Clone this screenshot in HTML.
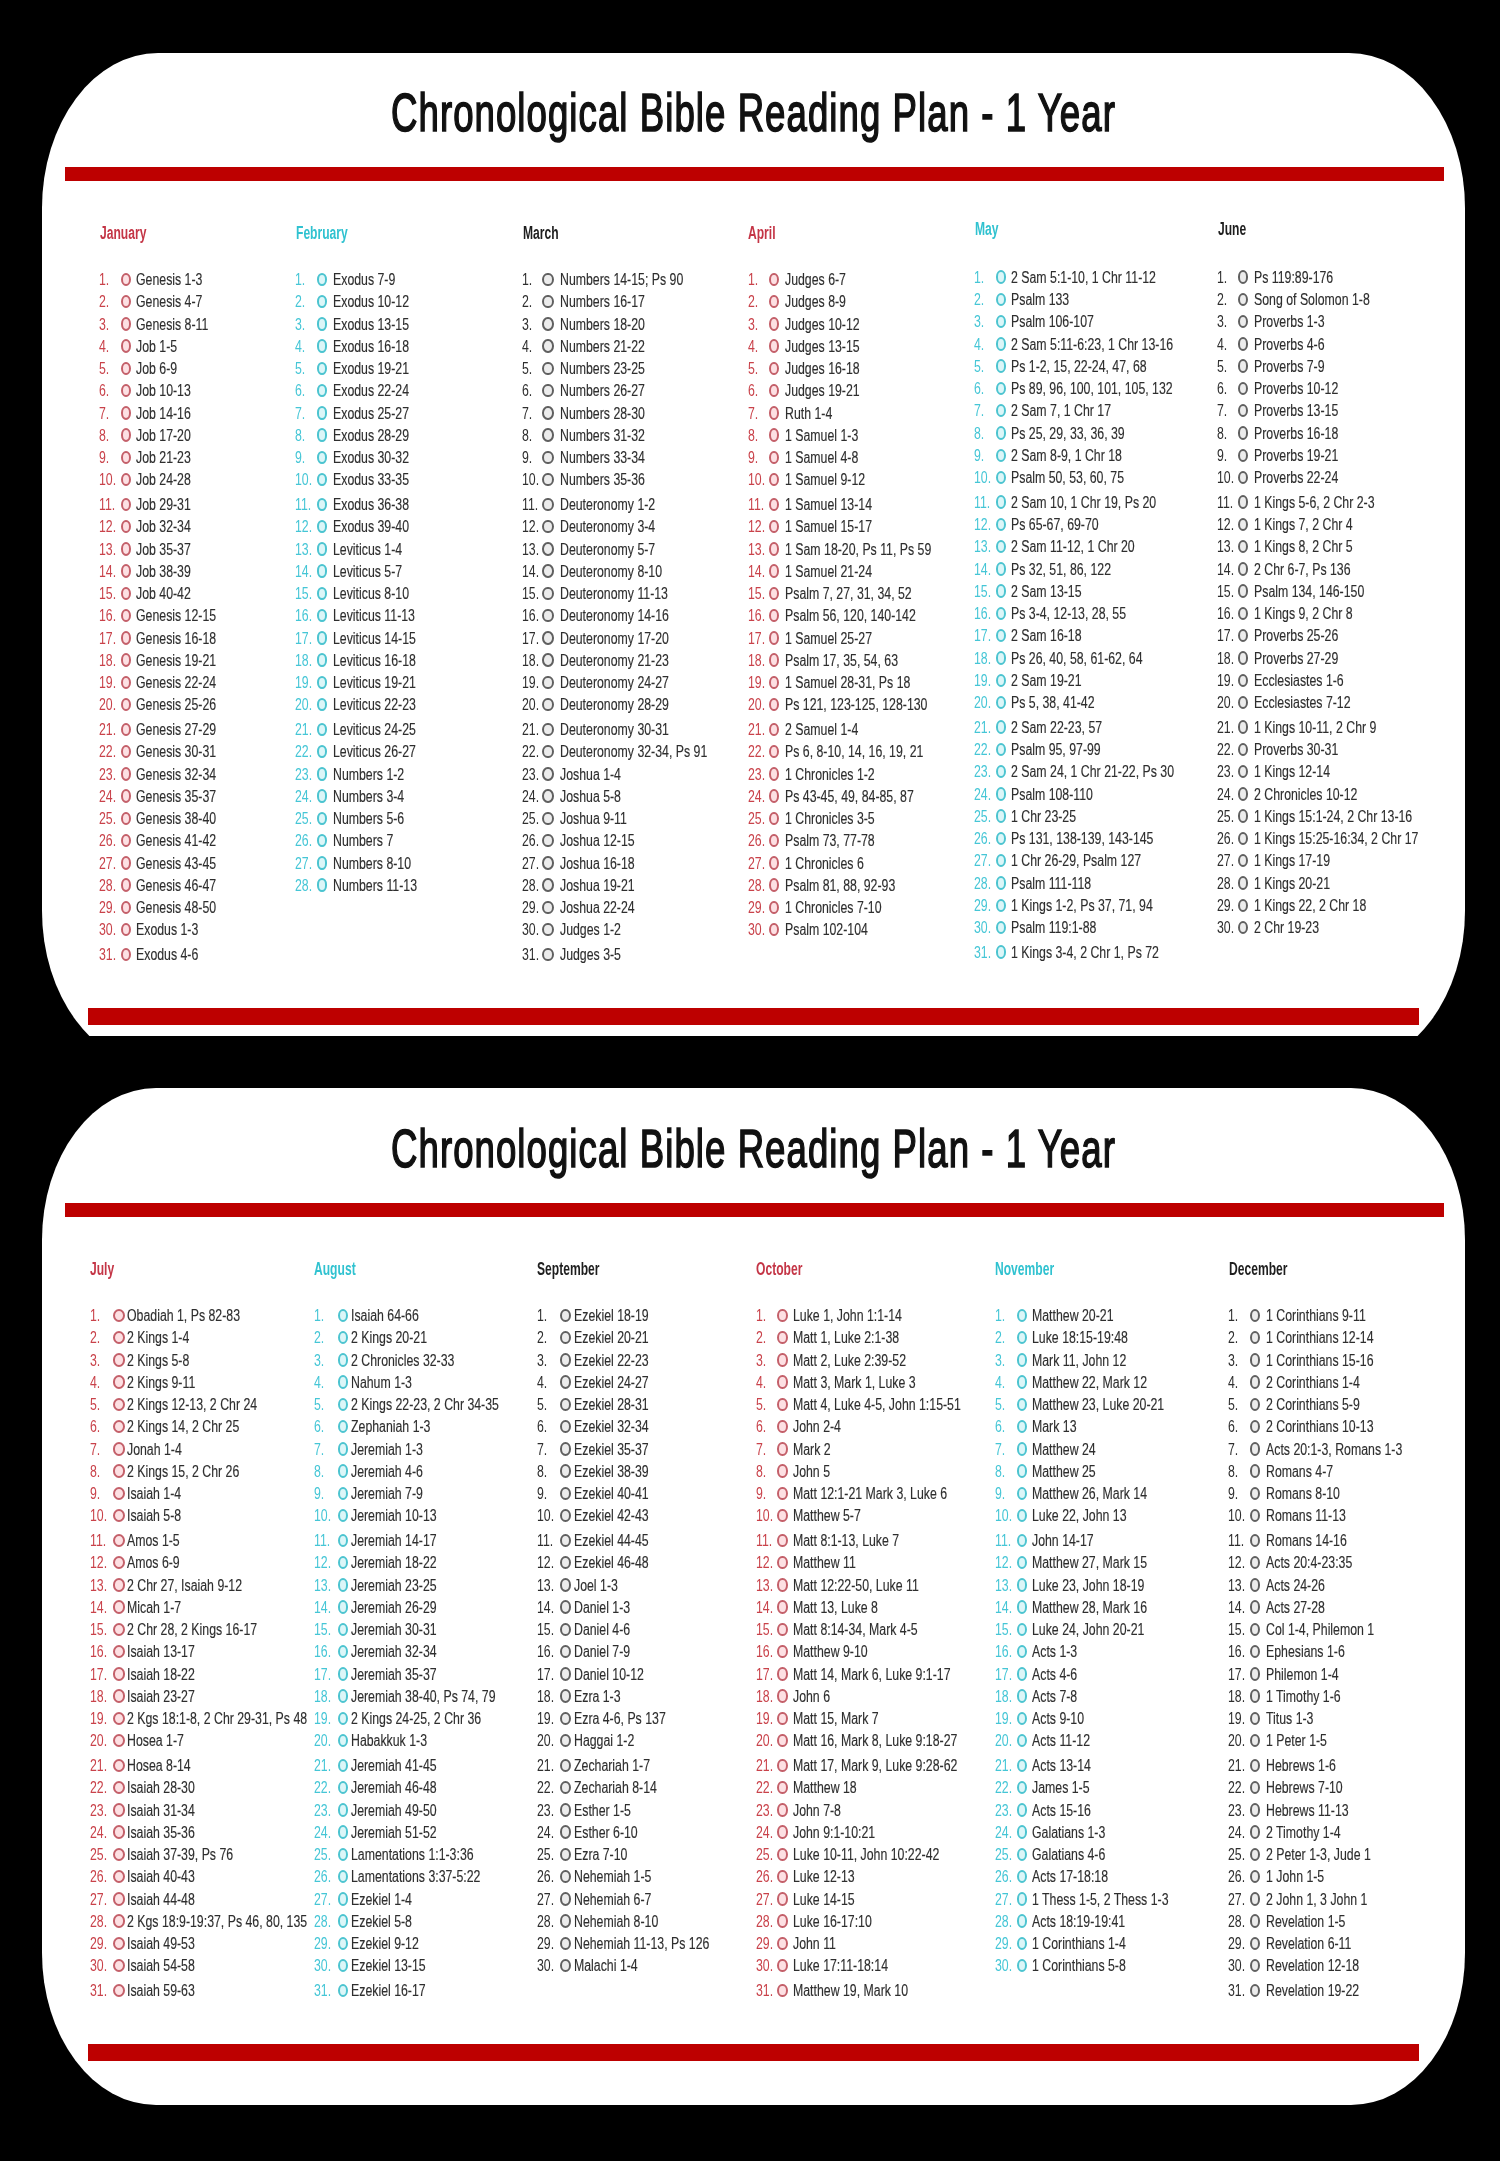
<!DOCTYPE html>
<html><head><meta charset="utf-8"><title>Chronological Bible Reading Plan</title>
<style>
html,body{margin:0;padding:0;background:#000;}
body{width:1500px;height:2161px;position:relative;overflow:hidden;font-family:"Liberation Sans",sans-serif;}
#w{position:absolute;left:0;top:0;width:1500px;height:2161px;filter:blur(0.5px);}
.t{position:absolute;line-height:1;white-space:nowrap;transform-origin:0 0;}
.card{position:absolute;background:#fff;}
.clip{position:absolute;overflow:hidden;}
.bar{position:absolute;background:#bd0000;}
.c{position:absolute;box-sizing:border-box;border-radius:50%;}
</style></head><body><div id="w">

<div class="clip" style="left:0;top:53px;width:1500px;height:983px;"><div class="card" style="left:42px;top:0;width:1423px;height:1013px;border-radius:116px/155px;"></div></div>
<div class="card" style="left:42px;top:1088px;width:1423px;height:1017px;border-radius:114px/152px;"></div>
<div class="bar" style="left:64.5px;top:167px;width:1379px;height:14px;"></div>
<div class="bar" style="left:87.5px;top:1008px;width:1331px;height:17px;"></div>
<div class="bar" style="left:64.5px;top:1203px;width:1379px;height:13.5px;"></div>
<div class="bar" style="left:88px;top:2044px;width:1331px;height:16.5px;"></div>
<div class="t" style="left:391.4px;top:85.9px;font-size:53.0px;transform:scaleX(0.69);color:#111;font-weight:normal;-webkit-text-stroke:1.6px #111;letter-spacing:1.55px;">Chronological Bible Reading Plan - 1 Year</div>
<div class="t" style="left:391.4px;top:1121.6px;font-size:53.0px;transform:scaleX(0.69);color:#111;font-weight:normal;-webkit-text-stroke:1.6px #111;letter-spacing:1.55px;">Chronological Bible Reading Plan - 1 Year</div>
<div class="t" style="left:99.8px;top:223.8px;font-size:18.0px;transform:scaleX(0.672);color:#c43546;font-weight:bold;">January</div>
<div class="t" style="left:99.0px;top:272.0px;font-size:16.0px;transform:scaleX(0.77);color:#c9424a;font-weight:normal;">1.</div>
<div class="c" style="left:121.0px;top:272.5px;width:10.2px;height:13.5px;border:2.4px solid #c4606a;background:#fde0e3;"></div>
<div class="t" style="left:135.6px;top:272.0px;font-size:16.0px;transform:scaleX(0.77);color:#2e2e2e;font-weight:normal;-webkit-text-stroke:0.15px #2e2e2e;">Genesis 1-3</div>
<div class="t" style="left:99.0px;top:294.2px;font-size:16.0px;transform:scaleX(0.77);color:#c9424a;font-weight:normal;">2.</div>
<div class="c" style="left:121.0px;top:294.8px;width:10.2px;height:13.5px;border:2.4px solid #c4606a;background:#fde0e3;"></div>
<div class="t" style="left:135.6px;top:294.2px;font-size:16.0px;transform:scaleX(0.77);color:#2e2e2e;font-weight:normal;-webkit-text-stroke:0.15px #2e2e2e;">Genesis 4-7</div>
<div class="t" style="left:99.0px;top:316.5px;font-size:16.0px;transform:scaleX(0.77);color:#c9424a;font-weight:normal;">3.</div>
<div class="c" style="left:121.0px;top:317.0px;width:10.2px;height:13.5px;border:2.4px solid #c4606a;background:#fde0e3;"></div>
<div class="t" style="left:135.6px;top:316.5px;font-size:16.0px;transform:scaleX(0.77);color:#2e2e2e;font-weight:normal;-webkit-text-stroke:0.15px #2e2e2e;">Genesis 8-11</div>
<div class="t" style="left:99.0px;top:338.8px;font-size:16.0px;transform:scaleX(0.77);color:#c9424a;font-weight:normal;">4.</div>
<div class="c" style="left:121.0px;top:339.3px;width:10.2px;height:13.5px;border:2.4px solid #c4606a;background:#fde0e3;"></div>
<div class="t" style="left:135.6px;top:338.8px;font-size:16.0px;transform:scaleX(0.77);color:#2e2e2e;font-weight:normal;-webkit-text-stroke:0.15px #2e2e2e;">Job 1-5</div>
<div class="t" style="left:99.0px;top:361.0px;font-size:16.0px;transform:scaleX(0.77);color:#c9424a;font-weight:normal;">5.</div>
<div class="c" style="left:121.0px;top:361.6px;width:10.2px;height:13.5px;border:2.4px solid #c4606a;background:#fde0e3;"></div>
<div class="t" style="left:135.6px;top:361.0px;font-size:16.0px;transform:scaleX(0.77);color:#2e2e2e;font-weight:normal;-webkit-text-stroke:0.15px #2e2e2e;">Job 6-9</div>
<div class="t" style="left:99.0px;top:383.3px;font-size:16.0px;transform:scaleX(0.77);color:#c9424a;font-weight:normal;">6.</div>
<div class="c" style="left:121.0px;top:383.9px;width:10.2px;height:13.5px;border:2.4px solid #c4606a;background:#fde0e3;"></div>
<div class="t" style="left:135.6px;top:383.3px;font-size:16.0px;transform:scaleX(0.77);color:#2e2e2e;font-weight:normal;-webkit-text-stroke:0.15px #2e2e2e;">Job 10-13</div>
<div class="t" style="left:99.0px;top:405.6px;font-size:16.0px;transform:scaleX(0.77);color:#c9424a;font-weight:normal;">7.</div>
<div class="c" style="left:121.0px;top:406.1px;width:10.2px;height:13.5px;border:2.4px solid #c4606a;background:#fde0e3;"></div>
<div class="t" style="left:135.6px;top:405.6px;font-size:16.0px;transform:scaleX(0.77);color:#2e2e2e;font-weight:normal;-webkit-text-stroke:0.15px #2e2e2e;">Job 14-16</div>
<div class="t" style="left:99.0px;top:427.8px;font-size:16.0px;transform:scaleX(0.77);color:#c9424a;font-weight:normal;">8.</div>
<div class="c" style="left:121.0px;top:428.4px;width:10.2px;height:13.5px;border:2.4px solid #c4606a;background:#fde0e3;"></div>
<div class="t" style="left:135.6px;top:427.8px;font-size:16.0px;transform:scaleX(0.77);color:#2e2e2e;font-weight:normal;-webkit-text-stroke:0.15px #2e2e2e;">Job 17-20</div>
<div class="t" style="left:99.0px;top:450.1px;font-size:16.0px;transform:scaleX(0.77);color:#c9424a;font-weight:normal;">9.</div>
<div class="c" style="left:121.0px;top:450.7px;width:10.2px;height:13.5px;border:2.4px solid #c4606a;background:#fde0e3;"></div>
<div class="t" style="left:135.6px;top:450.1px;font-size:16.0px;transform:scaleX(0.77);color:#2e2e2e;font-weight:normal;-webkit-text-stroke:0.15px #2e2e2e;">Job 21-23</div>
<div class="t" style="left:99.0px;top:472.4px;font-size:16.0px;transform:scaleX(0.77);color:#c9424a;font-weight:normal;">10.</div>
<div class="c" style="left:121.0px;top:472.9px;width:10.2px;height:13.5px;border:2.4px solid #c4606a;background:#fde0e3;"></div>
<div class="t" style="left:135.6px;top:472.4px;font-size:16.0px;transform:scaleX(0.77);color:#2e2e2e;font-weight:normal;-webkit-text-stroke:0.15px #2e2e2e;">Job 24-28</div>
<div class="t" style="left:99.0px;top:497.0px;font-size:16.0px;transform:scaleX(0.77);color:#c9424a;font-weight:normal;">11.</div>
<div class="c" style="left:121.0px;top:497.5px;width:10.2px;height:13.5px;border:2.4px solid #c4606a;background:#fde0e3;"></div>
<div class="t" style="left:135.6px;top:497.0px;font-size:16.0px;transform:scaleX(0.77);color:#2e2e2e;font-weight:normal;-webkit-text-stroke:0.15px #2e2e2e;">Job 29-31</div>
<div class="t" style="left:99.0px;top:519.2px;font-size:16.0px;transform:scaleX(0.77);color:#c9424a;font-weight:normal;">12.</div>
<div class="c" style="left:121.0px;top:519.8px;width:10.2px;height:13.5px;border:2.4px solid #c4606a;background:#fde0e3;"></div>
<div class="t" style="left:135.6px;top:519.2px;font-size:16.0px;transform:scaleX(0.77);color:#2e2e2e;font-weight:normal;-webkit-text-stroke:0.15px #2e2e2e;">Job 32-34</div>
<div class="t" style="left:99.0px;top:541.5px;font-size:16.0px;transform:scaleX(0.77);color:#c9424a;font-weight:normal;">13.</div>
<div class="c" style="left:121.0px;top:542.0px;width:10.2px;height:13.5px;border:2.4px solid #c4606a;background:#fde0e3;"></div>
<div class="t" style="left:135.6px;top:541.5px;font-size:16.0px;transform:scaleX(0.77);color:#2e2e2e;font-weight:normal;-webkit-text-stroke:0.15px #2e2e2e;">Job 35-37</div>
<div class="t" style="left:99.0px;top:563.8px;font-size:16.0px;transform:scaleX(0.77);color:#c9424a;font-weight:normal;">14.</div>
<div class="c" style="left:121.0px;top:564.3px;width:10.2px;height:13.5px;border:2.4px solid #c4606a;background:#fde0e3;"></div>
<div class="t" style="left:135.6px;top:563.8px;font-size:16.0px;transform:scaleX(0.77);color:#2e2e2e;font-weight:normal;-webkit-text-stroke:0.15px #2e2e2e;">Job 38-39</div>
<div class="t" style="left:99.0px;top:586.0px;font-size:16.0px;transform:scaleX(0.77);color:#c9424a;font-weight:normal;">15.</div>
<div class="c" style="left:121.0px;top:586.6px;width:10.2px;height:13.5px;border:2.4px solid #c4606a;background:#fde0e3;"></div>
<div class="t" style="left:135.6px;top:586.0px;font-size:16.0px;transform:scaleX(0.77);color:#2e2e2e;font-weight:normal;-webkit-text-stroke:0.15px #2e2e2e;">Job 40-42</div>
<div class="t" style="left:99.0px;top:608.3px;font-size:16.0px;transform:scaleX(0.77);color:#c9424a;font-weight:normal;">16.</div>
<div class="c" style="left:121.0px;top:608.8px;width:10.2px;height:13.5px;border:2.4px solid #c4606a;background:#fde0e3;"></div>
<div class="t" style="left:135.6px;top:608.3px;font-size:16.0px;transform:scaleX(0.77);color:#2e2e2e;font-weight:normal;-webkit-text-stroke:0.15px #2e2e2e;">Genesis 12-15</div>
<div class="t" style="left:99.0px;top:630.6px;font-size:16.0px;transform:scaleX(0.77);color:#c9424a;font-weight:normal;">17.</div>
<div class="c" style="left:121.0px;top:631.1px;width:10.2px;height:13.5px;border:2.4px solid #c4606a;background:#fde0e3;"></div>
<div class="t" style="left:135.6px;top:630.6px;font-size:16.0px;transform:scaleX(0.77);color:#2e2e2e;font-weight:normal;-webkit-text-stroke:0.15px #2e2e2e;">Genesis 16-18</div>
<div class="t" style="left:99.0px;top:652.8px;font-size:16.0px;transform:scaleX(0.77);color:#c9424a;font-weight:normal;">18.</div>
<div class="c" style="left:121.0px;top:653.4px;width:10.2px;height:13.5px;border:2.4px solid #c4606a;background:#fde0e3;"></div>
<div class="t" style="left:135.6px;top:652.8px;font-size:16.0px;transform:scaleX(0.77);color:#2e2e2e;font-weight:normal;-webkit-text-stroke:0.15px #2e2e2e;">Genesis 19-21</div>
<div class="t" style="left:99.0px;top:675.1px;font-size:16.0px;transform:scaleX(0.77);color:#c9424a;font-weight:normal;">19.</div>
<div class="c" style="left:121.0px;top:675.7px;width:10.2px;height:13.5px;border:2.4px solid #c4606a;background:#fde0e3;"></div>
<div class="t" style="left:135.6px;top:675.1px;font-size:16.0px;transform:scaleX(0.77);color:#2e2e2e;font-weight:normal;-webkit-text-stroke:0.15px #2e2e2e;">Genesis 22-24</div>
<div class="t" style="left:99.0px;top:697.4px;font-size:16.0px;transform:scaleX(0.77);color:#c9424a;font-weight:normal;">20.</div>
<div class="c" style="left:121.0px;top:697.9px;width:10.2px;height:13.5px;border:2.4px solid #c4606a;background:#fde0e3;"></div>
<div class="t" style="left:135.6px;top:697.4px;font-size:16.0px;transform:scaleX(0.77);color:#2e2e2e;font-weight:normal;-webkit-text-stroke:0.15px #2e2e2e;">Genesis 25-26</div>
<div class="t" style="left:99.0px;top:722.0px;font-size:16.0px;transform:scaleX(0.77);color:#c9424a;font-weight:normal;">21.</div>
<div class="c" style="left:121.0px;top:722.5px;width:10.2px;height:13.5px;border:2.4px solid #c4606a;background:#fde0e3;"></div>
<div class="t" style="left:135.6px;top:722.0px;font-size:16.0px;transform:scaleX(0.77);color:#2e2e2e;font-weight:normal;-webkit-text-stroke:0.15px #2e2e2e;">Genesis 27-29</div>
<div class="t" style="left:99.0px;top:744.2px;font-size:16.0px;transform:scaleX(0.77);color:#c9424a;font-weight:normal;">22.</div>
<div class="c" style="left:121.0px;top:744.8px;width:10.2px;height:13.5px;border:2.4px solid #c4606a;background:#fde0e3;"></div>
<div class="t" style="left:135.6px;top:744.2px;font-size:16.0px;transform:scaleX(0.77);color:#2e2e2e;font-weight:normal;-webkit-text-stroke:0.15px #2e2e2e;">Genesis 30-31</div>
<div class="t" style="left:99.0px;top:766.5px;font-size:16.0px;transform:scaleX(0.77);color:#c9424a;font-weight:normal;">23.</div>
<div class="c" style="left:121.0px;top:767.0px;width:10.2px;height:13.5px;border:2.4px solid #c4606a;background:#fde0e3;"></div>
<div class="t" style="left:135.6px;top:766.5px;font-size:16.0px;transform:scaleX(0.77);color:#2e2e2e;font-weight:normal;-webkit-text-stroke:0.15px #2e2e2e;">Genesis 32-34</div>
<div class="t" style="left:99.0px;top:788.8px;font-size:16.0px;transform:scaleX(0.77);color:#c9424a;font-weight:normal;">24.</div>
<div class="c" style="left:121.0px;top:789.3px;width:10.2px;height:13.5px;border:2.4px solid #c4606a;background:#fde0e3;"></div>
<div class="t" style="left:135.6px;top:788.8px;font-size:16.0px;transform:scaleX(0.77);color:#2e2e2e;font-weight:normal;-webkit-text-stroke:0.15px #2e2e2e;">Genesis 35-37</div>
<div class="t" style="left:99.0px;top:811.0px;font-size:16.0px;transform:scaleX(0.77);color:#c9424a;font-weight:normal;">25.</div>
<div class="c" style="left:121.0px;top:811.6px;width:10.2px;height:13.5px;border:2.4px solid #c4606a;background:#fde0e3;"></div>
<div class="t" style="left:135.6px;top:811.0px;font-size:16.0px;transform:scaleX(0.77);color:#2e2e2e;font-weight:normal;-webkit-text-stroke:0.15px #2e2e2e;">Genesis 38-40</div>
<div class="t" style="left:99.0px;top:833.3px;font-size:16.0px;transform:scaleX(0.77);color:#c9424a;font-weight:normal;">26.</div>
<div class="c" style="left:121.0px;top:833.9px;width:10.2px;height:13.5px;border:2.4px solid #c4606a;background:#fde0e3;"></div>
<div class="t" style="left:135.6px;top:833.3px;font-size:16.0px;transform:scaleX(0.77);color:#2e2e2e;font-weight:normal;-webkit-text-stroke:0.15px #2e2e2e;">Genesis 41-42</div>
<div class="t" style="left:99.0px;top:855.6px;font-size:16.0px;transform:scaleX(0.77);color:#c9424a;font-weight:normal;">27.</div>
<div class="c" style="left:121.0px;top:856.1px;width:10.2px;height:13.5px;border:2.4px solid #c4606a;background:#fde0e3;"></div>
<div class="t" style="left:135.6px;top:855.6px;font-size:16.0px;transform:scaleX(0.77);color:#2e2e2e;font-weight:normal;-webkit-text-stroke:0.15px #2e2e2e;">Genesis 43-45</div>
<div class="t" style="left:99.0px;top:877.8px;font-size:16.0px;transform:scaleX(0.77);color:#c9424a;font-weight:normal;">28.</div>
<div class="c" style="left:121.0px;top:878.4px;width:10.2px;height:13.5px;border:2.4px solid #c4606a;background:#fde0e3;"></div>
<div class="t" style="left:135.6px;top:877.8px;font-size:16.0px;transform:scaleX(0.77);color:#2e2e2e;font-weight:normal;-webkit-text-stroke:0.15px #2e2e2e;">Genesis 46-47</div>
<div class="t" style="left:99.0px;top:900.1px;font-size:16.0px;transform:scaleX(0.77);color:#c9424a;font-weight:normal;">29.</div>
<div class="c" style="left:121.0px;top:900.7px;width:10.2px;height:13.5px;border:2.4px solid #c4606a;background:#fde0e3;"></div>
<div class="t" style="left:135.6px;top:900.1px;font-size:16.0px;transform:scaleX(0.77);color:#2e2e2e;font-weight:normal;-webkit-text-stroke:0.15px #2e2e2e;">Genesis 48-50</div>
<div class="t" style="left:99.0px;top:922.4px;font-size:16.0px;transform:scaleX(0.77);color:#c9424a;font-weight:normal;">30.</div>
<div class="c" style="left:121.0px;top:922.9px;width:10.2px;height:13.5px;border:2.4px solid #c4606a;background:#fde0e3;"></div>
<div class="t" style="left:135.6px;top:922.4px;font-size:16.0px;transform:scaleX(0.77);color:#2e2e2e;font-weight:normal;-webkit-text-stroke:0.15px #2e2e2e;">Exodus 1-3</div>
<div class="t" style="left:99.0px;top:947.0px;font-size:16.0px;transform:scaleX(0.77);color:#c9424a;font-weight:normal;">31.</div>
<div class="c" style="left:121.0px;top:947.5px;width:10.2px;height:13.5px;border:2.4px solid #c4606a;background:#fde0e3;"></div>
<div class="t" style="left:135.6px;top:947.0px;font-size:16.0px;transform:scaleX(0.77);color:#2e2e2e;font-weight:normal;-webkit-text-stroke:0.15px #2e2e2e;">Exodus 4-6</div>
<div class="t" style="left:295.7px;top:223.8px;font-size:18.0px;transform:scaleX(0.672);color:#30c2d0;font-weight:bold;">February</div>
<div class="t" style="left:295.0px;top:272.0px;font-size:16.0px;transform:scaleX(0.77);color:#45c6d6;font-weight:normal;">1.</div>
<div class="c" style="left:316.7px;top:272.5px;width:10.6px;height:13.5px;border:2.4px solid #4cc4d0;background:#dcf6f8;"></div>
<div class="t" style="left:332.5px;top:272.0px;font-size:16.0px;transform:scaleX(0.77);color:#2e2e2e;font-weight:normal;-webkit-text-stroke:0.15px #2e2e2e;">Exodus 7-9</div>
<div class="t" style="left:295.0px;top:294.2px;font-size:16.0px;transform:scaleX(0.77);color:#45c6d6;font-weight:normal;">2.</div>
<div class="c" style="left:316.7px;top:294.8px;width:10.6px;height:13.5px;border:2.4px solid #4cc4d0;background:#dcf6f8;"></div>
<div class="t" style="left:332.5px;top:294.2px;font-size:16.0px;transform:scaleX(0.77);color:#2e2e2e;font-weight:normal;-webkit-text-stroke:0.15px #2e2e2e;">Exodus 10-12</div>
<div class="t" style="left:295.0px;top:316.5px;font-size:16.0px;transform:scaleX(0.77);color:#45c6d6;font-weight:normal;">3.</div>
<div class="c" style="left:316.7px;top:317.0px;width:10.6px;height:13.5px;border:2.4px solid #4cc4d0;background:#dcf6f8;"></div>
<div class="t" style="left:332.5px;top:316.5px;font-size:16.0px;transform:scaleX(0.77);color:#2e2e2e;font-weight:normal;-webkit-text-stroke:0.15px #2e2e2e;">Exodus 13-15</div>
<div class="t" style="left:295.0px;top:338.8px;font-size:16.0px;transform:scaleX(0.77);color:#45c6d6;font-weight:normal;">4.</div>
<div class="c" style="left:316.7px;top:339.3px;width:10.6px;height:13.5px;border:2.4px solid #4cc4d0;background:#dcf6f8;"></div>
<div class="t" style="left:332.5px;top:338.8px;font-size:16.0px;transform:scaleX(0.77);color:#2e2e2e;font-weight:normal;-webkit-text-stroke:0.15px #2e2e2e;">Exodus 16-18</div>
<div class="t" style="left:295.0px;top:361.0px;font-size:16.0px;transform:scaleX(0.77);color:#45c6d6;font-weight:normal;">5.</div>
<div class="c" style="left:316.7px;top:361.6px;width:10.6px;height:13.5px;border:2.4px solid #4cc4d0;background:#dcf6f8;"></div>
<div class="t" style="left:332.5px;top:361.0px;font-size:16.0px;transform:scaleX(0.77);color:#2e2e2e;font-weight:normal;-webkit-text-stroke:0.15px #2e2e2e;">Exodus 19-21</div>
<div class="t" style="left:295.0px;top:383.3px;font-size:16.0px;transform:scaleX(0.77);color:#45c6d6;font-weight:normal;">6.</div>
<div class="c" style="left:316.7px;top:383.9px;width:10.6px;height:13.5px;border:2.4px solid #4cc4d0;background:#dcf6f8;"></div>
<div class="t" style="left:332.5px;top:383.3px;font-size:16.0px;transform:scaleX(0.77);color:#2e2e2e;font-weight:normal;-webkit-text-stroke:0.15px #2e2e2e;">Exodus 22-24</div>
<div class="t" style="left:295.0px;top:405.6px;font-size:16.0px;transform:scaleX(0.77);color:#45c6d6;font-weight:normal;">7.</div>
<div class="c" style="left:316.7px;top:406.1px;width:10.6px;height:13.5px;border:2.4px solid #4cc4d0;background:#dcf6f8;"></div>
<div class="t" style="left:332.5px;top:405.6px;font-size:16.0px;transform:scaleX(0.77);color:#2e2e2e;font-weight:normal;-webkit-text-stroke:0.15px #2e2e2e;">Exodus 25-27</div>
<div class="t" style="left:295.0px;top:427.8px;font-size:16.0px;transform:scaleX(0.77);color:#45c6d6;font-weight:normal;">8.</div>
<div class="c" style="left:316.7px;top:428.4px;width:10.6px;height:13.5px;border:2.4px solid #4cc4d0;background:#dcf6f8;"></div>
<div class="t" style="left:332.5px;top:427.8px;font-size:16.0px;transform:scaleX(0.77);color:#2e2e2e;font-weight:normal;-webkit-text-stroke:0.15px #2e2e2e;">Exodus 28-29</div>
<div class="t" style="left:295.0px;top:450.1px;font-size:16.0px;transform:scaleX(0.77);color:#45c6d6;font-weight:normal;">9.</div>
<div class="c" style="left:316.7px;top:450.7px;width:10.6px;height:13.5px;border:2.4px solid #4cc4d0;background:#dcf6f8;"></div>
<div class="t" style="left:332.5px;top:450.1px;font-size:16.0px;transform:scaleX(0.77);color:#2e2e2e;font-weight:normal;-webkit-text-stroke:0.15px #2e2e2e;">Exodus 30-32</div>
<div class="t" style="left:295.0px;top:472.4px;font-size:16.0px;transform:scaleX(0.77);color:#45c6d6;font-weight:normal;">10.</div>
<div class="c" style="left:316.7px;top:472.9px;width:10.6px;height:13.5px;border:2.4px solid #4cc4d0;background:#dcf6f8;"></div>
<div class="t" style="left:332.5px;top:472.4px;font-size:16.0px;transform:scaleX(0.77);color:#2e2e2e;font-weight:normal;-webkit-text-stroke:0.15px #2e2e2e;">Exodus 33-35</div>
<div class="t" style="left:295.0px;top:497.0px;font-size:16.0px;transform:scaleX(0.77);color:#45c6d6;font-weight:normal;">11.</div>
<div class="c" style="left:316.7px;top:497.5px;width:10.6px;height:13.5px;border:2.4px solid #4cc4d0;background:#dcf6f8;"></div>
<div class="t" style="left:332.5px;top:497.0px;font-size:16.0px;transform:scaleX(0.77);color:#2e2e2e;font-weight:normal;-webkit-text-stroke:0.15px #2e2e2e;">Exodus 36-38</div>
<div class="t" style="left:295.0px;top:519.2px;font-size:16.0px;transform:scaleX(0.77);color:#45c6d6;font-weight:normal;">12.</div>
<div class="c" style="left:316.7px;top:519.8px;width:10.6px;height:13.5px;border:2.4px solid #4cc4d0;background:#dcf6f8;"></div>
<div class="t" style="left:332.5px;top:519.2px;font-size:16.0px;transform:scaleX(0.77);color:#2e2e2e;font-weight:normal;-webkit-text-stroke:0.15px #2e2e2e;">Exodus 39-40</div>
<div class="t" style="left:295.0px;top:541.5px;font-size:16.0px;transform:scaleX(0.77);color:#45c6d6;font-weight:normal;">13.</div>
<div class="c" style="left:316.7px;top:542.0px;width:10.6px;height:13.5px;border:2.4px solid #4cc4d0;background:#dcf6f8;"></div>
<div class="t" style="left:332.5px;top:541.5px;font-size:16.0px;transform:scaleX(0.77);color:#2e2e2e;font-weight:normal;-webkit-text-stroke:0.15px #2e2e2e;">Leviticus 1-4</div>
<div class="t" style="left:295.0px;top:563.8px;font-size:16.0px;transform:scaleX(0.77);color:#45c6d6;font-weight:normal;">14.</div>
<div class="c" style="left:316.7px;top:564.3px;width:10.6px;height:13.5px;border:2.4px solid #4cc4d0;background:#dcf6f8;"></div>
<div class="t" style="left:332.5px;top:563.8px;font-size:16.0px;transform:scaleX(0.77);color:#2e2e2e;font-weight:normal;-webkit-text-stroke:0.15px #2e2e2e;">Leviticus 5-7</div>
<div class="t" style="left:295.0px;top:586.0px;font-size:16.0px;transform:scaleX(0.77);color:#45c6d6;font-weight:normal;">15.</div>
<div class="c" style="left:316.7px;top:586.6px;width:10.6px;height:13.5px;border:2.4px solid #4cc4d0;background:#dcf6f8;"></div>
<div class="t" style="left:332.5px;top:586.0px;font-size:16.0px;transform:scaleX(0.77);color:#2e2e2e;font-weight:normal;-webkit-text-stroke:0.15px #2e2e2e;">Leviticus 8-10</div>
<div class="t" style="left:295.0px;top:608.3px;font-size:16.0px;transform:scaleX(0.77);color:#45c6d6;font-weight:normal;">16.</div>
<div class="c" style="left:316.7px;top:608.8px;width:10.6px;height:13.5px;border:2.4px solid #4cc4d0;background:#dcf6f8;"></div>
<div class="t" style="left:332.5px;top:608.3px;font-size:16.0px;transform:scaleX(0.77);color:#2e2e2e;font-weight:normal;-webkit-text-stroke:0.15px #2e2e2e;">Leviticus 11-13</div>
<div class="t" style="left:295.0px;top:630.6px;font-size:16.0px;transform:scaleX(0.77);color:#45c6d6;font-weight:normal;">17.</div>
<div class="c" style="left:316.7px;top:631.1px;width:10.6px;height:13.5px;border:2.4px solid #4cc4d0;background:#dcf6f8;"></div>
<div class="t" style="left:332.5px;top:630.6px;font-size:16.0px;transform:scaleX(0.77);color:#2e2e2e;font-weight:normal;-webkit-text-stroke:0.15px #2e2e2e;">Leviticus 14-15</div>
<div class="t" style="left:295.0px;top:652.8px;font-size:16.0px;transform:scaleX(0.77);color:#45c6d6;font-weight:normal;">18.</div>
<div class="c" style="left:316.7px;top:653.4px;width:10.6px;height:13.5px;border:2.4px solid #4cc4d0;background:#dcf6f8;"></div>
<div class="t" style="left:332.5px;top:652.8px;font-size:16.0px;transform:scaleX(0.77);color:#2e2e2e;font-weight:normal;-webkit-text-stroke:0.15px #2e2e2e;">Leviticus 16-18</div>
<div class="t" style="left:295.0px;top:675.1px;font-size:16.0px;transform:scaleX(0.77);color:#45c6d6;font-weight:normal;">19.</div>
<div class="c" style="left:316.7px;top:675.7px;width:10.6px;height:13.5px;border:2.4px solid #4cc4d0;background:#dcf6f8;"></div>
<div class="t" style="left:332.5px;top:675.1px;font-size:16.0px;transform:scaleX(0.77);color:#2e2e2e;font-weight:normal;-webkit-text-stroke:0.15px #2e2e2e;">Leviticus 19-21</div>
<div class="t" style="left:295.0px;top:697.4px;font-size:16.0px;transform:scaleX(0.77);color:#45c6d6;font-weight:normal;">20.</div>
<div class="c" style="left:316.7px;top:697.9px;width:10.6px;height:13.5px;border:2.4px solid #4cc4d0;background:#dcf6f8;"></div>
<div class="t" style="left:332.5px;top:697.4px;font-size:16.0px;transform:scaleX(0.77);color:#2e2e2e;font-weight:normal;-webkit-text-stroke:0.15px #2e2e2e;">Leviticus 22-23</div>
<div class="t" style="left:295.0px;top:722.0px;font-size:16.0px;transform:scaleX(0.77);color:#45c6d6;font-weight:normal;">21.</div>
<div class="c" style="left:316.7px;top:722.5px;width:10.6px;height:13.5px;border:2.4px solid #4cc4d0;background:#dcf6f8;"></div>
<div class="t" style="left:332.5px;top:722.0px;font-size:16.0px;transform:scaleX(0.77);color:#2e2e2e;font-weight:normal;-webkit-text-stroke:0.15px #2e2e2e;">Leviticus 24-25</div>
<div class="t" style="left:295.0px;top:744.2px;font-size:16.0px;transform:scaleX(0.77);color:#45c6d6;font-weight:normal;">22.</div>
<div class="c" style="left:316.7px;top:744.8px;width:10.6px;height:13.5px;border:2.4px solid #4cc4d0;background:#dcf6f8;"></div>
<div class="t" style="left:332.5px;top:744.2px;font-size:16.0px;transform:scaleX(0.77);color:#2e2e2e;font-weight:normal;-webkit-text-stroke:0.15px #2e2e2e;">Leviticus 26-27</div>
<div class="t" style="left:295.0px;top:766.5px;font-size:16.0px;transform:scaleX(0.77);color:#45c6d6;font-weight:normal;">23.</div>
<div class="c" style="left:316.7px;top:767.0px;width:10.6px;height:13.5px;border:2.4px solid #4cc4d0;background:#dcf6f8;"></div>
<div class="t" style="left:332.5px;top:766.5px;font-size:16.0px;transform:scaleX(0.77);color:#2e2e2e;font-weight:normal;-webkit-text-stroke:0.15px #2e2e2e;">Numbers 1-2</div>
<div class="t" style="left:295.0px;top:788.8px;font-size:16.0px;transform:scaleX(0.77);color:#45c6d6;font-weight:normal;">24.</div>
<div class="c" style="left:316.7px;top:789.3px;width:10.6px;height:13.5px;border:2.4px solid #4cc4d0;background:#dcf6f8;"></div>
<div class="t" style="left:332.5px;top:788.8px;font-size:16.0px;transform:scaleX(0.77);color:#2e2e2e;font-weight:normal;-webkit-text-stroke:0.15px #2e2e2e;">Numbers 3-4</div>
<div class="t" style="left:295.0px;top:811.0px;font-size:16.0px;transform:scaleX(0.77);color:#45c6d6;font-weight:normal;">25.</div>
<div class="c" style="left:316.7px;top:811.6px;width:10.6px;height:13.5px;border:2.4px solid #4cc4d0;background:#dcf6f8;"></div>
<div class="t" style="left:332.5px;top:811.0px;font-size:16.0px;transform:scaleX(0.77);color:#2e2e2e;font-weight:normal;-webkit-text-stroke:0.15px #2e2e2e;">Numbers 5-6</div>
<div class="t" style="left:295.0px;top:833.3px;font-size:16.0px;transform:scaleX(0.77);color:#45c6d6;font-weight:normal;">26.</div>
<div class="c" style="left:316.7px;top:833.9px;width:10.6px;height:13.5px;border:2.4px solid #4cc4d0;background:#dcf6f8;"></div>
<div class="t" style="left:332.5px;top:833.3px;font-size:16.0px;transform:scaleX(0.77);color:#2e2e2e;font-weight:normal;-webkit-text-stroke:0.15px #2e2e2e;">Numbers 7</div>
<div class="t" style="left:295.0px;top:855.6px;font-size:16.0px;transform:scaleX(0.77);color:#45c6d6;font-weight:normal;">27.</div>
<div class="c" style="left:316.7px;top:856.1px;width:10.6px;height:13.5px;border:2.4px solid #4cc4d0;background:#dcf6f8;"></div>
<div class="t" style="left:332.5px;top:855.6px;font-size:16.0px;transform:scaleX(0.77);color:#2e2e2e;font-weight:normal;-webkit-text-stroke:0.15px #2e2e2e;">Numbers 8-10</div>
<div class="t" style="left:295.0px;top:877.8px;font-size:16.0px;transform:scaleX(0.77);color:#45c6d6;font-weight:normal;">28.</div>
<div class="c" style="left:316.7px;top:878.4px;width:10.6px;height:13.5px;border:2.4px solid #4cc4d0;background:#dcf6f8;"></div>
<div class="t" style="left:332.5px;top:877.8px;font-size:16.0px;transform:scaleX(0.77);color:#2e2e2e;font-weight:normal;-webkit-text-stroke:0.15px #2e2e2e;">Numbers 11-13</div>
<div class="t" style="left:522.7px;top:223.8px;font-size:18.0px;transform:scaleX(0.672);color:#1e1e1e;font-weight:bold;">March</div>
<div class="t" style="left:522.0px;top:272.0px;font-size:16.0px;transform:scaleX(0.77);color:#2e2e2e;font-weight:normal;">1.</div>
<div class="c" style="left:542.0px;top:272.5px;width:11.5px;height:13.5px;border:2.4px solid #606060;background:#ececec;"></div>
<div class="t" style="left:559.9px;top:272.0px;font-size:16.0px;transform:scaleX(0.77);color:#2e2e2e;font-weight:normal;-webkit-text-stroke:0.15px #2e2e2e;">Numbers 14-15; Ps 90</div>
<div class="t" style="left:522.0px;top:294.2px;font-size:16.0px;transform:scaleX(0.77);color:#2e2e2e;font-weight:normal;">2.</div>
<div class="c" style="left:542.0px;top:294.8px;width:11.5px;height:13.5px;border:2.4px solid #606060;background:#ececec;"></div>
<div class="t" style="left:559.9px;top:294.2px;font-size:16.0px;transform:scaleX(0.77);color:#2e2e2e;font-weight:normal;-webkit-text-stroke:0.15px #2e2e2e;">Numbers 16-17</div>
<div class="t" style="left:522.0px;top:316.5px;font-size:16.0px;transform:scaleX(0.77);color:#2e2e2e;font-weight:normal;">3.</div>
<div class="c" style="left:542.0px;top:317.0px;width:11.5px;height:13.5px;border:2.4px solid #606060;background:#ececec;"></div>
<div class="t" style="left:559.9px;top:316.5px;font-size:16.0px;transform:scaleX(0.77);color:#2e2e2e;font-weight:normal;-webkit-text-stroke:0.15px #2e2e2e;">Numbers 18-20</div>
<div class="t" style="left:522.0px;top:338.8px;font-size:16.0px;transform:scaleX(0.77);color:#2e2e2e;font-weight:normal;">4.</div>
<div class="c" style="left:542.0px;top:339.3px;width:11.5px;height:13.5px;border:2.4px solid #606060;background:#ececec;"></div>
<div class="t" style="left:559.9px;top:338.8px;font-size:16.0px;transform:scaleX(0.77);color:#2e2e2e;font-weight:normal;-webkit-text-stroke:0.15px #2e2e2e;">Numbers 21-22</div>
<div class="t" style="left:522.0px;top:361.0px;font-size:16.0px;transform:scaleX(0.77);color:#2e2e2e;font-weight:normal;">5.</div>
<div class="c" style="left:542.0px;top:361.6px;width:11.5px;height:13.5px;border:2.4px solid #606060;background:#ececec;"></div>
<div class="t" style="left:559.9px;top:361.0px;font-size:16.0px;transform:scaleX(0.77);color:#2e2e2e;font-weight:normal;-webkit-text-stroke:0.15px #2e2e2e;">Numbers 23-25</div>
<div class="t" style="left:522.0px;top:383.3px;font-size:16.0px;transform:scaleX(0.77);color:#2e2e2e;font-weight:normal;">6.</div>
<div class="c" style="left:542.0px;top:383.9px;width:11.5px;height:13.5px;border:2.4px solid #606060;background:#ececec;"></div>
<div class="t" style="left:559.9px;top:383.3px;font-size:16.0px;transform:scaleX(0.77);color:#2e2e2e;font-weight:normal;-webkit-text-stroke:0.15px #2e2e2e;">Numbers 26-27</div>
<div class="t" style="left:522.0px;top:405.6px;font-size:16.0px;transform:scaleX(0.77);color:#2e2e2e;font-weight:normal;">7.</div>
<div class="c" style="left:542.0px;top:406.1px;width:11.5px;height:13.5px;border:2.4px solid #606060;background:#ececec;"></div>
<div class="t" style="left:559.9px;top:405.6px;font-size:16.0px;transform:scaleX(0.77);color:#2e2e2e;font-weight:normal;-webkit-text-stroke:0.15px #2e2e2e;">Numbers 28-30</div>
<div class="t" style="left:522.0px;top:427.8px;font-size:16.0px;transform:scaleX(0.77);color:#2e2e2e;font-weight:normal;">8.</div>
<div class="c" style="left:542.0px;top:428.4px;width:11.5px;height:13.5px;border:2.4px solid #606060;background:#ececec;"></div>
<div class="t" style="left:559.9px;top:427.8px;font-size:16.0px;transform:scaleX(0.77);color:#2e2e2e;font-weight:normal;-webkit-text-stroke:0.15px #2e2e2e;">Numbers 31-32</div>
<div class="t" style="left:522.0px;top:450.1px;font-size:16.0px;transform:scaleX(0.77);color:#2e2e2e;font-weight:normal;">9.</div>
<div class="c" style="left:542.0px;top:450.7px;width:11.5px;height:13.5px;border:2.4px solid #606060;background:#ececec;"></div>
<div class="t" style="left:559.9px;top:450.1px;font-size:16.0px;transform:scaleX(0.77);color:#2e2e2e;font-weight:normal;-webkit-text-stroke:0.15px #2e2e2e;">Numbers 33-34</div>
<div class="t" style="left:522.0px;top:472.4px;font-size:16.0px;transform:scaleX(0.77);color:#2e2e2e;font-weight:normal;">10.</div>
<div class="c" style="left:542.0px;top:472.9px;width:11.5px;height:13.5px;border:2.4px solid #606060;background:#ececec;"></div>
<div class="t" style="left:559.9px;top:472.4px;font-size:16.0px;transform:scaleX(0.77);color:#2e2e2e;font-weight:normal;-webkit-text-stroke:0.15px #2e2e2e;">Numbers 35-36</div>
<div class="t" style="left:522.0px;top:497.0px;font-size:16.0px;transform:scaleX(0.77);color:#2e2e2e;font-weight:normal;">11.</div>
<div class="c" style="left:542.0px;top:497.5px;width:11.5px;height:13.5px;border:2.4px solid #606060;background:#ececec;"></div>
<div class="t" style="left:559.9px;top:497.0px;font-size:16.0px;transform:scaleX(0.77);color:#2e2e2e;font-weight:normal;-webkit-text-stroke:0.15px #2e2e2e;">Deuteronomy 1-2</div>
<div class="t" style="left:522.0px;top:519.2px;font-size:16.0px;transform:scaleX(0.77);color:#2e2e2e;font-weight:normal;">12.</div>
<div class="c" style="left:542.0px;top:519.8px;width:11.5px;height:13.5px;border:2.4px solid #606060;background:#ececec;"></div>
<div class="t" style="left:559.9px;top:519.2px;font-size:16.0px;transform:scaleX(0.77);color:#2e2e2e;font-weight:normal;-webkit-text-stroke:0.15px #2e2e2e;">Deuteronomy 3-4</div>
<div class="t" style="left:522.0px;top:541.5px;font-size:16.0px;transform:scaleX(0.77);color:#2e2e2e;font-weight:normal;">13.</div>
<div class="c" style="left:542.0px;top:542.0px;width:11.5px;height:13.5px;border:2.4px solid #606060;background:#ececec;"></div>
<div class="t" style="left:559.9px;top:541.5px;font-size:16.0px;transform:scaleX(0.77);color:#2e2e2e;font-weight:normal;-webkit-text-stroke:0.15px #2e2e2e;">Deuteronomy 5-7</div>
<div class="t" style="left:522.0px;top:563.8px;font-size:16.0px;transform:scaleX(0.77);color:#2e2e2e;font-weight:normal;">14.</div>
<div class="c" style="left:542.0px;top:564.3px;width:11.5px;height:13.5px;border:2.4px solid #606060;background:#ececec;"></div>
<div class="t" style="left:559.9px;top:563.8px;font-size:16.0px;transform:scaleX(0.77);color:#2e2e2e;font-weight:normal;-webkit-text-stroke:0.15px #2e2e2e;">Deuteronomy 8-10</div>
<div class="t" style="left:522.0px;top:586.0px;font-size:16.0px;transform:scaleX(0.77);color:#2e2e2e;font-weight:normal;">15.</div>
<div class="c" style="left:542.0px;top:586.6px;width:11.5px;height:13.5px;border:2.4px solid #606060;background:#ececec;"></div>
<div class="t" style="left:559.9px;top:586.0px;font-size:16.0px;transform:scaleX(0.77);color:#2e2e2e;font-weight:normal;-webkit-text-stroke:0.15px #2e2e2e;">Deuteronomy 11-13</div>
<div class="t" style="left:522.0px;top:608.3px;font-size:16.0px;transform:scaleX(0.77);color:#2e2e2e;font-weight:normal;">16.</div>
<div class="c" style="left:542.0px;top:608.8px;width:11.5px;height:13.5px;border:2.4px solid #606060;background:#ececec;"></div>
<div class="t" style="left:559.9px;top:608.3px;font-size:16.0px;transform:scaleX(0.77);color:#2e2e2e;font-weight:normal;-webkit-text-stroke:0.15px #2e2e2e;">Deuteronomy 14-16</div>
<div class="t" style="left:522.0px;top:630.6px;font-size:16.0px;transform:scaleX(0.77);color:#2e2e2e;font-weight:normal;">17.</div>
<div class="c" style="left:542.0px;top:631.1px;width:11.5px;height:13.5px;border:2.4px solid #606060;background:#ececec;"></div>
<div class="t" style="left:559.9px;top:630.6px;font-size:16.0px;transform:scaleX(0.77);color:#2e2e2e;font-weight:normal;-webkit-text-stroke:0.15px #2e2e2e;">Deuteronomy 17-20</div>
<div class="t" style="left:522.0px;top:652.8px;font-size:16.0px;transform:scaleX(0.77);color:#2e2e2e;font-weight:normal;">18.</div>
<div class="c" style="left:542.0px;top:653.4px;width:11.5px;height:13.5px;border:2.4px solid #606060;background:#ececec;"></div>
<div class="t" style="left:559.9px;top:652.8px;font-size:16.0px;transform:scaleX(0.77);color:#2e2e2e;font-weight:normal;-webkit-text-stroke:0.15px #2e2e2e;">Deuteronomy 21-23</div>
<div class="t" style="left:522.0px;top:675.1px;font-size:16.0px;transform:scaleX(0.77);color:#2e2e2e;font-weight:normal;">19.</div>
<div class="c" style="left:542.0px;top:675.7px;width:11.5px;height:13.5px;border:2.4px solid #606060;background:#ececec;"></div>
<div class="t" style="left:559.9px;top:675.1px;font-size:16.0px;transform:scaleX(0.77);color:#2e2e2e;font-weight:normal;-webkit-text-stroke:0.15px #2e2e2e;">Deuteronomy 24-27</div>
<div class="t" style="left:522.0px;top:697.4px;font-size:16.0px;transform:scaleX(0.77);color:#2e2e2e;font-weight:normal;">20.</div>
<div class="c" style="left:542.0px;top:697.9px;width:11.5px;height:13.5px;border:2.4px solid #606060;background:#ececec;"></div>
<div class="t" style="left:559.9px;top:697.4px;font-size:16.0px;transform:scaleX(0.77);color:#2e2e2e;font-weight:normal;-webkit-text-stroke:0.15px #2e2e2e;">Deuteronomy 28-29</div>
<div class="t" style="left:522.0px;top:722.0px;font-size:16.0px;transform:scaleX(0.77);color:#2e2e2e;font-weight:normal;">21.</div>
<div class="c" style="left:542.0px;top:722.5px;width:11.5px;height:13.5px;border:2.4px solid #606060;background:#ececec;"></div>
<div class="t" style="left:559.9px;top:722.0px;font-size:16.0px;transform:scaleX(0.77);color:#2e2e2e;font-weight:normal;-webkit-text-stroke:0.15px #2e2e2e;">Deuteronomy 30-31</div>
<div class="t" style="left:522.0px;top:744.2px;font-size:16.0px;transform:scaleX(0.77);color:#2e2e2e;font-weight:normal;">22.</div>
<div class="c" style="left:542.0px;top:744.8px;width:11.5px;height:13.5px;border:2.4px solid #606060;background:#ececec;"></div>
<div class="t" style="left:559.9px;top:744.2px;font-size:16.0px;transform:scaleX(0.77);color:#2e2e2e;font-weight:normal;-webkit-text-stroke:0.15px #2e2e2e;">Deuteronomy 32-34, Ps 91</div>
<div class="t" style="left:522.0px;top:766.5px;font-size:16.0px;transform:scaleX(0.77);color:#2e2e2e;font-weight:normal;">23.</div>
<div class="c" style="left:542.0px;top:767.0px;width:11.5px;height:13.5px;border:2.4px solid #606060;background:#ececec;"></div>
<div class="t" style="left:559.9px;top:766.5px;font-size:16.0px;transform:scaleX(0.77);color:#2e2e2e;font-weight:normal;-webkit-text-stroke:0.15px #2e2e2e;">Joshua 1-4</div>
<div class="t" style="left:522.0px;top:788.8px;font-size:16.0px;transform:scaleX(0.77);color:#2e2e2e;font-weight:normal;">24.</div>
<div class="c" style="left:542.0px;top:789.3px;width:11.5px;height:13.5px;border:2.4px solid #606060;background:#ececec;"></div>
<div class="t" style="left:559.9px;top:788.8px;font-size:16.0px;transform:scaleX(0.77);color:#2e2e2e;font-weight:normal;-webkit-text-stroke:0.15px #2e2e2e;">Joshua 5-8</div>
<div class="t" style="left:522.0px;top:811.0px;font-size:16.0px;transform:scaleX(0.77);color:#2e2e2e;font-weight:normal;">25.</div>
<div class="c" style="left:542.0px;top:811.6px;width:11.5px;height:13.5px;border:2.4px solid #606060;background:#ececec;"></div>
<div class="t" style="left:559.9px;top:811.0px;font-size:16.0px;transform:scaleX(0.77);color:#2e2e2e;font-weight:normal;-webkit-text-stroke:0.15px #2e2e2e;">Joshua 9-11</div>
<div class="t" style="left:522.0px;top:833.3px;font-size:16.0px;transform:scaleX(0.77);color:#2e2e2e;font-weight:normal;">26.</div>
<div class="c" style="left:542.0px;top:833.9px;width:11.5px;height:13.5px;border:2.4px solid #606060;background:#ececec;"></div>
<div class="t" style="left:559.9px;top:833.3px;font-size:16.0px;transform:scaleX(0.77);color:#2e2e2e;font-weight:normal;-webkit-text-stroke:0.15px #2e2e2e;">Joshua 12-15</div>
<div class="t" style="left:522.0px;top:855.6px;font-size:16.0px;transform:scaleX(0.77);color:#2e2e2e;font-weight:normal;">27.</div>
<div class="c" style="left:542.0px;top:856.1px;width:11.5px;height:13.5px;border:2.4px solid #606060;background:#ececec;"></div>
<div class="t" style="left:559.9px;top:855.6px;font-size:16.0px;transform:scaleX(0.77);color:#2e2e2e;font-weight:normal;-webkit-text-stroke:0.15px #2e2e2e;">Joshua 16-18</div>
<div class="t" style="left:522.0px;top:877.8px;font-size:16.0px;transform:scaleX(0.77);color:#2e2e2e;font-weight:normal;">28.</div>
<div class="c" style="left:542.0px;top:878.4px;width:11.5px;height:13.5px;border:2.4px solid #606060;background:#ececec;"></div>
<div class="t" style="left:559.9px;top:877.8px;font-size:16.0px;transform:scaleX(0.77);color:#2e2e2e;font-weight:normal;-webkit-text-stroke:0.15px #2e2e2e;">Joshua 19-21</div>
<div class="t" style="left:522.0px;top:900.1px;font-size:16.0px;transform:scaleX(0.77);color:#2e2e2e;font-weight:normal;">29.</div>
<div class="c" style="left:542.0px;top:900.7px;width:11.5px;height:13.5px;border:2.4px solid #606060;background:#ececec;"></div>
<div class="t" style="left:559.9px;top:900.1px;font-size:16.0px;transform:scaleX(0.77);color:#2e2e2e;font-weight:normal;-webkit-text-stroke:0.15px #2e2e2e;">Joshua 22-24</div>
<div class="t" style="left:522.0px;top:922.4px;font-size:16.0px;transform:scaleX(0.77);color:#2e2e2e;font-weight:normal;">30.</div>
<div class="c" style="left:542.0px;top:922.9px;width:11.5px;height:13.5px;border:2.4px solid #606060;background:#ececec;"></div>
<div class="t" style="left:559.9px;top:922.4px;font-size:16.0px;transform:scaleX(0.77);color:#2e2e2e;font-weight:normal;-webkit-text-stroke:0.15px #2e2e2e;">Judges 1-2</div>
<div class="t" style="left:522.0px;top:947.0px;font-size:16.0px;transform:scaleX(0.77);color:#2e2e2e;font-weight:normal;">31.</div>
<div class="c" style="left:542.0px;top:947.5px;width:11.5px;height:13.5px;border:2.4px solid #606060;background:#ececec;"></div>
<div class="t" style="left:559.9px;top:947.0px;font-size:16.0px;transform:scaleX(0.77);color:#2e2e2e;font-weight:normal;-webkit-text-stroke:0.15px #2e2e2e;">Judges 3-5</div>
<div class="t" style="left:748.0px;top:223.8px;font-size:18.0px;transform:scaleX(0.672);color:#c43546;font-weight:bold;">April</div>
<div class="t" style="left:747.7px;top:272.0px;font-size:16.0px;transform:scaleX(0.77);color:#c9424a;font-weight:normal;">1.</div>
<div class="c" style="left:769.3px;top:272.5px;width:9.8px;height:13.5px;border:2.4px solid #c4606a;background:#fde0e3;"></div>
<div class="t" style="left:784.5px;top:272.0px;font-size:16.0px;transform:scaleX(0.77);color:#2e2e2e;font-weight:normal;-webkit-text-stroke:0.15px #2e2e2e;">Judges 6-7</div>
<div class="t" style="left:747.7px;top:294.2px;font-size:16.0px;transform:scaleX(0.77);color:#c9424a;font-weight:normal;">2.</div>
<div class="c" style="left:769.3px;top:294.8px;width:9.8px;height:13.5px;border:2.4px solid #c4606a;background:#fde0e3;"></div>
<div class="t" style="left:784.5px;top:294.2px;font-size:16.0px;transform:scaleX(0.77);color:#2e2e2e;font-weight:normal;-webkit-text-stroke:0.15px #2e2e2e;">Judges 8-9</div>
<div class="t" style="left:747.7px;top:316.5px;font-size:16.0px;transform:scaleX(0.77);color:#c9424a;font-weight:normal;">3.</div>
<div class="c" style="left:769.3px;top:317.0px;width:9.8px;height:13.5px;border:2.4px solid #c4606a;background:#fde0e3;"></div>
<div class="t" style="left:784.5px;top:316.5px;font-size:16.0px;transform:scaleX(0.77);color:#2e2e2e;font-weight:normal;-webkit-text-stroke:0.15px #2e2e2e;">Judges 10-12</div>
<div class="t" style="left:747.7px;top:338.8px;font-size:16.0px;transform:scaleX(0.77);color:#c9424a;font-weight:normal;">4.</div>
<div class="c" style="left:769.3px;top:339.3px;width:9.8px;height:13.5px;border:2.4px solid #c4606a;background:#fde0e3;"></div>
<div class="t" style="left:784.5px;top:338.8px;font-size:16.0px;transform:scaleX(0.77);color:#2e2e2e;font-weight:normal;-webkit-text-stroke:0.15px #2e2e2e;">Judges 13-15</div>
<div class="t" style="left:747.7px;top:361.0px;font-size:16.0px;transform:scaleX(0.77);color:#c9424a;font-weight:normal;">5.</div>
<div class="c" style="left:769.3px;top:361.6px;width:9.8px;height:13.5px;border:2.4px solid #c4606a;background:#fde0e3;"></div>
<div class="t" style="left:784.5px;top:361.0px;font-size:16.0px;transform:scaleX(0.77);color:#2e2e2e;font-weight:normal;-webkit-text-stroke:0.15px #2e2e2e;">Judges 16-18</div>
<div class="t" style="left:747.7px;top:383.3px;font-size:16.0px;transform:scaleX(0.77);color:#c9424a;font-weight:normal;">6.</div>
<div class="c" style="left:769.3px;top:383.9px;width:9.8px;height:13.5px;border:2.4px solid #c4606a;background:#fde0e3;"></div>
<div class="t" style="left:784.5px;top:383.3px;font-size:16.0px;transform:scaleX(0.77);color:#2e2e2e;font-weight:normal;-webkit-text-stroke:0.15px #2e2e2e;">Judges 19-21</div>
<div class="t" style="left:747.7px;top:405.6px;font-size:16.0px;transform:scaleX(0.77);color:#c9424a;font-weight:normal;">7.</div>
<div class="c" style="left:769.3px;top:406.1px;width:9.8px;height:13.5px;border:2.4px solid #c4606a;background:#fde0e3;"></div>
<div class="t" style="left:784.5px;top:405.6px;font-size:16.0px;transform:scaleX(0.77);color:#2e2e2e;font-weight:normal;-webkit-text-stroke:0.15px #2e2e2e;">Ruth 1-4</div>
<div class="t" style="left:747.7px;top:427.8px;font-size:16.0px;transform:scaleX(0.77);color:#c9424a;font-weight:normal;">8.</div>
<div class="c" style="left:769.3px;top:428.4px;width:9.8px;height:13.5px;border:2.4px solid #c4606a;background:#fde0e3;"></div>
<div class="t" style="left:784.5px;top:427.8px;font-size:16.0px;transform:scaleX(0.77);color:#2e2e2e;font-weight:normal;-webkit-text-stroke:0.15px #2e2e2e;">1 Samuel 1-3</div>
<div class="t" style="left:747.7px;top:450.1px;font-size:16.0px;transform:scaleX(0.77);color:#c9424a;font-weight:normal;">9.</div>
<div class="c" style="left:769.3px;top:450.7px;width:9.8px;height:13.5px;border:2.4px solid #c4606a;background:#fde0e3;"></div>
<div class="t" style="left:784.5px;top:450.1px;font-size:16.0px;transform:scaleX(0.77);color:#2e2e2e;font-weight:normal;-webkit-text-stroke:0.15px #2e2e2e;">1 Samuel 4-8</div>
<div class="t" style="left:747.7px;top:472.4px;font-size:16.0px;transform:scaleX(0.77);color:#c9424a;font-weight:normal;">10.</div>
<div class="c" style="left:769.3px;top:472.9px;width:9.8px;height:13.5px;border:2.4px solid #c4606a;background:#fde0e3;"></div>
<div class="t" style="left:784.5px;top:472.4px;font-size:16.0px;transform:scaleX(0.77);color:#2e2e2e;font-weight:normal;-webkit-text-stroke:0.15px #2e2e2e;">1 Samuel 9-12</div>
<div class="t" style="left:747.7px;top:497.0px;font-size:16.0px;transform:scaleX(0.77);color:#c9424a;font-weight:normal;">11.</div>
<div class="c" style="left:769.3px;top:497.5px;width:9.8px;height:13.5px;border:2.4px solid #c4606a;background:#fde0e3;"></div>
<div class="t" style="left:784.5px;top:497.0px;font-size:16.0px;transform:scaleX(0.77);color:#2e2e2e;font-weight:normal;-webkit-text-stroke:0.15px #2e2e2e;">1 Samuel 13-14</div>
<div class="t" style="left:747.7px;top:519.2px;font-size:16.0px;transform:scaleX(0.77);color:#c9424a;font-weight:normal;">12.</div>
<div class="c" style="left:769.3px;top:519.8px;width:9.8px;height:13.5px;border:2.4px solid #c4606a;background:#fde0e3;"></div>
<div class="t" style="left:784.5px;top:519.2px;font-size:16.0px;transform:scaleX(0.77);color:#2e2e2e;font-weight:normal;-webkit-text-stroke:0.15px #2e2e2e;">1 Samuel 15-17</div>
<div class="t" style="left:747.7px;top:541.5px;font-size:16.0px;transform:scaleX(0.77);color:#c9424a;font-weight:normal;">13.</div>
<div class="c" style="left:769.3px;top:542.0px;width:9.8px;height:13.5px;border:2.4px solid #c4606a;background:#fde0e3;"></div>
<div class="t" style="left:784.5px;top:541.5px;font-size:16.0px;transform:scaleX(0.77);color:#2e2e2e;font-weight:normal;-webkit-text-stroke:0.15px #2e2e2e;">1 Sam 18-20, Ps 11, Ps 59</div>
<div class="t" style="left:747.7px;top:563.8px;font-size:16.0px;transform:scaleX(0.77);color:#c9424a;font-weight:normal;">14.</div>
<div class="c" style="left:769.3px;top:564.3px;width:9.8px;height:13.5px;border:2.4px solid #c4606a;background:#fde0e3;"></div>
<div class="t" style="left:784.5px;top:563.8px;font-size:16.0px;transform:scaleX(0.77);color:#2e2e2e;font-weight:normal;-webkit-text-stroke:0.15px #2e2e2e;">1 Samuel 21-24</div>
<div class="t" style="left:747.7px;top:586.0px;font-size:16.0px;transform:scaleX(0.77);color:#c9424a;font-weight:normal;">15.</div>
<div class="c" style="left:769.3px;top:586.6px;width:9.8px;height:13.5px;border:2.4px solid #c4606a;background:#fde0e3;"></div>
<div class="t" style="left:784.5px;top:586.0px;font-size:16.0px;transform:scaleX(0.77);color:#2e2e2e;font-weight:normal;-webkit-text-stroke:0.15px #2e2e2e;">Psalm 7, 27, 31, 34, 52</div>
<div class="t" style="left:747.7px;top:608.3px;font-size:16.0px;transform:scaleX(0.77);color:#c9424a;font-weight:normal;">16.</div>
<div class="c" style="left:769.3px;top:608.8px;width:9.8px;height:13.5px;border:2.4px solid #c4606a;background:#fde0e3;"></div>
<div class="t" style="left:784.5px;top:608.3px;font-size:16.0px;transform:scaleX(0.77);color:#2e2e2e;font-weight:normal;-webkit-text-stroke:0.15px #2e2e2e;">Psalm 56, 120, 140-142</div>
<div class="t" style="left:747.7px;top:630.6px;font-size:16.0px;transform:scaleX(0.77);color:#c9424a;font-weight:normal;">17.</div>
<div class="c" style="left:769.3px;top:631.1px;width:9.8px;height:13.5px;border:2.4px solid #c4606a;background:#fde0e3;"></div>
<div class="t" style="left:784.5px;top:630.6px;font-size:16.0px;transform:scaleX(0.77);color:#2e2e2e;font-weight:normal;-webkit-text-stroke:0.15px #2e2e2e;">1 Samuel 25-27</div>
<div class="t" style="left:747.7px;top:652.8px;font-size:16.0px;transform:scaleX(0.77);color:#c9424a;font-weight:normal;">18.</div>
<div class="c" style="left:769.3px;top:653.4px;width:9.8px;height:13.5px;border:2.4px solid #c4606a;background:#fde0e3;"></div>
<div class="t" style="left:784.5px;top:652.8px;font-size:16.0px;transform:scaleX(0.77);color:#2e2e2e;font-weight:normal;-webkit-text-stroke:0.15px #2e2e2e;">Psalm 17, 35, 54, 63</div>
<div class="t" style="left:747.7px;top:675.1px;font-size:16.0px;transform:scaleX(0.77);color:#c9424a;font-weight:normal;">19.</div>
<div class="c" style="left:769.3px;top:675.7px;width:9.8px;height:13.5px;border:2.4px solid #c4606a;background:#fde0e3;"></div>
<div class="t" style="left:784.5px;top:675.1px;font-size:16.0px;transform:scaleX(0.77);color:#2e2e2e;font-weight:normal;-webkit-text-stroke:0.15px #2e2e2e;">1 Samuel 28-31, Ps 18</div>
<div class="t" style="left:747.7px;top:697.4px;font-size:16.0px;transform:scaleX(0.77);color:#c9424a;font-weight:normal;">20.</div>
<div class="c" style="left:769.3px;top:697.9px;width:9.8px;height:13.5px;border:2.4px solid #c4606a;background:#fde0e3;"></div>
<div class="t" style="left:784.5px;top:697.4px;font-size:16.0px;transform:scaleX(0.77);color:#2e2e2e;font-weight:normal;-webkit-text-stroke:0.15px #2e2e2e;">Ps 121, 123-125, 128-130</div>
<div class="t" style="left:747.7px;top:722.0px;font-size:16.0px;transform:scaleX(0.77);color:#c9424a;font-weight:normal;">21.</div>
<div class="c" style="left:769.3px;top:722.5px;width:9.8px;height:13.5px;border:2.4px solid #c4606a;background:#fde0e3;"></div>
<div class="t" style="left:784.5px;top:722.0px;font-size:16.0px;transform:scaleX(0.77);color:#2e2e2e;font-weight:normal;-webkit-text-stroke:0.15px #2e2e2e;">2 Samuel 1-4</div>
<div class="t" style="left:747.7px;top:744.2px;font-size:16.0px;transform:scaleX(0.77);color:#c9424a;font-weight:normal;">22.</div>
<div class="c" style="left:769.3px;top:744.8px;width:9.8px;height:13.5px;border:2.4px solid #c4606a;background:#fde0e3;"></div>
<div class="t" style="left:784.5px;top:744.2px;font-size:16.0px;transform:scaleX(0.77);color:#2e2e2e;font-weight:normal;-webkit-text-stroke:0.15px #2e2e2e;">Ps 6, 8-10, 14, 16, 19, 21</div>
<div class="t" style="left:747.7px;top:766.5px;font-size:16.0px;transform:scaleX(0.77);color:#c9424a;font-weight:normal;">23.</div>
<div class="c" style="left:769.3px;top:767.0px;width:9.8px;height:13.5px;border:2.4px solid #c4606a;background:#fde0e3;"></div>
<div class="t" style="left:784.5px;top:766.5px;font-size:16.0px;transform:scaleX(0.77);color:#2e2e2e;font-weight:normal;-webkit-text-stroke:0.15px #2e2e2e;">1 Chronicles 1-2</div>
<div class="t" style="left:747.7px;top:788.8px;font-size:16.0px;transform:scaleX(0.77);color:#c9424a;font-weight:normal;">24.</div>
<div class="c" style="left:769.3px;top:789.3px;width:9.8px;height:13.5px;border:2.4px solid #c4606a;background:#fde0e3;"></div>
<div class="t" style="left:784.5px;top:788.8px;font-size:16.0px;transform:scaleX(0.77);color:#2e2e2e;font-weight:normal;-webkit-text-stroke:0.15px #2e2e2e;">Ps 43-45, 49, 84-85, 87</div>
<div class="t" style="left:747.7px;top:811.0px;font-size:16.0px;transform:scaleX(0.77);color:#c9424a;font-weight:normal;">25.</div>
<div class="c" style="left:769.3px;top:811.6px;width:9.8px;height:13.5px;border:2.4px solid #c4606a;background:#fde0e3;"></div>
<div class="t" style="left:784.5px;top:811.0px;font-size:16.0px;transform:scaleX(0.77);color:#2e2e2e;font-weight:normal;-webkit-text-stroke:0.15px #2e2e2e;">1 Chronicles 3-5</div>
<div class="t" style="left:747.7px;top:833.3px;font-size:16.0px;transform:scaleX(0.77);color:#c9424a;font-weight:normal;">26.</div>
<div class="c" style="left:769.3px;top:833.9px;width:9.8px;height:13.5px;border:2.4px solid #c4606a;background:#fde0e3;"></div>
<div class="t" style="left:784.5px;top:833.3px;font-size:16.0px;transform:scaleX(0.77);color:#2e2e2e;font-weight:normal;-webkit-text-stroke:0.15px #2e2e2e;">Psalm 73, 77-78</div>
<div class="t" style="left:747.7px;top:855.6px;font-size:16.0px;transform:scaleX(0.77);color:#c9424a;font-weight:normal;">27.</div>
<div class="c" style="left:769.3px;top:856.1px;width:9.8px;height:13.5px;border:2.4px solid #c4606a;background:#fde0e3;"></div>
<div class="t" style="left:784.5px;top:855.6px;font-size:16.0px;transform:scaleX(0.77);color:#2e2e2e;font-weight:normal;-webkit-text-stroke:0.15px #2e2e2e;">1 Chronicles 6</div>
<div class="t" style="left:747.7px;top:877.8px;font-size:16.0px;transform:scaleX(0.77);color:#c9424a;font-weight:normal;">28.</div>
<div class="c" style="left:769.3px;top:878.4px;width:9.8px;height:13.5px;border:2.4px solid #c4606a;background:#fde0e3;"></div>
<div class="t" style="left:784.5px;top:877.8px;font-size:16.0px;transform:scaleX(0.77);color:#2e2e2e;font-weight:normal;-webkit-text-stroke:0.15px #2e2e2e;">Psalm 81, 88, 92-93</div>
<div class="t" style="left:747.7px;top:900.1px;font-size:16.0px;transform:scaleX(0.77);color:#c9424a;font-weight:normal;">29.</div>
<div class="c" style="left:769.3px;top:900.7px;width:9.8px;height:13.5px;border:2.4px solid #c4606a;background:#fde0e3;"></div>
<div class="t" style="left:784.5px;top:900.1px;font-size:16.0px;transform:scaleX(0.77);color:#2e2e2e;font-weight:normal;-webkit-text-stroke:0.15px #2e2e2e;">1 Chronicles 7-10</div>
<div class="t" style="left:747.7px;top:922.4px;font-size:16.0px;transform:scaleX(0.77);color:#c9424a;font-weight:normal;">30.</div>
<div class="c" style="left:769.3px;top:922.9px;width:9.8px;height:13.5px;border:2.4px solid #c4606a;background:#fde0e3;"></div>
<div class="t" style="left:784.5px;top:922.4px;font-size:16.0px;transform:scaleX(0.77);color:#2e2e2e;font-weight:normal;-webkit-text-stroke:0.15px #2e2e2e;">Psalm 102-104</div>
<div class="t" style="left:975.2px;top:220.4px;font-size:18.0px;transform:scaleX(0.672);color:#30c2d0;font-weight:bold;">May</div>
<div class="t" style="left:974.2px;top:269.8px;font-size:16.0px;transform:scaleX(0.77);color:#45c6d6;font-weight:normal;">1.</div>
<div class="c" style="left:996.0px;top:270.3px;width:10.4px;height:13.5px;border:2.4px solid #4cc4d0;background:#dcf6f8;"></div>
<div class="t" style="left:1011.2px;top:269.8px;font-size:16.0px;transform:scaleX(0.77);color:#2e2e2e;font-weight:normal;-webkit-text-stroke:0.15px #2e2e2e;">2 Sam 5:1-10, 1 Chr 11-12</div>
<div class="t" style="left:974.2px;top:292.0px;font-size:16.0px;transform:scaleX(0.77);color:#45c6d6;font-weight:normal;">2.</div>
<div class="c" style="left:996.0px;top:292.6px;width:10.4px;height:13.5px;border:2.4px solid #4cc4d0;background:#dcf6f8;"></div>
<div class="t" style="left:1011.2px;top:292.0px;font-size:16.0px;transform:scaleX(0.77);color:#2e2e2e;font-weight:normal;-webkit-text-stroke:0.15px #2e2e2e;">Psalm 133</div>
<div class="t" style="left:974.2px;top:314.3px;font-size:16.0px;transform:scaleX(0.77);color:#45c6d6;font-weight:normal;">3.</div>
<div class="c" style="left:996.0px;top:314.8px;width:10.4px;height:13.5px;border:2.4px solid #4cc4d0;background:#dcf6f8;"></div>
<div class="t" style="left:1011.2px;top:314.3px;font-size:16.0px;transform:scaleX(0.77);color:#2e2e2e;font-weight:normal;-webkit-text-stroke:0.15px #2e2e2e;">Psalm 106-107</div>
<div class="t" style="left:974.2px;top:336.6px;font-size:16.0px;transform:scaleX(0.77);color:#45c6d6;font-weight:normal;">4.</div>
<div class="c" style="left:996.0px;top:337.1px;width:10.4px;height:13.5px;border:2.4px solid #4cc4d0;background:#dcf6f8;"></div>
<div class="t" style="left:1011.2px;top:336.6px;font-size:16.0px;transform:scaleX(0.77);color:#2e2e2e;font-weight:normal;-webkit-text-stroke:0.15px #2e2e2e;">2 Sam 5:11-6:23, 1 Chr 13-16</div>
<div class="t" style="left:974.2px;top:358.8px;font-size:16.0px;transform:scaleX(0.77);color:#45c6d6;font-weight:normal;">5.</div>
<div class="c" style="left:996.0px;top:359.4px;width:10.4px;height:13.5px;border:2.4px solid #4cc4d0;background:#dcf6f8;"></div>
<div class="t" style="left:1011.2px;top:358.8px;font-size:16.0px;transform:scaleX(0.77);color:#2e2e2e;font-weight:normal;-webkit-text-stroke:0.15px #2e2e2e;">Ps 1-2, 15, 22-24, 47, 68</div>
<div class="t" style="left:974.2px;top:381.1px;font-size:16.0px;transform:scaleX(0.77);color:#45c6d6;font-weight:normal;">6.</div>
<div class="c" style="left:996.0px;top:381.6px;width:10.4px;height:13.5px;border:2.4px solid #4cc4d0;background:#dcf6f8;"></div>
<div class="t" style="left:1011.2px;top:381.1px;font-size:16.0px;transform:scaleX(0.77);color:#2e2e2e;font-weight:normal;-webkit-text-stroke:0.15px #2e2e2e;">Ps 89, 96, 100, 101, 105, 132</div>
<div class="t" style="left:974.2px;top:403.4px;font-size:16.0px;transform:scaleX(0.77);color:#45c6d6;font-weight:normal;">7.</div>
<div class="c" style="left:996.0px;top:403.9px;width:10.4px;height:13.5px;border:2.4px solid #4cc4d0;background:#dcf6f8;"></div>
<div class="t" style="left:1011.2px;top:403.4px;font-size:16.0px;transform:scaleX(0.77);color:#2e2e2e;font-weight:normal;-webkit-text-stroke:0.15px #2e2e2e;">2 Sam 7, 1 Chr 17</div>
<div class="t" style="left:974.2px;top:425.6px;font-size:16.0px;transform:scaleX(0.77);color:#45c6d6;font-weight:normal;">8.</div>
<div class="c" style="left:996.0px;top:426.2px;width:10.4px;height:13.5px;border:2.4px solid #4cc4d0;background:#dcf6f8;"></div>
<div class="t" style="left:1011.2px;top:425.6px;font-size:16.0px;transform:scaleX(0.77);color:#2e2e2e;font-weight:normal;-webkit-text-stroke:0.15px #2e2e2e;">Ps 25, 29, 33, 36, 39</div>
<div class="t" style="left:974.2px;top:447.9px;font-size:16.0px;transform:scaleX(0.77);color:#45c6d6;font-weight:normal;">9.</div>
<div class="c" style="left:996.0px;top:448.5px;width:10.4px;height:13.5px;border:2.4px solid #4cc4d0;background:#dcf6f8;"></div>
<div class="t" style="left:1011.2px;top:447.9px;font-size:16.0px;transform:scaleX(0.77);color:#2e2e2e;font-weight:normal;-webkit-text-stroke:0.15px #2e2e2e;">2 Sam 8-9, 1 Chr 18</div>
<div class="t" style="left:974.2px;top:470.2px;font-size:16.0px;transform:scaleX(0.77);color:#45c6d6;font-weight:normal;">10.</div>
<div class="c" style="left:996.0px;top:470.7px;width:10.4px;height:13.5px;border:2.4px solid #4cc4d0;background:#dcf6f8;"></div>
<div class="t" style="left:1011.2px;top:470.2px;font-size:16.0px;transform:scaleX(0.77);color:#2e2e2e;font-weight:normal;-webkit-text-stroke:0.15px #2e2e2e;">Psalm 50, 53, 60, 75</div>
<div class="t" style="left:974.2px;top:494.8px;font-size:16.0px;transform:scaleX(0.77);color:#45c6d6;font-weight:normal;">11.</div>
<div class="c" style="left:996.0px;top:495.3px;width:10.4px;height:13.5px;border:2.4px solid #4cc4d0;background:#dcf6f8;"></div>
<div class="t" style="left:1011.2px;top:494.8px;font-size:16.0px;transform:scaleX(0.77);color:#2e2e2e;font-weight:normal;-webkit-text-stroke:0.15px #2e2e2e;">2 Sam 10, 1 Chr 19, Ps 20</div>
<div class="t" style="left:974.2px;top:517.0px;font-size:16.0px;transform:scaleX(0.77);color:#45c6d6;font-weight:normal;">12.</div>
<div class="c" style="left:996.0px;top:517.6px;width:10.4px;height:13.5px;border:2.4px solid #4cc4d0;background:#dcf6f8;"></div>
<div class="t" style="left:1011.2px;top:517.0px;font-size:16.0px;transform:scaleX(0.77);color:#2e2e2e;font-weight:normal;-webkit-text-stroke:0.15px #2e2e2e;">Ps 65-67, 69-70</div>
<div class="t" style="left:974.2px;top:539.3px;font-size:16.0px;transform:scaleX(0.77);color:#45c6d6;font-weight:normal;">13.</div>
<div class="c" style="left:996.0px;top:539.8px;width:10.4px;height:13.5px;border:2.4px solid #4cc4d0;background:#dcf6f8;"></div>
<div class="t" style="left:1011.2px;top:539.3px;font-size:16.0px;transform:scaleX(0.77);color:#2e2e2e;font-weight:normal;-webkit-text-stroke:0.15px #2e2e2e;">2 Sam 11-12, 1 Chr 20</div>
<div class="t" style="left:974.2px;top:561.6px;font-size:16.0px;transform:scaleX(0.77);color:#45c6d6;font-weight:normal;">14.</div>
<div class="c" style="left:996.0px;top:562.1px;width:10.4px;height:13.5px;border:2.4px solid #4cc4d0;background:#dcf6f8;"></div>
<div class="t" style="left:1011.2px;top:561.6px;font-size:16.0px;transform:scaleX(0.77);color:#2e2e2e;font-weight:normal;-webkit-text-stroke:0.15px #2e2e2e;">Ps 32, 51, 86, 122</div>
<div class="t" style="left:974.2px;top:583.8px;font-size:16.0px;transform:scaleX(0.77);color:#45c6d6;font-weight:normal;">15.</div>
<div class="c" style="left:996.0px;top:584.4px;width:10.4px;height:13.5px;border:2.4px solid #4cc4d0;background:#dcf6f8;"></div>
<div class="t" style="left:1011.2px;top:583.8px;font-size:16.0px;transform:scaleX(0.77);color:#2e2e2e;font-weight:normal;-webkit-text-stroke:0.15px #2e2e2e;">2 Sam 13-15</div>
<div class="t" style="left:974.2px;top:606.1px;font-size:16.0px;transform:scaleX(0.77);color:#45c6d6;font-weight:normal;">16.</div>
<div class="c" style="left:996.0px;top:606.6px;width:10.4px;height:13.5px;border:2.4px solid #4cc4d0;background:#dcf6f8;"></div>
<div class="t" style="left:1011.2px;top:606.1px;font-size:16.0px;transform:scaleX(0.77);color:#2e2e2e;font-weight:normal;-webkit-text-stroke:0.15px #2e2e2e;">Ps 3-4, 12-13, 28, 55</div>
<div class="t" style="left:974.2px;top:628.4px;font-size:16.0px;transform:scaleX(0.77);color:#45c6d6;font-weight:normal;">17.</div>
<div class="c" style="left:996.0px;top:628.9px;width:10.4px;height:13.5px;border:2.4px solid #4cc4d0;background:#dcf6f8;"></div>
<div class="t" style="left:1011.2px;top:628.4px;font-size:16.0px;transform:scaleX(0.77);color:#2e2e2e;font-weight:normal;-webkit-text-stroke:0.15px #2e2e2e;">2 Sam 16-18</div>
<div class="t" style="left:974.2px;top:650.6px;font-size:16.0px;transform:scaleX(0.77);color:#45c6d6;font-weight:normal;">18.</div>
<div class="c" style="left:996.0px;top:651.2px;width:10.4px;height:13.5px;border:2.4px solid #4cc4d0;background:#dcf6f8;"></div>
<div class="t" style="left:1011.2px;top:650.6px;font-size:16.0px;transform:scaleX(0.77);color:#2e2e2e;font-weight:normal;-webkit-text-stroke:0.15px #2e2e2e;">Ps 26, 40, 58, 61-62, 64</div>
<div class="t" style="left:974.2px;top:672.9px;font-size:16.0px;transform:scaleX(0.77);color:#45c6d6;font-weight:normal;">19.</div>
<div class="c" style="left:996.0px;top:673.5px;width:10.4px;height:13.5px;border:2.4px solid #4cc4d0;background:#dcf6f8;"></div>
<div class="t" style="left:1011.2px;top:672.9px;font-size:16.0px;transform:scaleX(0.77);color:#2e2e2e;font-weight:normal;-webkit-text-stroke:0.15px #2e2e2e;">2 Sam 19-21</div>
<div class="t" style="left:974.2px;top:695.2px;font-size:16.0px;transform:scaleX(0.77);color:#45c6d6;font-weight:normal;">20.</div>
<div class="c" style="left:996.0px;top:695.7px;width:10.4px;height:13.5px;border:2.4px solid #4cc4d0;background:#dcf6f8;"></div>
<div class="t" style="left:1011.2px;top:695.2px;font-size:16.0px;transform:scaleX(0.77);color:#2e2e2e;font-weight:normal;-webkit-text-stroke:0.15px #2e2e2e;">Ps 5, 38, 41-42</div>
<div class="t" style="left:974.2px;top:719.8px;font-size:16.0px;transform:scaleX(0.77);color:#45c6d6;font-weight:normal;">21.</div>
<div class="c" style="left:996.0px;top:720.3px;width:10.4px;height:13.5px;border:2.4px solid #4cc4d0;background:#dcf6f8;"></div>
<div class="t" style="left:1011.2px;top:719.8px;font-size:16.0px;transform:scaleX(0.77);color:#2e2e2e;font-weight:normal;-webkit-text-stroke:0.15px #2e2e2e;">2 Sam 22-23, 57</div>
<div class="t" style="left:974.2px;top:742.0px;font-size:16.0px;transform:scaleX(0.77);color:#45c6d6;font-weight:normal;">22.</div>
<div class="c" style="left:996.0px;top:742.6px;width:10.4px;height:13.5px;border:2.4px solid #4cc4d0;background:#dcf6f8;"></div>
<div class="t" style="left:1011.2px;top:742.0px;font-size:16.0px;transform:scaleX(0.77);color:#2e2e2e;font-weight:normal;-webkit-text-stroke:0.15px #2e2e2e;">Psalm 95, 97-99</div>
<div class="t" style="left:974.2px;top:764.3px;font-size:16.0px;transform:scaleX(0.77);color:#45c6d6;font-weight:normal;">23.</div>
<div class="c" style="left:996.0px;top:764.8px;width:10.4px;height:13.5px;border:2.4px solid #4cc4d0;background:#dcf6f8;"></div>
<div class="t" style="left:1011.2px;top:764.3px;font-size:16.0px;transform:scaleX(0.77);color:#2e2e2e;font-weight:normal;-webkit-text-stroke:0.15px #2e2e2e;">2 Sam 24, 1 Chr 21-22, Ps 30</div>
<div class="t" style="left:974.2px;top:786.6px;font-size:16.0px;transform:scaleX(0.77);color:#45c6d6;font-weight:normal;">24.</div>
<div class="c" style="left:996.0px;top:787.1px;width:10.4px;height:13.5px;border:2.4px solid #4cc4d0;background:#dcf6f8;"></div>
<div class="t" style="left:1011.2px;top:786.6px;font-size:16.0px;transform:scaleX(0.77);color:#2e2e2e;font-weight:normal;-webkit-text-stroke:0.15px #2e2e2e;">Psalm 108-110</div>
<div class="t" style="left:974.2px;top:808.8px;font-size:16.0px;transform:scaleX(0.77);color:#45c6d6;font-weight:normal;">25.</div>
<div class="c" style="left:996.0px;top:809.4px;width:10.4px;height:13.5px;border:2.4px solid #4cc4d0;background:#dcf6f8;"></div>
<div class="t" style="left:1011.2px;top:808.8px;font-size:16.0px;transform:scaleX(0.77);color:#2e2e2e;font-weight:normal;-webkit-text-stroke:0.15px #2e2e2e;">1 Chr 23-25</div>
<div class="t" style="left:974.2px;top:831.1px;font-size:16.0px;transform:scaleX(0.77);color:#45c6d6;font-weight:normal;">26.</div>
<div class="c" style="left:996.0px;top:831.6px;width:10.4px;height:13.5px;border:2.4px solid #4cc4d0;background:#dcf6f8;"></div>
<div class="t" style="left:1011.2px;top:831.1px;font-size:16.0px;transform:scaleX(0.77);color:#2e2e2e;font-weight:normal;-webkit-text-stroke:0.15px #2e2e2e;">Ps 131, 138-139, 143-145</div>
<div class="t" style="left:974.2px;top:853.4px;font-size:16.0px;transform:scaleX(0.77);color:#45c6d6;font-weight:normal;">27.</div>
<div class="c" style="left:996.0px;top:853.9px;width:10.4px;height:13.5px;border:2.4px solid #4cc4d0;background:#dcf6f8;"></div>
<div class="t" style="left:1011.2px;top:853.4px;font-size:16.0px;transform:scaleX(0.77);color:#2e2e2e;font-weight:normal;-webkit-text-stroke:0.15px #2e2e2e;">1 Chr 26-29, Psalm 127</div>
<div class="t" style="left:974.2px;top:875.6px;font-size:16.0px;transform:scaleX(0.77);color:#45c6d6;font-weight:normal;">28.</div>
<div class="c" style="left:996.0px;top:876.2px;width:10.4px;height:13.5px;border:2.4px solid #4cc4d0;background:#dcf6f8;"></div>
<div class="t" style="left:1011.2px;top:875.6px;font-size:16.0px;transform:scaleX(0.77);color:#2e2e2e;font-weight:normal;-webkit-text-stroke:0.15px #2e2e2e;">Psalm 111-118</div>
<div class="t" style="left:974.2px;top:897.9px;font-size:16.0px;transform:scaleX(0.77);color:#45c6d6;font-weight:normal;">29.</div>
<div class="c" style="left:996.0px;top:898.5px;width:10.4px;height:13.5px;border:2.4px solid #4cc4d0;background:#dcf6f8;"></div>
<div class="t" style="left:1011.2px;top:897.9px;font-size:16.0px;transform:scaleX(0.77);color:#2e2e2e;font-weight:normal;-webkit-text-stroke:0.15px #2e2e2e;">1 Kings 1-2, Ps 37, 71, 94</div>
<div class="t" style="left:974.2px;top:920.2px;font-size:16.0px;transform:scaleX(0.77);color:#45c6d6;font-weight:normal;">30.</div>
<div class="c" style="left:996.0px;top:920.7px;width:10.4px;height:13.5px;border:2.4px solid #4cc4d0;background:#dcf6f8;"></div>
<div class="t" style="left:1011.2px;top:920.2px;font-size:16.0px;transform:scaleX(0.77);color:#2e2e2e;font-weight:normal;-webkit-text-stroke:0.15px #2e2e2e;">Psalm 119:1-88</div>
<div class="t" style="left:974.2px;top:944.8px;font-size:16.0px;transform:scaleX(0.77);color:#45c6d6;font-weight:normal;">31.</div>
<div class="c" style="left:996.0px;top:945.3px;width:10.4px;height:13.5px;border:2.4px solid #4cc4d0;background:#dcf6f8;"></div>
<div class="t" style="left:1011.2px;top:944.8px;font-size:16.0px;transform:scaleX(0.77);color:#2e2e2e;font-weight:normal;-webkit-text-stroke:0.15px #2e2e2e;">1 Kings 3-4, 2 Chr 1, Ps 72</div>
<div class="t" style="left:1217.6px;top:220.4px;font-size:18.0px;transform:scaleX(0.672);color:#1e1e1e;font-weight:bold;">June</div>
<div class="t" style="left:1217.4px;top:269.8px;font-size:16.0px;transform:scaleX(0.77);color:#2e2e2e;font-weight:normal;">1.</div>
<div class="c" style="left:1237.6px;top:270.3px;width:10.4px;height:13.5px;border:2.4px solid #606060;background:#ececec;"></div>
<div class="t" style="left:1254.4px;top:269.8px;font-size:16.0px;transform:scaleX(0.77);color:#2e2e2e;font-weight:normal;-webkit-text-stroke:0.15px #2e2e2e;">Ps 119:89-176</div>
<div class="t" style="left:1217.4px;top:292.0px;font-size:16.0px;transform:scaleX(0.77);color:#2e2e2e;font-weight:normal;">2.</div>
<div class="c" style="left:1237.6px;top:292.6px;width:10.4px;height:13.5px;border:2.4px solid #606060;background:#ececec;"></div>
<div class="t" style="left:1254.4px;top:292.0px;font-size:16.0px;transform:scaleX(0.77);color:#2e2e2e;font-weight:normal;-webkit-text-stroke:0.15px #2e2e2e;">Song of Solomon 1-8</div>
<div class="t" style="left:1217.4px;top:314.3px;font-size:16.0px;transform:scaleX(0.77);color:#2e2e2e;font-weight:normal;">3.</div>
<div class="c" style="left:1237.6px;top:314.8px;width:10.4px;height:13.5px;border:2.4px solid #606060;background:#ececec;"></div>
<div class="t" style="left:1254.4px;top:314.3px;font-size:16.0px;transform:scaleX(0.77);color:#2e2e2e;font-weight:normal;-webkit-text-stroke:0.15px #2e2e2e;">Proverbs 1-3</div>
<div class="t" style="left:1217.4px;top:336.6px;font-size:16.0px;transform:scaleX(0.77);color:#2e2e2e;font-weight:normal;">4.</div>
<div class="c" style="left:1237.6px;top:337.1px;width:10.4px;height:13.5px;border:2.4px solid #606060;background:#ececec;"></div>
<div class="t" style="left:1254.4px;top:336.6px;font-size:16.0px;transform:scaleX(0.77);color:#2e2e2e;font-weight:normal;-webkit-text-stroke:0.15px #2e2e2e;">Proverbs 4-6</div>
<div class="t" style="left:1217.4px;top:358.8px;font-size:16.0px;transform:scaleX(0.77);color:#2e2e2e;font-weight:normal;">5.</div>
<div class="c" style="left:1237.6px;top:359.4px;width:10.4px;height:13.5px;border:2.4px solid #606060;background:#ececec;"></div>
<div class="t" style="left:1254.4px;top:358.8px;font-size:16.0px;transform:scaleX(0.77);color:#2e2e2e;font-weight:normal;-webkit-text-stroke:0.15px #2e2e2e;">Proverbs 7-9</div>
<div class="t" style="left:1217.4px;top:381.1px;font-size:16.0px;transform:scaleX(0.77);color:#2e2e2e;font-weight:normal;">6.</div>
<div class="c" style="left:1237.6px;top:381.6px;width:10.4px;height:13.5px;border:2.4px solid #606060;background:#ececec;"></div>
<div class="t" style="left:1254.4px;top:381.1px;font-size:16.0px;transform:scaleX(0.77);color:#2e2e2e;font-weight:normal;-webkit-text-stroke:0.15px #2e2e2e;">Proverbs 10-12</div>
<div class="t" style="left:1217.4px;top:403.4px;font-size:16.0px;transform:scaleX(0.77);color:#2e2e2e;font-weight:normal;">7.</div>
<div class="c" style="left:1237.6px;top:403.9px;width:10.4px;height:13.5px;border:2.4px solid #606060;background:#ececec;"></div>
<div class="t" style="left:1254.4px;top:403.4px;font-size:16.0px;transform:scaleX(0.77);color:#2e2e2e;font-weight:normal;-webkit-text-stroke:0.15px #2e2e2e;">Proverbs 13-15</div>
<div class="t" style="left:1217.4px;top:425.6px;font-size:16.0px;transform:scaleX(0.77);color:#2e2e2e;font-weight:normal;">8.</div>
<div class="c" style="left:1237.6px;top:426.2px;width:10.4px;height:13.5px;border:2.4px solid #606060;background:#ececec;"></div>
<div class="t" style="left:1254.4px;top:425.6px;font-size:16.0px;transform:scaleX(0.77);color:#2e2e2e;font-weight:normal;-webkit-text-stroke:0.15px #2e2e2e;">Proverbs 16-18</div>
<div class="t" style="left:1217.4px;top:447.9px;font-size:16.0px;transform:scaleX(0.77);color:#2e2e2e;font-weight:normal;">9.</div>
<div class="c" style="left:1237.6px;top:448.5px;width:10.4px;height:13.5px;border:2.4px solid #606060;background:#ececec;"></div>
<div class="t" style="left:1254.4px;top:447.9px;font-size:16.0px;transform:scaleX(0.77);color:#2e2e2e;font-weight:normal;-webkit-text-stroke:0.15px #2e2e2e;">Proverbs 19-21</div>
<div class="t" style="left:1217.4px;top:470.2px;font-size:16.0px;transform:scaleX(0.77);color:#2e2e2e;font-weight:normal;">10.</div>
<div class="c" style="left:1237.6px;top:470.7px;width:10.4px;height:13.5px;border:2.4px solid #606060;background:#ececec;"></div>
<div class="t" style="left:1254.4px;top:470.2px;font-size:16.0px;transform:scaleX(0.77);color:#2e2e2e;font-weight:normal;-webkit-text-stroke:0.15px #2e2e2e;">Proverbs 22-24</div>
<div class="t" style="left:1217.4px;top:494.8px;font-size:16.0px;transform:scaleX(0.77);color:#2e2e2e;font-weight:normal;">11.</div>
<div class="c" style="left:1237.6px;top:495.3px;width:10.4px;height:13.5px;border:2.4px solid #606060;background:#ececec;"></div>
<div class="t" style="left:1254.4px;top:494.8px;font-size:16.0px;transform:scaleX(0.77);color:#2e2e2e;font-weight:normal;-webkit-text-stroke:0.15px #2e2e2e;">1 Kings 5-6, 2 Chr 2-3</div>
<div class="t" style="left:1217.4px;top:517.0px;font-size:16.0px;transform:scaleX(0.77);color:#2e2e2e;font-weight:normal;">12.</div>
<div class="c" style="left:1237.6px;top:517.6px;width:10.4px;height:13.5px;border:2.4px solid #606060;background:#ececec;"></div>
<div class="t" style="left:1254.4px;top:517.0px;font-size:16.0px;transform:scaleX(0.77);color:#2e2e2e;font-weight:normal;-webkit-text-stroke:0.15px #2e2e2e;">1 Kings 7, 2 Chr 4</div>
<div class="t" style="left:1217.4px;top:539.3px;font-size:16.0px;transform:scaleX(0.77);color:#2e2e2e;font-weight:normal;">13.</div>
<div class="c" style="left:1237.6px;top:539.8px;width:10.4px;height:13.5px;border:2.4px solid #606060;background:#ececec;"></div>
<div class="t" style="left:1254.4px;top:539.3px;font-size:16.0px;transform:scaleX(0.77);color:#2e2e2e;font-weight:normal;-webkit-text-stroke:0.15px #2e2e2e;">1 Kings 8, 2 Chr 5</div>
<div class="t" style="left:1217.4px;top:561.6px;font-size:16.0px;transform:scaleX(0.77);color:#2e2e2e;font-weight:normal;">14.</div>
<div class="c" style="left:1237.6px;top:562.1px;width:10.4px;height:13.5px;border:2.4px solid #606060;background:#ececec;"></div>
<div class="t" style="left:1254.4px;top:561.6px;font-size:16.0px;transform:scaleX(0.77);color:#2e2e2e;font-weight:normal;-webkit-text-stroke:0.15px #2e2e2e;">2 Chr 6-7, Ps 136</div>
<div class="t" style="left:1217.4px;top:583.8px;font-size:16.0px;transform:scaleX(0.77);color:#2e2e2e;font-weight:normal;">15.</div>
<div class="c" style="left:1237.6px;top:584.4px;width:10.4px;height:13.5px;border:2.4px solid #606060;background:#ececec;"></div>
<div class="t" style="left:1254.4px;top:583.8px;font-size:16.0px;transform:scaleX(0.77);color:#2e2e2e;font-weight:normal;-webkit-text-stroke:0.15px #2e2e2e;">Psalm 134, 146-150</div>
<div class="t" style="left:1217.4px;top:606.1px;font-size:16.0px;transform:scaleX(0.77);color:#2e2e2e;font-weight:normal;">16.</div>
<div class="c" style="left:1237.6px;top:606.6px;width:10.4px;height:13.5px;border:2.4px solid #606060;background:#ececec;"></div>
<div class="t" style="left:1254.4px;top:606.1px;font-size:16.0px;transform:scaleX(0.77);color:#2e2e2e;font-weight:normal;-webkit-text-stroke:0.15px #2e2e2e;">1 Kings 9, 2 Chr 8</div>
<div class="t" style="left:1217.4px;top:628.4px;font-size:16.0px;transform:scaleX(0.77);color:#2e2e2e;font-weight:normal;">17.</div>
<div class="c" style="left:1237.6px;top:628.9px;width:10.4px;height:13.5px;border:2.4px solid #606060;background:#ececec;"></div>
<div class="t" style="left:1254.4px;top:628.4px;font-size:16.0px;transform:scaleX(0.77);color:#2e2e2e;font-weight:normal;-webkit-text-stroke:0.15px #2e2e2e;">Proverbs 25-26</div>
<div class="t" style="left:1217.4px;top:650.6px;font-size:16.0px;transform:scaleX(0.77);color:#2e2e2e;font-weight:normal;">18.</div>
<div class="c" style="left:1237.6px;top:651.2px;width:10.4px;height:13.5px;border:2.4px solid #606060;background:#ececec;"></div>
<div class="t" style="left:1254.4px;top:650.6px;font-size:16.0px;transform:scaleX(0.77);color:#2e2e2e;font-weight:normal;-webkit-text-stroke:0.15px #2e2e2e;">Proverbs 27-29</div>
<div class="t" style="left:1217.4px;top:672.9px;font-size:16.0px;transform:scaleX(0.77);color:#2e2e2e;font-weight:normal;">19.</div>
<div class="c" style="left:1237.6px;top:673.5px;width:10.4px;height:13.5px;border:2.4px solid #606060;background:#ececec;"></div>
<div class="t" style="left:1254.4px;top:672.9px;font-size:16.0px;transform:scaleX(0.77);color:#2e2e2e;font-weight:normal;-webkit-text-stroke:0.15px #2e2e2e;">Ecclesiastes 1-6</div>
<div class="t" style="left:1217.4px;top:695.2px;font-size:16.0px;transform:scaleX(0.77);color:#2e2e2e;font-weight:normal;">20.</div>
<div class="c" style="left:1237.6px;top:695.7px;width:10.4px;height:13.5px;border:2.4px solid #606060;background:#ececec;"></div>
<div class="t" style="left:1254.4px;top:695.2px;font-size:16.0px;transform:scaleX(0.77);color:#2e2e2e;font-weight:normal;-webkit-text-stroke:0.15px #2e2e2e;">Ecclesiastes 7-12</div>
<div class="t" style="left:1217.4px;top:719.8px;font-size:16.0px;transform:scaleX(0.77);color:#2e2e2e;font-weight:normal;">21.</div>
<div class="c" style="left:1237.6px;top:720.3px;width:10.4px;height:13.5px;border:2.4px solid #606060;background:#ececec;"></div>
<div class="t" style="left:1254.4px;top:719.8px;font-size:16.0px;transform:scaleX(0.77);color:#2e2e2e;font-weight:normal;-webkit-text-stroke:0.15px #2e2e2e;">1 Kings 10-11, 2 Chr 9</div>
<div class="t" style="left:1217.4px;top:742.0px;font-size:16.0px;transform:scaleX(0.77);color:#2e2e2e;font-weight:normal;">22.</div>
<div class="c" style="left:1237.6px;top:742.6px;width:10.4px;height:13.5px;border:2.4px solid #606060;background:#ececec;"></div>
<div class="t" style="left:1254.4px;top:742.0px;font-size:16.0px;transform:scaleX(0.77);color:#2e2e2e;font-weight:normal;-webkit-text-stroke:0.15px #2e2e2e;">Proverbs 30-31</div>
<div class="t" style="left:1217.4px;top:764.3px;font-size:16.0px;transform:scaleX(0.77);color:#2e2e2e;font-weight:normal;">23.</div>
<div class="c" style="left:1237.6px;top:764.8px;width:10.4px;height:13.5px;border:2.4px solid #606060;background:#ececec;"></div>
<div class="t" style="left:1254.4px;top:764.3px;font-size:16.0px;transform:scaleX(0.77);color:#2e2e2e;font-weight:normal;-webkit-text-stroke:0.15px #2e2e2e;">1 Kings 12-14</div>
<div class="t" style="left:1217.4px;top:786.6px;font-size:16.0px;transform:scaleX(0.77);color:#2e2e2e;font-weight:normal;">24.</div>
<div class="c" style="left:1237.6px;top:787.1px;width:10.4px;height:13.5px;border:2.4px solid #606060;background:#ececec;"></div>
<div class="t" style="left:1254.4px;top:786.6px;font-size:16.0px;transform:scaleX(0.77);color:#2e2e2e;font-weight:normal;-webkit-text-stroke:0.15px #2e2e2e;">2 Chronicles 10-12</div>
<div class="t" style="left:1217.4px;top:808.8px;font-size:16.0px;transform:scaleX(0.77);color:#2e2e2e;font-weight:normal;">25.</div>
<div class="c" style="left:1237.6px;top:809.4px;width:10.4px;height:13.5px;border:2.4px solid #606060;background:#ececec;"></div>
<div class="t" style="left:1254.4px;top:808.8px;font-size:16.0px;transform:scaleX(0.77);color:#2e2e2e;font-weight:normal;-webkit-text-stroke:0.15px #2e2e2e;">1 Kings 15:1-24, 2 Chr 13-16</div>
<div class="t" style="left:1217.4px;top:831.1px;font-size:16.0px;transform:scaleX(0.77);color:#2e2e2e;font-weight:normal;">26.</div>
<div class="c" style="left:1237.6px;top:831.6px;width:10.4px;height:13.5px;border:2.4px solid #606060;background:#ececec;"></div>
<div class="t" style="left:1254.4px;top:831.1px;font-size:16.0px;transform:scaleX(0.77);color:#2e2e2e;font-weight:normal;-webkit-text-stroke:0.15px #2e2e2e;">1 Kings 15:25-16:34, 2 Chr 17</div>
<div class="t" style="left:1217.4px;top:853.4px;font-size:16.0px;transform:scaleX(0.77);color:#2e2e2e;font-weight:normal;">27.</div>
<div class="c" style="left:1237.6px;top:853.9px;width:10.4px;height:13.5px;border:2.4px solid #606060;background:#ececec;"></div>
<div class="t" style="left:1254.4px;top:853.4px;font-size:16.0px;transform:scaleX(0.77);color:#2e2e2e;font-weight:normal;-webkit-text-stroke:0.15px #2e2e2e;">1 Kings 17-19</div>
<div class="t" style="left:1217.4px;top:875.6px;font-size:16.0px;transform:scaleX(0.77);color:#2e2e2e;font-weight:normal;">28.</div>
<div class="c" style="left:1237.6px;top:876.2px;width:10.4px;height:13.5px;border:2.4px solid #606060;background:#ececec;"></div>
<div class="t" style="left:1254.4px;top:875.6px;font-size:16.0px;transform:scaleX(0.77);color:#2e2e2e;font-weight:normal;-webkit-text-stroke:0.15px #2e2e2e;">1 Kings 20-21</div>
<div class="t" style="left:1217.4px;top:897.9px;font-size:16.0px;transform:scaleX(0.77);color:#2e2e2e;font-weight:normal;">29.</div>
<div class="c" style="left:1237.6px;top:898.5px;width:10.4px;height:13.5px;border:2.4px solid #606060;background:#ececec;"></div>
<div class="t" style="left:1254.4px;top:897.9px;font-size:16.0px;transform:scaleX(0.77);color:#2e2e2e;font-weight:normal;-webkit-text-stroke:0.15px #2e2e2e;">1 Kings 22, 2 Chr 18</div>
<div class="t" style="left:1217.4px;top:920.2px;font-size:16.0px;transform:scaleX(0.77);color:#2e2e2e;font-weight:normal;">30.</div>
<div class="c" style="left:1237.6px;top:920.7px;width:10.4px;height:13.5px;border:2.4px solid #606060;background:#ececec;"></div>
<div class="t" style="left:1254.4px;top:920.2px;font-size:16.0px;transform:scaleX(0.77);color:#2e2e2e;font-weight:normal;-webkit-text-stroke:0.15px #2e2e2e;">2 Chr 19-23</div>
<div class="t" style="left:89.7px;top:1259.6px;font-size:18.0px;transform:scaleX(0.672);color:#c43546;font-weight:bold;">July</div>
<div class="t" style="left:90.0px;top:1308.0px;font-size:16.0px;transform:scaleX(0.77);color:#c9424a;font-weight:normal;">1.</div>
<div class="c" style="left:112.6px;top:1308.5px;width:12.6px;height:13.5px;border:2.4px solid #c4606a;background:#fde0e3;"></div>
<div class="t" style="left:127.0px;top:1308.0px;font-size:16.0px;transform:scaleX(0.77);color:#2e2e2e;font-weight:normal;-webkit-text-stroke:0.15px #2e2e2e;">Obadiah 1, Ps 82-83</div>
<div class="t" style="left:90.0px;top:1330.2px;font-size:16.0px;transform:scaleX(0.77);color:#c9424a;font-weight:normal;">2.</div>
<div class="c" style="left:112.6px;top:1330.8px;width:12.6px;height:13.5px;border:2.4px solid #c4606a;background:#fde0e3;"></div>
<div class="t" style="left:127.0px;top:1330.2px;font-size:16.0px;transform:scaleX(0.77);color:#2e2e2e;font-weight:normal;-webkit-text-stroke:0.15px #2e2e2e;">2 Kings 1-4</div>
<div class="t" style="left:90.0px;top:1352.5px;font-size:16.0px;transform:scaleX(0.77);color:#c9424a;font-weight:normal;">3.</div>
<div class="c" style="left:112.6px;top:1353.0px;width:12.6px;height:13.5px;border:2.4px solid #c4606a;background:#fde0e3;"></div>
<div class="t" style="left:127.0px;top:1352.5px;font-size:16.0px;transform:scaleX(0.77);color:#2e2e2e;font-weight:normal;-webkit-text-stroke:0.15px #2e2e2e;">2 Kings 5-8</div>
<div class="t" style="left:90.0px;top:1374.8px;font-size:16.0px;transform:scaleX(0.77);color:#c9424a;font-weight:normal;">4.</div>
<div class="c" style="left:112.6px;top:1375.3px;width:12.6px;height:13.5px;border:2.4px solid #c4606a;background:#fde0e3;"></div>
<div class="t" style="left:127.0px;top:1374.8px;font-size:16.0px;transform:scaleX(0.77);color:#2e2e2e;font-weight:normal;-webkit-text-stroke:0.15px #2e2e2e;">2 Kings 9-11</div>
<div class="t" style="left:90.0px;top:1397.0px;font-size:16.0px;transform:scaleX(0.77);color:#c9424a;font-weight:normal;">5.</div>
<div class="c" style="left:112.6px;top:1397.6px;width:12.6px;height:13.5px;border:2.4px solid #c4606a;background:#fde0e3;"></div>
<div class="t" style="left:127.0px;top:1397.0px;font-size:16.0px;transform:scaleX(0.77);color:#2e2e2e;font-weight:normal;-webkit-text-stroke:0.15px #2e2e2e;">2 Kings 12-13, 2 Chr 24</div>
<div class="t" style="left:90.0px;top:1419.3px;font-size:16.0px;transform:scaleX(0.77);color:#c9424a;font-weight:normal;">6.</div>
<div class="c" style="left:112.6px;top:1419.8px;width:12.6px;height:13.5px;border:2.4px solid #c4606a;background:#fde0e3;"></div>
<div class="t" style="left:127.0px;top:1419.3px;font-size:16.0px;transform:scaleX(0.77);color:#2e2e2e;font-weight:normal;-webkit-text-stroke:0.15px #2e2e2e;">2 Kings 14, 2 Chr 25</div>
<div class="t" style="left:90.0px;top:1441.6px;font-size:16.0px;transform:scaleX(0.77);color:#c9424a;font-weight:normal;">7.</div>
<div class="c" style="left:112.6px;top:1442.1px;width:12.6px;height:13.5px;border:2.4px solid #c4606a;background:#fde0e3;"></div>
<div class="t" style="left:127.0px;top:1441.6px;font-size:16.0px;transform:scaleX(0.77);color:#2e2e2e;font-weight:normal;-webkit-text-stroke:0.15px #2e2e2e;">Jonah 1-4</div>
<div class="t" style="left:90.0px;top:1463.8px;font-size:16.0px;transform:scaleX(0.77);color:#c9424a;font-weight:normal;">8.</div>
<div class="c" style="left:112.6px;top:1464.4px;width:12.6px;height:13.5px;border:2.4px solid #c4606a;background:#fde0e3;"></div>
<div class="t" style="left:127.0px;top:1463.8px;font-size:16.0px;transform:scaleX(0.77);color:#2e2e2e;font-weight:normal;-webkit-text-stroke:0.15px #2e2e2e;">2 Kings 15, 2 Chr 26</div>
<div class="t" style="left:90.0px;top:1486.1px;font-size:16.0px;transform:scaleX(0.77);color:#c9424a;font-weight:normal;">9.</div>
<div class="c" style="left:112.6px;top:1486.7px;width:12.6px;height:13.5px;border:2.4px solid #c4606a;background:#fde0e3;"></div>
<div class="t" style="left:127.0px;top:1486.1px;font-size:16.0px;transform:scaleX(0.77);color:#2e2e2e;font-weight:normal;-webkit-text-stroke:0.15px #2e2e2e;">Isaiah 1-4</div>
<div class="t" style="left:90.0px;top:1508.4px;font-size:16.0px;transform:scaleX(0.77);color:#c9424a;font-weight:normal;">10.</div>
<div class="c" style="left:112.6px;top:1508.9px;width:12.6px;height:13.5px;border:2.4px solid #c4606a;background:#fde0e3;"></div>
<div class="t" style="left:127.0px;top:1508.4px;font-size:16.0px;transform:scaleX(0.77);color:#2e2e2e;font-weight:normal;-webkit-text-stroke:0.15px #2e2e2e;">Isaiah 5-8</div>
<div class="t" style="left:90.0px;top:1533.0px;font-size:16.0px;transform:scaleX(0.77);color:#c9424a;font-weight:normal;">11.</div>
<div class="c" style="left:112.6px;top:1533.5px;width:12.6px;height:13.5px;border:2.4px solid #c4606a;background:#fde0e3;"></div>
<div class="t" style="left:127.0px;top:1533.0px;font-size:16.0px;transform:scaleX(0.77);color:#2e2e2e;font-weight:normal;-webkit-text-stroke:0.15px #2e2e2e;">Amos 1-5</div>
<div class="t" style="left:90.0px;top:1555.2px;font-size:16.0px;transform:scaleX(0.77);color:#c9424a;font-weight:normal;">12.</div>
<div class="c" style="left:112.6px;top:1555.8px;width:12.6px;height:13.5px;border:2.4px solid #c4606a;background:#fde0e3;"></div>
<div class="t" style="left:127.0px;top:1555.2px;font-size:16.0px;transform:scaleX(0.77);color:#2e2e2e;font-weight:normal;-webkit-text-stroke:0.15px #2e2e2e;">Amos 6-9</div>
<div class="t" style="left:90.0px;top:1577.5px;font-size:16.0px;transform:scaleX(0.77);color:#c9424a;font-weight:normal;">13.</div>
<div class="c" style="left:112.6px;top:1578.0px;width:12.6px;height:13.5px;border:2.4px solid #c4606a;background:#fde0e3;"></div>
<div class="t" style="left:127.0px;top:1577.5px;font-size:16.0px;transform:scaleX(0.77);color:#2e2e2e;font-weight:normal;-webkit-text-stroke:0.15px #2e2e2e;">2 Chr 27, Isaiah 9-12</div>
<div class="t" style="left:90.0px;top:1599.8px;font-size:16.0px;transform:scaleX(0.77);color:#c9424a;font-weight:normal;">14.</div>
<div class="c" style="left:112.6px;top:1600.3px;width:12.6px;height:13.5px;border:2.4px solid #c4606a;background:#fde0e3;"></div>
<div class="t" style="left:127.0px;top:1599.8px;font-size:16.0px;transform:scaleX(0.77);color:#2e2e2e;font-weight:normal;-webkit-text-stroke:0.15px #2e2e2e;">Micah 1-7</div>
<div class="t" style="left:90.0px;top:1622.0px;font-size:16.0px;transform:scaleX(0.77);color:#c9424a;font-weight:normal;">15.</div>
<div class="c" style="left:112.6px;top:1622.6px;width:12.6px;height:13.5px;border:2.4px solid #c4606a;background:#fde0e3;"></div>
<div class="t" style="left:127.0px;top:1622.0px;font-size:16.0px;transform:scaleX(0.77);color:#2e2e2e;font-weight:normal;-webkit-text-stroke:0.15px #2e2e2e;">2 Chr 28, 2 Kings 16-17</div>
<div class="t" style="left:90.0px;top:1644.3px;font-size:16.0px;transform:scaleX(0.77);color:#c9424a;font-weight:normal;">16.</div>
<div class="c" style="left:112.6px;top:1644.8px;width:12.6px;height:13.5px;border:2.4px solid #c4606a;background:#fde0e3;"></div>
<div class="t" style="left:127.0px;top:1644.3px;font-size:16.0px;transform:scaleX(0.77);color:#2e2e2e;font-weight:normal;-webkit-text-stroke:0.15px #2e2e2e;">Isaiah 13-17</div>
<div class="t" style="left:90.0px;top:1666.6px;font-size:16.0px;transform:scaleX(0.77);color:#c9424a;font-weight:normal;">17.</div>
<div class="c" style="left:112.6px;top:1667.1px;width:12.6px;height:13.5px;border:2.4px solid #c4606a;background:#fde0e3;"></div>
<div class="t" style="left:127.0px;top:1666.6px;font-size:16.0px;transform:scaleX(0.77);color:#2e2e2e;font-weight:normal;-webkit-text-stroke:0.15px #2e2e2e;">Isaiah 18-22</div>
<div class="t" style="left:90.0px;top:1688.8px;font-size:16.0px;transform:scaleX(0.77);color:#c9424a;font-weight:normal;">18.</div>
<div class="c" style="left:112.6px;top:1689.4px;width:12.6px;height:13.5px;border:2.4px solid #c4606a;background:#fde0e3;"></div>
<div class="t" style="left:127.0px;top:1688.8px;font-size:16.0px;transform:scaleX(0.77);color:#2e2e2e;font-weight:normal;-webkit-text-stroke:0.15px #2e2e2e;">Isaiah 23-27</div>
<div class="t" style="left:90.0px;top:1711.1px;font-size:16.0px;transform:scaleX(0.77);color:#c9424a;font-weight:normal;">19.</div>
<div class="c" style="left:112.6px;top:1711.7px;width:12.6px;height:13.5px;border:2.4px solid #c4606a;background:#fde0e3;"></div>
<div class="t" style="left:127.0px;top:1711.1px;font-size:16.0px;transform:scaleX(0.77);color:#2e2e2e;font-weight:normal;-webkit-text-stroke:0.15px #2e2e2e;">2 Kgs 18:1-8, 2 Chr 29-31, Ps 48</div>
<div class="t" style="left:90.0px;top:1733.4px;font-size:16.0px;transform:scaleX(0.77);color:#c9424a;font-weight:normal;">20.</div>
<div class="c" style="left:112.6px;top:1733.9px;width:12.6px;height:13.5px;border:2.4px solid #c4606a;background:#fde0e3;"></div>
<div class="t" style="left:127.0px;top:1733.4px;font-size:16.0px;transform:scaleX(0.77);color:#2e2e2e;font-weight:normal;-webkit-text-stroke:0.15px #2e2e2e;">Hosea 1-7</div>
<div class="t" style="left:90.0px;top:1758.0px;font-size:16.0px;transform:scaleX(0.77);color:#c9424a;font-weight:normal;">21.</div>
<div class="c" style="left:112.6px;top:1758.5px;width:12.6px;height:13.5px;border:2.4px solid #c4606a;background:#fde0e3;"></div>
<div class="t" style="left:127.0px;top:1758.0px;font-size:16.0px;transform:scaleX(0.77);color:#2e2e2e;font-weight:normal;-webkit-text-stroke:0.15px #2e2e2e;">Hosea 8-14</div>
<div class="t" style="left:90.0px;top:1780.2px;font-size:16.0px;transform:scaleX(0.77);color:#c9424a;font-weight:normal;">22.</div>
<div class="c" style="left:112.6px;top:1780.8px;width:12.6px;height:13.5px;border:2.4px solid #c4606a;background:#fde0e3;"></div>
<div class="t" style="left:127.0px;top:1780.2px;font-size:16.0px;transform:scaleX(0.77);color:#2e2e2e;font-weight:normal;-webkit-text-stroke:0.15px #2e2e2e;">Isaiah 28-30</div>
<div class="t" style="left:90.0px;top:1802.5px;font-size:16.0px;transform:scaleX(0.77);color:#c9424a;font-weight:normal;">23.</div>
<div class="c" style="left:112.6px;top:1803.0px;width:12.6px;height:13.5px;border:2.4px solid #c4606a;background:#fde0e3;"></div>
<div class="t" style="left:127.0px;top:1802.5px;font-size:16.0px;transform:scaleX(0.77);color:#2e2e2e;font-weight:normal;-webkit-text-stroke:0.15px #2e2e2e;">Isaiah 31-34</div>
<div class="t" style="left:90.0px;top:1824.8px;font-size:16.0px;transform:scaleX(0.77);color:#c9424a;font-weight:normal;">24.</div>
<div class="c" style="left:112.6px;top:1825.3px;width:12.6px;height:13.5px;border:2.4px solid #c4606a;background:#fde0e3;"></div>
<div class="t" style="left:127.0px;top:1824.8px;font-size:16.0px;transform:scaleX(0.77);color:#2e2e2e;font-weight:normal;-webkit-text-stroke:0.15px #2e2e2e;">Isaiah 35-36</div>
<div class="t" style="left:90.0px;top:1847.0px;font-size:16.0px;transform:scaleX(0.77);color:#c9424a;font-weight:normal;">25.</div>
<div class="c" style="left:112.6px;top:1847.6px;width:12.6px;height:13.5px;border:2.4px solid #c4606a;background:#fde0e3;"></div>
<div class="t" style="left:127.0px;top:1847.0px;font-size:16.0px;transform:scaleX(0.77);color:#2e2e2e;font-weight:normal;-webkit-text-stroke:0.15px #2e2e2e;">Isaiah 37-39, Ps 76</div>
<div class="t" style="left:90.0px;top:1869.3px;font-size:16.0px;transform:scaleX(0.77);color:#c9424a;font-weight:normal;">26.</div>
<div class="c" style="left:112.6px;top:1869.8px;width:12.6px;height:13.5px;border:2.4px solid #c4606a;background:#fde0e3;"></div>
<div class="t" style="left:127.0px;top:1869.3px;font-size:16.0px;transform:scaleX(0.77);color:#2e2e2e;font-weight:normal;-webkit-text-stroke:0.15px #2e2e2e;">Isaiah 40-43</div>
<div class="t" style="left:90.0px;top:1891.6px;font-size:16.0px;transform:scaleX(0.77);color:#c9424a;font-weight:normal;">27.</div>
<div class="c" style="left:112.6px;top:1892.1px;width:12.6px;height:13.5px;border:2.4px solid #c4606a;background:#fde0e3;"></div>
<div class="t" style="left:127.0px;top:1891.6px;font-size:16.0px;transform:scaleX(0.77);color:#2e2e2e;font-weight:normal;-webkit-text-stroke:0.15px #2e2e2e;">Isaiah 44-48</div>
<div class="t" style="left:90.0px;top:1913.8px;font-size:16.0px;transform:scaleX(0.77);color:#c9424a;font-weight:normal;">28.</div>
<div class="c" style="left:112.6px;top:1914.4px;width:12.6px;height:13.5px;border:2.4px solid #c4606a;background:#fde0e3;"></div>
<div class="t" style="left:127.0px;top:1913.8px;font-size:16.0px;transform:scaleX(0.77);color:#2e2e2e;font-weight:normal;-webkit-text-stroke:0.15px #2e2e2e;">2 Kgs 18:9-19:37, Ps 46, 80, 135</div>
<div class="t" style="left:90.0px;top:1936.1px;font-size:16.0px;transform:scaleX(0.77);color:#c9424a;font-weight:normal;">29.</div>
<div class="c" style="left:112.6px;top:1936.7px;width:12.6px;height:13.5px;border:2.4px solid #c4606a;background:#fde0e3;"></div>
<div class="t" style="left:127.0px;top:1936.1px;font-size:16.0px;transform:scaleX(0.77);color:#2e2e2e;font-weight:normal;-webkit-text-stroke:0.15px #2e2e2e;">Isaiah 49-53</div>
<div class="t" style="left:90.0px;top:1958.4px;font-size:16.0px;transform:scaleX(0.77);color:#c9424a;font-weight:normal;">30.</div>
<div class="c" style="left:112.6px;top:1958.9px;width:12.6px;height:13.5px;border:2.4px solid #c4606a;background:#fde0e3;"></div>
<div class="t" style="left:127.0px;top:1958.4px;font-size:16.0px;transform:scaleX(0.77);color:#2e2e2e;font-weight:normal;-webkit-text-stroke:0.15px #2e2e2e;">Isaiah 54-58</div>
<div class="t" style="left:90.0px;top:1983.0px;font-size:16.0px;transform:scaleX(0.77);color:#c9424a;font-weight:normal;">31.</div>
<div class="c" style="left:112.6px;top:1983.5px;width:12.6px;height:13.5px;border:2.4px solid #c4606a;background:#fde0e3;"></div>
<div class="t" style="left:127.0px;top:1983.0px;font-size:16.0px;transform:scaleX(0.77);color:#2e2e2e;font-weight:normal;-webkit-text-stroke:0.15px #2e2e2e;">Isaiah 59-63</div>
<div class="t" style="left:314.4px;top:1259.6px;font-size:18.0px;transform:scaleX(0.672);color:#30c2d0;font-weight:bold;">August</div>
<div class="t" style="left:314.2px;top:1308.0px;font-size:16.0px;transform:scaleX(0.77);color:#45c6d6;font-weight:normal;">1.</div>
<div class="c" style="left:337.6px;top:1308.5px;width:10.4px;height:13.5px;border:2.4px solid #4cc4d0;background:#dcf6f8;"></div>
<div class="t" style="left:350.7px;top:1308.0px;font-size:16.0px;transform:scaleX(0.77);color:#2e2e2e;font-weight:normal;-webkit-text-stroke:0.15px #2e2e2e;">Isaiah 64-66</div>
<div class="t" style="left:314.2px;top:1330.2px;font-size:16.0px;transform:scaleX(0.77);color:#45c6d6;font-weight:normal;">2.</div>
<div class="c" style="left:337.6px;top:1330.8px;width:10.4px;height:13.5px;border:2.4px solid #4cc4d0;background:#dcf6f8;"></div>
<div class="t" style="left:350.7px;top:1330.2px;font-size:16.0px;transform:scaleX(0.77);color:#2e2e2e;font-weight:normal;-webkit-text-stroke:0.15px #2e2e2e;">2 Kings 20-21</div>
<div class="t" style="left:314.2px;top:1352.5px;font-size:16.0px;transform:scaleX(0.77);color:#45c6d6;font-weight:normal;">3.</div>
<div class="c" style="left:337.6px;top:1353.0px;width:10.4px;height:13.5px;border:2.4px solid #4cc4d0;background:#dcf6f8;"></div>
<div class="t" style="left:350.7px;top:1352.5px;font-size:16.0px;transform:scaleX(0.77);color:#2e2e2e;font-weight:normal;-webkit-text-stroke:0.15px #2e2e2e;">2 Chronicles 32-33</div>
<div class="t" style="left:314.2px;top:1374.8px;font-size:16.0px;transform:scaleX(0.77);color:#45c6d6;font-weight:normal;">4.</div>
<div class="c" style="left:337.6px;top:1375.3px;width:10.4px;height:13.5px;border:2.4px solid #4cc4d0;background:#dcf6f8;"></div>
<div class="t" style="left:350.7px;top:1374.8px;font-size:16.0px;transform:scaleX(0.77);color:#2e2e2e;font-weight:normal;-webkit-text-stroke:0.15px #2e2e2e;">Nahum 1-3</div>
<div class="t" style="left:314.2px;top:1397.0px;font-size:16.0px;transform:scaleX(0.77);color:#45c6d6;font-weight:normal;">5.</div>
<div class="c" style="left:337.6px;top:1397.6px;width:10.4px;height:13.5px;border:2.4px solid #4cc4d0;background:#dcf6f8;"></div>
<div class="t" style="left:350.7px;top:1397.0px;font-size:16.0px;transform:scaleX(0.77);color:#2e2e2e;font-weight:normal;-webkit-text-stroke:0.15px #2e2e2e;">2 Kings 22-23, 2 Chr 34-35</div>
<div class="t" style="left:314.2px;top:1419.3px;font-size:16.0px;transform:scaleX(0.77);color:#45c6d6;font-weight:normal;">6.</div>
<div class="c" style="left:337.6px;top:1419.8px;width:10.4px;height:13.5px;border:2.4px solid #4cc4d0;background:#dcf6f8;"></div>
<div class="t" style="left:350.7px;top:1419.3px;font-size:16.0px;transform:scaleX(0.77);color:#2e2e2e;font-weight:normal;-webkit-text-stroke:0.15px #2e2e2e;">Zephaniah 1-3</div>
<div class="t" style="left:314.2px;top:1441.6px;font-size:16.0px;transform:scaleX(0.77);color:#45c6d6;font-weight:normal;">7.</div>
<div class="c" style="left:337.6px;top:1442.1px;width:10.4px;height:13.5px;border:2.4px solid #4cc4d0;background:#dcf6f8;"></div>
<div class="t" style="left:350.7px;top:1441.6px;font-size:16.0px;transform:scaleX(0.77);color:#2e2e2e;font-weight:normal;-webkit-text-stroke:0.15px #2e2e2e;">Jeremiah 1-3</div>
<div class="t" style="left:314.2px;top:1463.8px;font-size:16.0px;transform:scaleX(0.77);color:#45c6d6;font-weight:normal;">8.</div>
<div class="c" style="left:337.6px;top:1464.4px;width:10.4px;height:13.5px;border:2.4px solid #4cc4d0;background:#dcf6f8;"></div>
<div class="t" style="left:350.7px;top:1463.8px;font-size:16.0px;transform:scaleX(0.77);color:#2e2e2e;font-weight:normal;-webkit-text-stroke:0.15px #2e2e2e;">Jeremiah 4-6</div>
<div class="t" style="left:314.2px;top:1486.1px;font-size:16.0px;transform:scaleX(0.77);color:#45c6d6;font-weight:normal;">9.</div>
<div class="c" style="left:337.6px;top:1486.7px;width:10.4px;height:13.5px;border:2.4px solid #4cc4d0;background:#dcf6f8;"></div>
<div class="t" style="left:350.7px;top:1486.1px;font-size:16.0px;transform:scaleX(0.77);color:#2e2e2e;font-weight:normal;-webkit-text-stroke:0.15px #2e2e2e;">Jeremiah 7-9</div>
<div class="t" style="left:314.2px;top:1508.4px;font-size:16.0px;transform:scaleX(0.77);color:#45c6d6;font-weight:normal;">10.</div>
<div class="c" style="left:337.6px;top:1508.9px;width:10.4px;height:13.5px;border:2.4px solid #4cc4d0;background:#dcf6f8;"></div>
<div class="t" style="left:350.7px;top:1508.4px;font-size:16.0px;transform:scaleX(0.77);color:#2e2e2e;font-weight:normal;-webkit-text-stroke:0.15px #2e2e2e;">Jeremiah 10-13</div>
<div class="t" style="left:314.2px;top:1533.0px;font-size:16.0px;transform:scaleX(0.77);color:#45c6d6;font-weight:normal;">11.</div>
<div class="c" style="left:337.6px;top:1533.5px;width:10.4px;height:13.5px;border:2.4px solid #4cc4d0;background:#dcf6f8;"></div>
<div class="t" style="left:350.7px;top:1533.0px;font-size:16.0px;transform:scaleX(0.77);color:#2e2e2e;font-weight:normal;-webkit-text-stroke:0.15px #2e2e2e;">Jeremiah 14-17</div>
<div class="t" style="left:314.2px;top:1555.2px;font-size:16.0px;transform:scaleX(0.77);color:#45c6d6;font-weight:normal;">12.</div>
<div class="c" style="left:337.6px;top:1555.8px;width:10.4px;height:13.5px;border:2.4px solid #4cc4d0;background:#dcf6f8;"></div>
<div class="t" style="left:350.7px;top:1555.2px;font-size:16.0px;transform:scaleX(0.77);color:#2e2e2e;font-weight:normal;-webkit-text-stroke:0.15px #2e2e2e;">Jeremiah 18-22</div>
<div class="t" style="left:314.2px;top:1577.5px;font-size:16.0px;transform:scaleX(0.77);color:#45c6d6;font-weight:normal;">13.</div>
<div class="c" style="left:337.6px;top:1578.0px;width:10.4px;height:13.5px;border:2.4px solid #4cc4d0;background:#dcf6f8;"></div>
<div class="t" style="left:350.7px;top:1577.5px;font-size:16.0px;transform:scaleX(0.77);color:#2e2e2e;font-weight:normal;-webkit-text-stroke:0.15px #2e2e2e;">Jeremiah 23-25</div>
<div class="t" style="left:314.2px;top:1599.8px;font-size:16.0px;transform:scaleX(0.77);color:#45c6d6;font-weight:normal;">14.</div>
<div class="c" style="left:337.6px;top:1600.3px;width:10.4px;height:13.5px;border:2.4px solid #4cc4d0;background:#dcf6f8;"></div>
<div class="t" style="left:350.7px;top:1599.8px;font-size:16.0px;transform:scaleX(0.77);color:#2e2e2e;font-weight:normal;-webkit-text-stroke:0.15px #2e2e2e;">Jeremiah 26-29</div>
<div class="t" style="left:314.2px;top:1622.0px;font-size:16.0px;transform:scaleX(0.77);color:#45c6d6;font-weight:normal;">15.</div>
<div class="c" style="left:337.6px;top:1622.6px;width:10.4px;height:13.5px;border:2.4px solid #4cc4d0;background:#dcf6f8;"></div>
<div class="t" style="left:350.7px;top:1622.0px;font-size:16.0px;transform:scaleX(0.77);color:#2e2e2e;font-weight:normal;-webkit-text-stroke:0.15px #2e2e2e;">Jeremiah 30-31</div>
<div class="t" style="left:314.2px;top:1644.3px;font-size:16.0px;transform:scaleX(0.77);color:#45c6d6;font-weight:normal;">16.</div>
<div class="c" style="left:337.6px;top:1644.8px;width:10.4px;height:13.5px;border:2.4px solid #4cc4d0;background:#dcf6f8;"></div>
<div class="t" style="left:350.7px;top:1644.3px;font-size:16.0px;transform:scaleX(0.77);color:#2e2e2e;font-weight:normal;-webkit-text-stroke:0.15px #2e2e2e;">Jeremiah 32-34</div>
<div class="t" style="left:314.2px;top:1666.6px;font-size:16.0px;transform:scaleX(0.77);color:#45c6d6;font-weight:normal;">17.</div>
<div class="c" style="left:337.6px;top:1667.1px;width:10.4px;height:13.5px;border:2.4px solid #4cc4d0;background:#dcf6f8;"></div>
<div class="t" style="left:350.7px;top:1666.6px;font-size:16.0px;transform:scaleX(0.77);color:#2e2e2e;font-weight:normal;-webkit-text-stroke:0.15px #2e2e2e;">Jeremiah 35-37</div>
<div class="t" style="left:314.2px;top:1688.8px;font-size:16.0px;transform:scaleX(0.77);color:#45c6d6;font-weight:normal;">18.</div>
<div class="c" style="left:337.6px;top:1689.4px;width:10.4px;height:13.5px;border:2.4px solid #4cc4d0;background:#dcf6f8;"></div>
<div class="t" style="left:350.7px;top:1688.8px;font-size:16.0px;transform:scaleX(0.77);color:#2e2e2e;font-weight:normal;-webkit-text-stroke:0.15px #2e2e2e;">Jeremiah 38-40, Ps 74, 79</div>
<div class="t" style="left:314.2px;top:1711.1px;font-size:16.0px;transform:scaleX(0.77);color:#45c6d6;font-weight:normal;">19.</div>
<div class="c" style="left:337.6px;top:1711.7px;width:10.4px;height:13.5px;border:2.4px solid #4cc4d0;background:#dcf6f8;"></div>
<div class="t" style="left:350.7px;top:1711.1px;font-size:16.0px;transform:scaleX(0.77);color:#2e2e2e;font-weight:normal;-webkit-text-stroke:0.15px #2e2e2e;">2 Kings 24-25, 2 Chr 36</div>
<div class="t" style="left:314.2px;top:1733.4px;font-size:16.0px;transform:scaleX(0.77);color:#45c6d6;font-weight:normal;">20.</div>
<div class="c" style="left:337.6px;top:1733.9px;width:10.4px;height:13.5px;border:2.4px solid #4cc4d0;background:#dcf6f8;"></div>
<div class="t" style="left:350.7px;top:1733.4px;font-size:16.0px;transform:scaleX(0.77);color:#2e2e2e;font-weight:normal;-webkit-text-stroke:0.15px #2e2e2e;">Habakkuk 1-3</div>
<div class="t" style="left:314.2px;top:1758.0px;font-size:16.0px;transform:scaleX(0.77);color:#45c6d6;font-weight:normal;">21.</div>
<div class="c" style="left:337.6px;top:1758.5px;width:10.4px;height:13.5px;border:2.4px solid #4cc4d0;background:#dcf6f8;"></div>
<div class="t" style="left:350.7px;top:1758.0px;font-size:16.0px;transform:scaleX(0.77);color:#2e2e2e;font-weight:normal;-webkit-text-stroke:0.15px #2e2e2e;">Jeremiah 41-45</div>
<div class="t" style="left:314.2px;top:1780.2px;font-size:16.0px;transform:scaleX(0.77);color:#45c6d6;font-weight:normal;">22.</div>
<div class="c" style="left:337.6px;top:1780.8px;width:10.4px;height:13.5px;border:2.4px solid #4cc4d0;background:#dcf6f8;"></div>
<div class="t" style="left:350.7px;top:1780.2px;font-size:16.0px;transform:scaleX(0.77);color:#2e2e2e;font-weight:normal;-webkit-text-stroke:0.15px #2e2e2e;">Jeremiah 46-48</div>
<div class="t" style="left:314.2px;top:1802.5px;font-size:16.0px;transform:scaleX(0.77);color:#45c6d6;font-weight:normal;">23.</div>
<div class="c" style="left:337.6px;top:1803.0px;width:10.4px;height:13.5px;border:2.4px solid #4cc4d0;background:#dcf6f8;"></div>
<div class="t" style="left:350.7px;top:1802.5px;font-size:16.0px;transform:scaleX(0.77);color:#2e2e2e;font-weight:normal;-webkit-text-stroke:0.15px #2e2e2e;">Jeremiah 49-50</div>
<div class="t" style="left:314.2px;top:1824.8px;font-size:16.0px;transform:scaleX(0.77);color:#45c6d6;font-weight:normal;">24.</div>
<div class="c" style="left:337.6px;top:1825.3px;width:10.4px;height:13.5px;border:2.4px solid #4cc4d0;background:#dcf6f8;"></div>
<div class="t" style="left:350.7px;top:1824.8px;font-size:16.0px;transform:scaleX(0.77);color:#2e2e2e;font-weight:normal;-webkit-text-stroke:0.15px #2e2e2e;">Jeremiah 51-52</div>
<div class="t" style="left:314.2px;top:1847.0px;font-size:16.0px;transform:scaleX(0.77);color:#45c6d6;font-weight:normal;">25.</div>
<div class="c" style="left:337.6px;top:1847.6px;width:10.4px;height:13.5px;border:2.4px solid #4cc4d0;background:#dcf6f8;"></div>
<div class="t" style="left:350.7px;top:1847.0px;font-size:16.0px;transform:scaleX(0.77);color:#2e2e2e;font-weight:normal;-webkit-text-stroke:0.15px #2e2e2e;">Lamentations 1:1-3:36</div>
<div class="t" style="left:314.2px;top:1869.3px;font-size:16.0px;transform:scaleX(0.77);color:#45c6d6;font-weight:normal;">26.</div>
<div class="c" style="left:337.6px;top:1869.8px;width:10.4px;height:13.5px;border:2.4px solid #4cc4d0;background:#dcf6f8;"></div>
<div class="t" style="left:350.7px;top:1869.3px;font-size:16.0px;transform:scaleX(0.77);color:#2e2e2e;font-weight:normal;-webkit-text-stroke:0.15px #2e2e2e;">Lamentations 3:37-5:22</div>
<div class="t" style="left:314.2px;top:1891.6px;font-size:16.0px;transform:scaleX(0.77);color:#45c6d6;font-weight:normal;">27.</div>
<div class="c" style="left:337.6px;top:1892.1px;width:10.4px;height:13.5px;border:2.4px solid #4cc4d0;background:#dcf6f8;"></div>
<div class="t" style="left:350.7px;top:1891.6px;font-size:16.0px;transform:scaleX(0.77);color:#2e2e2e;font-weight:normal;-webkit-text-stroke:0.15px #2e2e2e;">Ezekiel 1-4</div>
<div class="t" style="left:314.2px;top:1913.8px;font-size:16.0px;transform:scaleX(0.77);color:#45c6d6;font-weight:normal;">28.</div>
<div class="c" style="left:337.6px;top:1914.4px;width:10.4px;height:13.5px;border:2.4px solid #4cc4d0;background:#dcf6f8;"></div>
<div class="t" style="left:350.7px;top:1913.8px;font-size:16.0px;transform:scaleX(0.77);color:#2e2e2e;font-weight:normal;-webkit-text-stroke:0.15px #2e2e2e;">Ezekiel 5-8</div>
<div class="t" style="left:314.2px;top:1936.1px;font-size:16.0px;transform:scaleX(0.77);color:#45c6d6;font-weight:normal;">29.</div>
<div class="c" style="left:337.6px;top:1936.7px;width:10.4px;height:13.5px;border:2.4px solid #4cc4d0;background:#dcf6f8;"></div>
<div class="t" style="left:350.7px;top:1936.1px;font-size:16.0px;transform:scaleX(0.77);color:#2e2e2e;font-weight:normal;-webkit-text-stroke:0.15px #2e2e2e;">Ezekiel 9-12</div>
<div class="t" style="left:314.2px;top:1958.4px;font-size:16.0px;transform:scaleX(0.77);color:#45c6d6;font-weight:normal;">30.</div>
<div class="c" style="left:337.6px;top:1958.9px;width:10.4px;height:13.5px;border:2.4px solid #4cc4d0;background:#dcf6f8;"></div>
<div class="t" style="left:350.7px;top:1958.4px;font-size:16.0px;transform:scaleX(0.77);color:#2e2e2e;font-weight:normal;-webkit-text-stroke:0.15px #2e2e2e;">Ezekiel 13-15</div>
<div class="t" style="left:314.2px;top:1983.0px;font-size:16.0px;transform:scaleX(0.77);color:#45c6d6;font-weight:normal;">31.</div>
<div class="c" style="left:337.6px;top:1983.5px;width:10.4px;height:13.5px;border:2.4px solid #4cc4d0;background:#dcf6f8;"></div>
<div class="t" style="left:350.7px;top:1983.0px;font-size:16.0px;transform:scaleX(0.77);color:#2e2e2e;font-weight:normal;-webkit-text-stroke:0.15px #2e2e2e;">Ezekiel 16-17</div>
<div class="t" style="left:537.3px;top:1259.6px;font-size:18.0px;transform:scaleX(0.672);color:#1e1e1e;font-weight:bold;">September</div>
<div class="t" style="left:536.6px;top:1308.0px;font-size:16.0px;transform:scaleX(0.77);color:#2e2e2e;font-weight:normal;">1.</div>
<div class="c" style="left:560.0px;top:1308.5px;width:11.2px;height:13.5px;border:2.4px solid #606060;background:#ececec;"></div>
<div class="t" style="left:574.4px;top:1308.0px;font-size:16.0px;transform:scaleX(0.77);color:#2e2e2e;font-weight:normal;-webkit-text-stroke:0.15px #2e2e2e;">Ezekiel 18-19</div>
<div class="t" style="left:536.6px;top:1330.2px;font-size:16.0px;transform:scaleX(0.77);color:#2e2e2e;font-weight:normal;">2.</div>
<div class="c" style="left:560.0px;top:1330.8px;width:11.2px;height:13.5px;border:2.4px solid #606060;background:#ececec;"></div>
<div class="t" style="left:574.4px;top:1330.2px;font-size:16.0px;transform:scaleX(0.77);color:#2e2e2e;font-weight:normal;-webkit-text-stroke:0.15px #2e2e2e;">Ezekiel 20-21</div>
<div class="t" style="left:536.6px;top:1352.5px;font-size:16.0px;transform:scaleX(0.77);color:#2e2e2e;font-weight:normal;">3.</div>
<div class="c" style="left:560.0px;top:1353.0px;width:11.2px;height:13.5px;border:2.4px solid #606060;background:#ececec;"></div>
<div class="t" style="left:574.4px;top:1352.5px;font-size:16.0px;transform:scaleX(0.77);color:#2e2e2e;font-weight:normal;-webkit-text-stroke:0.15px #2e2e2e;">Ezekiel 22-23</div>
<div class="t" style="left:536.6px;top:1374.8px;font-size:16.0px;transform:scaleX(0.77);color:#2e2e2e;font-weight:normal;">4.</div>
<div class="c" style="left:560.0px;top:1375.3px;width:11.2px;height:13.5px;border:2.4px solid #606060;background:#ececec;"></div>
<div class="t" style="left:574.4px;top:1374.8px;font-size:16.0px;transform:scaleX(0.77);color:#2e2e2e;font-weight:normal;-webkit-text-stroke:0.15px #2e2e2e;">Ezekiel 24-27</div>
<div class="t" style="left:536.6px;top:1397.0px;font-size:16.0px;transform:scaleX(0.77);color:#2e2e2e;font-weight:normal;">5.</div>
<div class="c" style="left:560.0px;top:1397.6px;width:11.2px;height:13.5px;border:2.4px solid #606060;background:#ececec;"></div>
<div class="t" style="left:574.4px;top:1397.0px;font-size:16.0px;transform:scaleX(0.77);color:#2e2e2e;font-weight:normal;-webkit-text-stroke:0.15px #2e2e2e;">Ezekiel 28-31</div>
<div class="t" style="left:536.6px;top:1419.3px;font-size:16.0px;transform:scaleX(0.77);color:#2e2e2e;font-weight:normal;">6.</div>
<div class="c" style="left:560.0px;top:1419.8px;width:11.2px;height:13.5px;border:2.4px solid #606060;background:#ececec;"></div>
<div class="t" style="left:574.4px;top:1419.3px;font-size:16.0px;transform:scaleX(0.77);color:#2e2e2e;font-weight:normal;-webkit-text-stroke:0.15px #2e2e2e;">Ezekiel 32-34</div>
<div class="t" style="left:536.6px;top:1441.6px;font-size:16.0px;transform:scaleX(0.77);color:#2e2e2e;font-weight:normal;">7.</div>
<div class="c" style="left:560.0px;top:1442.1px;width:11.2px;height:13.5px;border:2.4px solid #606060;background:#ececec;"></div>
<div class="t" style="left:574.4px;top:1441.6px;font-size:16.0px;transform:scaleX(0.77);color:#2e2e2e;font-weight:normal;-webkit-text-stroke:0.15px #2e2e2e;">Ezekiel 35-37</div>
<div class="t" style="left:536.6px;top:1463.8px;font-size:16.0px;transform:scaleX(0.77);color:#2e2e2e;font-weight:normal;">8.</div>
<div class="c" style="left:560.0px;top:1464.4px;width:11.2px;height:13.5px;border:2.4px solid #606060;background:#ececec;"></div>
<div class="t" style="left:574.4px;top:1463.8px;font-size:16.0px;transform:scaleX(0.77);color:#2e2e2e;font-weight:normal;-webkit-text-stroke:0.15px #2e2e2e;">Ezekiel 38-39</div>
<div class="t" style="left:536.6px;top:1486.1px;font-size:16.0px;transform:scaleX(0.77);color:#2e2e2e;font-weight:normal;">9.</div>
<div class="c" style="left:560.0px;top:1486.7px;width:11.2px;height:13.5px;border:2.4px solid #606060;background:#ececec;"></div>
<div class="t" style="left:574.4px;top:1486.1px;font-size:16.0px;transform:scaleX(0.77);color:#2e2e2e;font-weight:normal;-webkit-text-stroke:0.15px #2e2e2e;">Ezekiel 40-41</div>
<div class="t" style="left:536.6px;top:1508.4px;font-size:16.0px;transform:scaleX(0.77);color:#2e2e2e;font-weight:normal;">10.</div>
<div class="c" style="left:560.0px;top:1508.9px;width:11.2px;height:13.5px;border:2.4px solid #606060;background:#ececec;"></div>
<div class="t" style="left:574.4px;top:1508.4px;font-size:16.0px;transform:scaleX(0.77);color:#2e2e2e;font-weight:normal;-webkit-text-stroke:0.15px #2e2e2e;">Ezekiel 42-43</div>
<div class="t" style="left:536.6px;top:1533.0px;font-size:16.0px;transform:scaleX(0.77);color:#2e2e2e;font-weight:normal;">11.</div>
<div class="c" style="left:560.0px;top:1533.5px;width:11.2px;height:13.5px;border:2.4px solid #606060;background:#ececec;"></div>
<div class="t" style="left:574.4px;top:1533.0px;font-size:16.0px;transform:scaleX(0.77);color:#2e2e2e;font-weight:normal;-webkit-text-stroke:0.15px #2e2e2e;">Ezekiel 44-45</div>
<div class="t" style="left:536.6px;top:1555.2px;font-size:16.0px;transform:scaleX(0.77);color:#2e2e2e;font-weight:normal;">12.</div>
<div class="c" style="left:560.0px;top:1555.8px;width:11.2px;height:13.5px;border:2.4px solid #606060;background:#ececec;"></div>
<div class="t" style="left:574.4px;top:1555.2px;font-size:16.0px;transform:scaleX(0.77);color:#2e2e2e;font-weight:normal;-webkit-text-stroke:0.15px #2e2e2e;">Ezekiel 46-48</div>
<div class="t" style="left:536.6px;top:1577.5px;font-size:16.0px;transform:scaleX(0.77);color:#2e2e2e;font-weight:normal;">13.</div>
<div class="c" style="left:560.0px;top:1578.0px;width:11.2px;height:13.5px;border:2.4px solid #606060;background:#ececec;"></div>
<div class="t" style="left:574.4px;top:1577.5px;font-size:16.0px;transform:scaleX(0.77);color:#2e2e2e;font-weight:normal;-webkit-text-stroke:0.15px #2e2e2e;">Joel 1-3</div>
<div class="t" style="left:536.6px;top:1599.8px;font-size:16.0px;transform:scaleX(0.77);color:#2e2e2e;font-weight:normal;">14.</div>
<div class="c" style="left:560.0px;top:1600.3px;width:11.2px;height:13.5px;border:2.4px solid #606060;background:#ececec;"></div>
<div class="t" style="left:574.4px;top:1599.8px;font-size:16.0px;transform:scaleX(0.77);color:#2e2e2e;font-weight:normal;-webkit-text-stroke:0.15px #2e2e2e;">Daniel 1-3</div>
<div class="t" style="left:536.6px;top:1622.0px;font-size:16.0px;transform:scaleX(0.77);color:#2e2e2e;font-weight:normal;">15.</div>
<div class="c" style="left:560.0px;top:1622.6px;width:11.2px;height:13.5px;border:2.4px solid #606060;background:#ececec;"></div>
<div class="t" style="left:574.4px;top:1622.0px;font-size:16.0px;transform:scaleX(0.77);color:#2e2e2e;font-weight:normal;-webkit-text-stroke:0.15px #2e2e2e;">Daniel 4-6</div>
<div class="t" style="left:536.6px;top:1644.3px;font-size:16.0px;transform:scaleX(0.77);color:#2e2e2e;font-weight:normal;">16.</div>
<div class="c" style="left:560.0px;top:1644.8px;width:11.2px;height:13.5px;border:2.4px solid #606060;background:#ececec;"></div>
<div class="t" style="left:574.4px;top:1644.3px;font-size:16.0px;transform:scaleX(0.77);color:#2e2e2e;font-weight:normal;-webkit-text-stroke:0.15px #2e2e2e;">Daniel 7-9</div>
<div class="t" style="left:536.6px;top:1666.6px;font-size:16.0px;transform:scaleX(0.77);color:#2e2e2e;font-weight:normal;">17.</div>
<div class="c" style="left:560.0px;top:1667.1px;width:11.2px;height:13.5px;border:2.4px solid #606060;background:#ececec;"></div>
<div class="t" style="left:574.4px;top:1666.6px;font-size:16.0px;transform:scaleX(0.77);color:#2e2e2e;font-weight:normal;-webkit-text-stroke:0.15px #2e2e2e;">Daniel 10-12</div>
<div class="t" style="left:536.6px;top:1688.8px;font-size:16.0px;transform:scaleX(0.77);color:#2e2e2e;font-weight:normal;">18.</div>
<div class="c" style="left:560.0px;top:1689.4px;width:11.2px;height:13.5px;border:2.4px solid #606060;background:#ececec;"></div>
<div class="t" style="left:574.4px;top:1688.8px;font-size:16.0px;transform:scaleX(0.77);color:#2e2e2e;font-weight:normal;-webkit-text-stroke:0.15px #2e2e2e;">Ezra 1-3</div>
<div class="t" style="left:536.6px;top:1711.1px;font-size:16.0px;transform:scaleX(0.77);color:#2e2e2e;font-weight:normal;">19.</div>
<div class="c" style="left:560.0px;top:1711.7px;width:11.2px;height:13.5px;border:2.4px solid #606060;background:#ececec;"></div>
<div class="t" style="left:574.4px;top:1711.1px;font-size:16.0px;transform:scaleX(0.77);color:#2e2e2e;font-weight:normal;-webkit-text-stroke:0.15px #2e2e2e;">Ezra 4-6, Ps 137</div>
<div class="t" style="left:536.6px;top:1733.4px;font-size:16.0px;transform:scaleX(0.77);color:#2e2e2e;font-weight:normal;">20.</div>
<div class="c" style="left:560.0px;top:1733.9px;width:11.2px;height:13.5px;border:2.4px solid #606060;background:#ececec;"></div>
<div class="t" style="left:574.4px;top:1733.4px;font-size:16.0px;transform:scaleX(0.77);color:#2e2e2e;font-weight:normal;-webkit-text-stroke:0.15px #2e2e2e;">Haggai 1-2</div>
<div class="t" style="left:536.6px;top:1758.0px;font-size:16.0px;transform:scaleX(0.77);color:#2e2e2e;font-weight:normal;">21.</div>
<div class="c" style="left:560.0px;top:1758.5px;width:11.2px;height:13.5px;border:2.4px solid #606060;background:#ececec;"></div>
<div class="t" style="left:574.4px;top:1758.0px;font-size:16.0px;transform:scaleX(0.77);color:#2e2e2e;font-weight:normal;-webkit-text-stroke:0.15px #2e2e2e;">Zechariah 1-7</div>
<div class="t" style="left:536.6px;top:1780.2px;font-size:16.0px;transform:scaleX(0.77);color:#2e2e2e;font-weight:normal;">22.</div>
<div class="c" style="left:560.0px;top:1780.8px;width:11.2px;height:13.5px;border:2.4px solid #606060;background:#ececec;"></div>
<div class="t" style="left:574.4px;top:1780.2px;font-size:16.0px;transform:scaleX(0.77);color:#2e2e2e;font-weight:normal;-webkit-text-stroke:0.15px #2e2e2e;">Zechariah 8-14</div>
<div class="t" style="left:536.6px;top:1802.5px;font-size:16.0px;transform:scaleX(0.77);color:#2e2e2e;font-weight:normal;">23.</div>
<div class="c" style="left:560.0px;top:1803.0px;width:11.2px;height:13.5px;border:2.4px solid #606060;background:#ececec;"></div>
<div class="t" style="left:574.4px;top:1802.5px;font-size:16.0px;transform:scaleX(0.77);color:#2e2e2e;font-weight:normal;-webkit-text-stroke:0.15px #2e2e2e;">Esther 1-5</div>
<div class="t" style="left:536.6px;top:1824.8px;font-size:16.0px;transform:scaleX(0.77);color:#2e2e2e;font-weight:normal;">24.</div>
<div class="c" style="left:560.0px;top:1825.3px;width:11.2px;height:13.5px;border:2.4px solid #606060;background:#ececec;"></div>
<div class="t" style="left:574.4px;top:1824.8px;font-size:16.0px;transform:scaleX(0.77);color:#2e2e2e;font-weight:normal;-webkit-text-stroke:0.15px #2e2e2e;">Esther 6-10</div>
<div class="t" style="left:536.6px;top:1847.0px;font-size:16.0px;transform:scaleX(0.77);color:#2e2e2e;font-weight:normal;">25.</div>
<div class="c" style="left:560.0px;top:1847.6px;width:11.2px;height:13.5px;border:2.4px solid #606060;background:#ececec;"></div>
<div class="t" style="left:574.4px;top:1847.0px;font-size:16.0px;transform:scaleX(0.77);color:#2e2e2e;font-weight:normal;-webkit-text-stroke:0.15px #2e2e2e;">Ezra 7-10</div>
<div class="t" style="left:536.6px;top:1869.3px;font-size:16.0px;transform:scaleX(0.77);color:#2e2e2e;font-weight:normal;">26.</div>
<div class="c" style="left:560.0px;top:1869.8px;width:11.2px;height:13.5px;border:2.4px solid #606060;background:#ececec;"></div>
<div class="t" style="left:574.4px;top:1869.3px;font-size:16.0px;transform:scaleX(0.77);color:#2e2e2e;font-weight:normal;-webkit-text-stroke:0.15px #2e2e2e;">Nehemiah 1-5</div>
<div class="t" style="left:536.6px;top:1891.6px;font-size:16.0px;transform:scaleX(0.77);color:#2e2e2e;font-weight:normal;">27.</div>
<div class="c" style="left:560.0px;top:1892.1px;width:11.2px;height:13.5px;border:2.4px solid #606060;background:#ececec;"></div>
<div class="t" style="left:574.4px;top:1891.6px;font-size:16.0px;transform:scaleX(0.77);color:#2e2e2e;font-weight:normal;-webkit-text-stroke:0.15px #2e2e2e;">Nehemiah 6-7</div>
<div class="t" style="left:536.6px;top:1913.8px;font-size:16.0px;transform:scaleX(0.77);color:#2e2e2e;font-weight:normal;">28.</div>
<div class="c" style="left:560.0px;top:1914.4px;width:11.2px;height:13.5px;border:2.4px solid #606060;background:#ececec;"></div>
<div class="t" style="left:574.4px;top:1913.8px;font-size:16.0px;transform:scaleX(0.77);color:#2e2e2e;font-weight:normal;-webkit-text-stroke:0.15px #2e2e2e;">Nehemiah 8-10</div>
<div class="t" style="left:536.6px;top:1936.1px;font-size:16.0px;transform:scaleX(0.77);color:#2e2e2e;font-weight:normal;">29.</div>
<div class="c" style="left:560.0px;top:1936.7px;width:11.2px;height:13.5px;border:2.4px solid #606060;background:#ececec;"></div>
<div class="t" style="left:574.4px;top:1936.1px;font-size:16.0px;transform:scaleX(0.77);color:#2e2e2e;font-weight:normal;-webkit-text-stroke:0.15px #2e2e2e;">Nehemiah 11-13, Ps 126</div>
<div class="t" style="left:536.6px;top:1958.4px;font-size:16.0px;transform:scaleX(0.77);color:#2e2e2e;font-weight:normal;">30.</div>
<div class="c" style="left:560.0px;top:1958.9px;width:11.2px;height:13.5px;border:2.4px solid #606060;background:#ececec;"></div>
<div class="t" style="left:574.4px;top:1958.4px;font-size:16.0px;transform:scaleX(0.77);color:#2e2e2e;font-weight:normal;-webkit-text-stroke:0.15px #2e2e2e;">Malachi 1-4</div>
<div class="t" style="left:756.0px;top:1259.6px;font-size:18.0px;transform:scaleX(0.672);color:#c43546;font-weight:bold;">October</div>
<div class="t" style="left:755.8px;top:1308.0px;font-size:16.0px;transform:scaleX(0.77);color:#c9424a;font-weight:normal;">1.</div>
<div class="c" style="left:777.1px;top:1308.5px;width:10.6px;height:13.5px;border:2.4px solid #c4606a;background:#fde0e3;"></div>
<div class="t" style="left:792.8px;top:1308.0px;font-size:16.0px;transform:scaleX(0.77);color:#2e2e2e;font-weight:normal;-webkit-text-stroke:0.15px #2e2e2e;">Luke 1, John 1:1-14</div>
<div class="t" style="left:755.8px;top:1330.2px;font-size:16.0px;transform:scaleX(0.77);color:#c9424a;font-weight:normal;">2.</div>
<div class="c" style="left:777.1px;top:1330.8px;width:10.6px;height:13.5px;border:2.4px solid #c4606a;background:#fde0e3;"></div>
<div class="t" style="left:792.8px;top:1330.2px;font-size:16.0px;transform:scaleX(0.77);color:#2e2e2e;font-weight:normal;-webkit-text-stroke:0.15px #2e2e2e;">Matt 1, Luke 2:1-38</div>
<div class="t" style="left:755.8px;top:1352.5px;font-size:16.0px;transform:scaleX(0.77);color:#c9424a;font-weight:normal;">3.</div>
<div class="c" style="left:777.1px;top:1353.0px;width:10.6px;height:13.5px;border:2.4px solid #c4606a;background:#fde0e3;"></div>
<div class="t" style="left:792.8px;top:1352.5px;font-size:16.0px;transform:scaleX(0.77);color:#2e2e2e;font-weight:normal;-webkit-text-stroke:0.15px #2e2e2e;">Matt 2, Luke 2:39-52</div>
<div class="t" style="left:755.8px;top:1374.8px;font-size:16.0px;transform:scaleX(0.77);color:#c9424a;font-weight:normal;">4.</div>
<div class="c" style="left:777.1px;top:1375.3px;width:10.6px;height:13.5px;border:2.4px solid #c4606a;background:#fde0e3;"></div>
<div class="t" style="left:792.8px;top:1374.8px;font-size:16.0px;transform:scaleX(0.77);color:#2e2e2e;font-weight:normal;-webkit-text-stroke:0.15px #2e2e2e;">Matt 3, Mark 1, Luke 3</div>
<div class="t" style="left:755.8px;top:1397.0px;font-size:16.0px;transform:scaleX(0.77);color:#c9424a;font-weight:normal;">5.</div>
<div class="c" style="left:777.1px;top:1397.6px;width:10.6px;height:13.5px;border:2.4px solid #c4606a;background:#fde0e3;"></div>
<div class="t" style="left:792.8px;top:1397.0px;font-size:16.0px;transform:scaleX(0.77);color:#2e2e2e;font-weight:normal;-webkit-text-stroke:0.15px #2e2e2e;">Matt 4, Luke 4-5, John 1:15-51</div>
<div class="t" style="left:755.8px;top:1419.3px;font-size:16.0px;transform:scaleX(0.77);color:#c9424a;font-weight:normal;">6.</div>
<div class="c" style="left:777.1px;top:1419.8px;width:10.6px;height:13.5px;border:2.4px solid #c4606a;background:#fde0e3;"></div>
<div class="t" style="left:792.8px;top:1419.3px;font-size:16.0px;transform:scaleX(0.77);color:#2e2e2e;font-weight:normal;-webkit-text-stroke:0.15px #2e2e2e;">John 2-4</div>
<div class="t" style="left:755.8px;top:1441.6px;font-size:16.0px;transform:scaleX(0.77);color:#c9424a;font-weight:normal;">7.</div>
<div class="c" style="left:777.1px;top:1442.1px;width:10.6px;height:13.5px;border:2.4px solid #c4606a;background:#fde0e3;"></div>
<div class="t" style="left:792.8px;top:1441.6px;font-size:16.0px;transform:scaleX(0.77);color:#2e2e2e;font-weight:normal;-webkit-text-stroke:0.15px #2e2e2e;">Mark 2</div>
<div class="t" style="left:755.8px;top:1463.8px;font-size:16.0px;transform:scaleX(0.77);color:#c9424a;font-weight:normal;">8.</div>
<div class="c" style="left:777.1px;top:1464.4px;width:10.6px;height:13.5px;border:2.4px solid #c4606a;background:#fde0e3;"></div>
<div class="t" style="left:792.8px;top:1463.8px;font-size:16.0px;transform:scaleX(0.77);color:#2e2e2e;font-weight:normal;-webkit-text-stroke:0.15px #2e2e2e;">John 5</div>
<div class="t" style="left:755.8px;top:1486.1px;font-size:16.0px;transform:scaleX(0.77);color:#c9424a;font-weight:normal;">9.</div>
<div class="c" style="left:777.1px;top:1486.7px;width:10.6px;height:13.5px;border:2.4px solid #c4606a;background:#fde0e3;"></div>
<div class="t" style="left:792.8px;top:1486.1px;font-size:16.0px;transform:scaleX(0.77);color:#2e2e2e;font-weight:normal;-webkit-text-stroke:0.15px #2e2e2e;">Matt 12:1-21 Mark 3, Luke 6</div>
<div class="t" style="left:755.8px;top:1508.4px;font-size:16.0px;transform:scaleX(0.77);color:#c9424a;font-weight:normal;">10.</div>
<div class="c" style="left:777.1px;top:1508.9px;width:10.6px;height:13.5px;border:2.4px solid #c4606a;background:#fde0e3;"></div>
<div class="t" style="left:792.8px;top:1508.4px;font-size:16.0px;transform:scaleX(0.77);color:#2e2e2e;font-weight:normal;-webkit-text-stroke:0.15px #2e2e2e;">Matthew 5-7</div>
<div class="t" style="left:755.8px;top:1533.0px;font-size:16.0px;transform:scaleX(0.77);color:#c9424a;font-weight:normal;">11.</div>
<div class="c" style="left:777.1px;top:1533.5px;width:10.6px;height:13.5px;border:2.4px solid #c4606a;background:#fde0e3;"></div>
<div class="t" style="left:792.8px;top:1533.0px;font-size:16.0px;transform:scaleX(0.77);color:#2e2e2e;font-weight:normal;-webkit-text-stroke:0.15px #2e2e2e;">Matt 8:1-13, Luke 7</div>
<div class="t" style="left:755.8px;top:1555.2px;font-size:16.0px;transform:scaleX(0.77);color:#c9424a;font-weight:normal;">12.</div>
<div class="c" style="left:777.1px;top:1555.8px;width:10.6px;height:13.5px;border:2.4px solid #c4606a;background:#fde0e3;"></div>
<div class="t" style="left:792.8px;top:1555.2px;font-size:16.0px;transform:scaleX(0.77);color:#2e2e2e;font-weight:normal;-webkit-text-stroke:0.15px #2e2e2e;">Matthew 11</div>
<div class="t" style="left:755.8px;top:1577.5px;font-size:16.0px;transform:scaleX(0.77);color:#c9424a;font-weight:normal;">13.</div>
<div class="c" style="left:777.1px;top:1578.0px;width:10.6px;height:13.5px;border:2.4px solid #c4606a;background:#fde0e3;"></div>
<div class="t" style="left:792.8px;top:1577.5px;font-size:16.0px;transform:scaleX(0.77);color:#2e2e2e;font-weight:normal;-webkit-text-stroke:0.15px #2e2e2e;">Matt 12:22-50, Luke 11</div>
<div class="t" style="left:755.8px;top:1599.8px;font-size:16.0px;transform:scaleX(0.77);color:#c9424a;font-weight:normal;">14.</div>
<div class="c" style="left:777.1px;top:1600.3px;width:10.6px;height:13.5px;border:2.4px solid #c4606a;background:#fde0e3;"></div>
<div class="t" style="left:792.8px;top:1599.8px;font-size:16.0px;transform:scaleX(0.77);color:#2e2e2e;font-weight:normal;-webkit-text-stroke:0.15px #2e2e2e;">Matt 13, Luke 8</div>
<div class="t" style="left:755.8px;top:1622.0px;font-size:16.0px;transform:scaleX(0.77);color:#c9424a;font-weight:normal;">15.</div>
<div class="c" style="left:777.1px;top:1622.6px;width:10.6px;height:13.5px;border:2.4px solid #c4606a;background:#fde0e3;"></div>
<div class="t" style="left:792.8px;top:1622.0px;font-size:16.0px;transform:scaleX(0.77);color:#2e2e2e;font-weight:normal;-webkit-text-stroke:0.15px #2e2e2e;">Matt 8:14-34, Mark 4-5</div>
<div class="t" style="left:755.8px;top:1644.3px;font-size:16.0px;transform:scaleX(0.77);color:#c9424a;font-weight:normal;">16.</div>
<div class="c" style="left:777.1px;top:1644.8px;width:10.6px;height:13.5px;border:2.4px solid #c4606a;background:#fde0e3;"></div>
<div class="t" style="left:792.8px;top:1644.3px;font-size:16.0px;transform:scaleX(0.77);color:#2e2e2e;font-weight:normal;-webkit-text-stroke:0.15px #2e2e2e;">Matthew 9-10</div>
<div class="t" style="left:755.8px;top:1666.6px;font-size:16.0px;transform:scaleX(0.77);color:#c9424a;font-weight:normal;">17.</div>
<div class="c" style="left:777.1px;top:1667.1px;width:10.6px;height:13.5px;border:2.4px solid #c4606a;background:#fde0e3;"></div>
<div class="t" style="left:792.8px;top:1666.6px;font-size:16.0px;transform:scaleX(0.77);color:#2e2e2e;font-weight:normal;-webkit-text-stroke:0.15px #2e2e2e;">Matt 14, Mark 6, Luke 9:1-17</div>
<div class="t" style="left:755.8px;top:1688.8px;font-size:16.0px;transform:scaleX(0.77);color:#c9424a;font-weight:normal;">18.</div>
<div class="c" style="left:777.1px;top:1689.4px;width:10.6px;height:13.5px;border:2.4px solid #c4606a;background:#fde0e3;"></div>
<div class="t" style="left:792.8px;top:1688.8px;font-size:16.0px;transform:scaleX(0.77);color:#2e2e2e;font-weight:normal;-webkit-text-stroke:0.15px #2e2e2e;">John 6</div>
<div class="t" style="left:755.8px;top:1711.1px;font-size:16.0px;transform:scaleX(0.77);color:#c9424a;font-weight:normal;">19.</div>
<div class="c" style="left:777.1px;top:1711.7px;width:10.6px;height:13.5px;border:2.4px solid #c4606a;background:#fde0e3;"></div>
<div class="t" style="left:792.8px;top:1711.1px;font-size:16.0px;transform:scaleX(0.77);color:#2e2e2e;font-weight:normal;-webkit-text-stroke:0.15px #2e2e2e;">Matt 15, Mark 7</div>
<div class="t" style="left:755.8px;top:1733.4px;font-size:16.0px;transform:scaleX(0.77);color:#c9424a;font-weight:normal;">20.</div>
<div class="c" style="left:777.1px;top:1733.9px;width:10.6px;height:13.5px;border:2.4px solid #c4606a;background:#fde0e3;"></div>
<div class="t" style="left:792.8px;top:1733.4px;font-size:16.0px;transform:scaleX(0.77);color:#2e2e2e;font-weight:normal;-webkit-text-stroke:0.15px #2e2e2e;">Matt 16, Mark 8, Luke 9:18-27</div>
<div class="t" style="left:755.8px;top:1758.0px;font-size:16.0px;transform:scaleX(0.77);color:#c9424a;font-weight:normal;">21.</div>
<div class="c" style="left:777.1px;top:1758.5px;width:10.6px;height:13.5px;border:2.4px solid #c4606a;background:#fde0e3;"></div>
<div class="t" style="left:792.8px;top:1758.0px;font-size:16.0px;transform:scaleX(0.77);color:#2e2e2e;font-weight:normal;-webkit-text-stroke:0.15px #2e2e2e;">Matt 17, Mark 9, Luke 9:28-62</div>
<div class="t" style="left:755.8px;top:1780.2px;font-size:16.0px;transform:scaleX(0.77);color:#c9424a;font-weight:normal;">22.</div>
<div class="c" style="left:777.1px;top:1780.8px;width:10.6px;height:13.5px;border:2.4px solid #c4606a;background:#fde0e3;"></div>
<div class="t" style="left:792.8px;top:1780.2px;font-size:16.0px;transform:scaleX(0.77);color:#2e2e2e;font-weight:normal;-webkit-text-stroke:0.15px #2e2e2e;">Matthew 18</div>
<div class="t" style="left:755.8px;top:1802.5px;font-size:16.0px;transform:scaleX(0.77);color:#c9424a;font-weight:normal;">23.</div>
<div class="c" style="left:777.1px;top:1803.0px;width:10.6px;height:13.5px;border:2.4px solid #c4606a;background:#fde0e3;"></div>
<div class="t" style="left:792.8px;top:1802.5px;font-size:16.0px;transform:scaleX(0.77);color:#2e2e2e;font-weight:normal;-webkit-text-stroke:0.15px #2e2e2e;">John 7-8</div>
<div class="t" style="left:755.8px;top:1824.8px;font-size:16.0px;transform:scaleX(0.77);color:#c9424a;font-weight:normal;">24.</div>
<div class="c" style="left:777.1px;top:1825.3px;width:10.6px;height:13.5px;border:2.4px solid #c4606a;background:#fde0e3;"></div>
<div class="t" style="left:792.8px;top:1824.8px;font-size:16.0px;transform:scaleX(0.77);color:#2e2e2e;font-weight:normal;-webkit-text-stroke:0.15px #2e2e2e;">John 9:1-10:21</div>
<div class="t" style="left:755.8px;top:1847.0px;font-size:16.0px;transform:scaleX(0.77);color:#c9424a;font-weight:normal;">25.</div>
<div class="c" style="left:777.1px;top:1847.6px;width:10.6px;height:13.5px;border:2.4px solid #c4606a;background:#fde0e3;"></div>
<div class="t" style="left:792.8px;top:1847.0px;font-size:16.0px;transform:scaleX(0.77);color:#2e2e2e;font-weight:normal;-webkit-text-stroke:0.15px #2e2e2e;">Luke 10-11, John 10:22-42</div>
<div class="t" style="left:755.8px;top:1869.3px;font-size:16.0px;transform:scaleX(0.77);color:#c9424a;font-weight:normal;">26.</div>
<div class="c" style="left:777.1px;top:1869.8px;width:10.6px;height:13.5px;border:2.4px solid #c4606a;background:#fde0e3;"></div>
<div class="t" style="left:792.8px;top:1869.3px;font-size:16.0px;transform:scaleX(0.77);color:#2e2e2e;font-weight:normal;-webkit-text-stroke:0.15px #2e2e2e;">Luke 12-13</div>
<div class="t" style="left:755.8px;top:1891.6px;font-size:16.0px;transform:scaleX(0.77);color:#c9424a;font-weight:normal;">27.</div>
<div class="c" style="left:777.1px;top:1892.1px;width:10.6px;height:13.5px;border:2.4px solid #c4606a;background:#fde0e3;"></div>
<div class="t" style="left:792.8px;top:1891.6px;font-size:16.0px;transform:scaleX(0.77);color:#2e2e2e;font-weight:normal;-webkit-text-stroke:0.15px #2e2e2e;">Luke 14-15</div>
<div class="t" style="left:755.8px;top:1913.8px;font-size:16.0px;transform:scaleX(0.77);color:#c9424a;font-weight:normal;">28.</div>
<div class="c" style="left:777.1px;top:1914.4px;width:10.6px;height:13.5px;border:2.4px solid #c4606a;background:#fde0e3;"></div>
<div class="t" style="left:792.8px;top:1913.8px;font-size:16.0px;transform:scaleX(0.77);color:#2e2e2e;font-weight:normal;-webkit-text-stroke:0.15px #2e2e2e;">Luke 16-17:10</div>
<div class="t" style="left:755.8px;top:1936.1px;font-size:16.0px;transform:scaleX(0.77);color:#c9424a;font-weight:normal;">29.</div>
<div class="c" style="left:777.1px;top:1936.7px;width:10.6px;height:13.5px;border:2.4px solid #c4606a;background:#fde0e3;"></div>
<div class="t" style="left:792.8px;top:1936.1px;font-size:16.0px;transform:scaleX(0.77);color:#2e2e2e;font-weight:normal;-webkit-text-stroke:0.15px #2e2e2e;">John 11</div>
<div class="t" style="left:755.8px;top:1958.4px;font-size:16.0px;transform:scaleX(0.77);color:#c9424a;font-weight:normal;">30.</div>
<div class="c" style="left:777.1px;top:1958.9px;width:10.6px;height:13.5px;border:2.4px solid #c4606a;background:#fde0e3;"></div>
<div class="t" style="left:792.8px;top:1958.4px;font-size:16.0px;transform:scaleX(0.77);color:#2e2e2e;font-weight:normal;-webkit-text-stroke:0.15px #2e2e2e;">Luke 17:11-18:14</div>
<div class="t" style="left:755.8px;top:1983.0px;font-size:16.0px;transform:scaleX(0.77);color:#c9424a;font-weight:normal;">31.</div>
<div class="c" style="left:777.1px;top:1983.5px;width:10.6px;height:13.5px;border:2.4px solid #c4606a;background:#fde0e3;"></div>
<div class="t" style="left:792.8px;top:1983.0px;font-size:16.0px;transform:scaleX(0.77);color:#2e2e2e;font-weight:normal;-webkit-text-stroke:0.15px #2e2e2e;">Matthew 19, Mark 10</div>
<div class="t" style="left:995.2px;top:1259.6px;font-size:18.0px;transform:scaleX(0.672);color:#30c2d0;font-weight:bold;">November</div>
<div class="t" style="left:995.0px;top:1308.0px;font-size:16.0px;transform:scaleX(0.77);color:#45c6d6;font-weight:normal;">1.</div>
<div class="c" style="left:1016.8px;top:1308.5px;width:10.4px;height:13.5px;border:2.4px solid #4cc4d0;background:#dcf6f8;"></div>
<div class="t" style="left:1032.0px;top:1308.0px;font-size:16.0px;transform:scaleX(0.77);color:#2e2e2e;font-weight:normal;-webkit-text-stroke:0.15px #2e2e2e;">Matthew 20-21</div>
<div class="t" style="left:995.0px;top:1330.2px;font-size:16.0px;transform:scaleX(0.77);color:#45c6d6;font-weight:normal;">2.</div>
<div class="c" style="left:1016.8px;top:1330.8px;width:10.4px;height:13.5px;border:2.4px solid #4cc4d0;background:#dcf6f8;"></div>
<div class="t" style="left:1032.0px;top:1330.2px;font-size:16.0px;transform:scaleX(0.77);color:#2e2e2e;font-weight:normal;-webkit-text-stroke:0.15px #2e2e2e;">Luke 18:15-19:48</div>
<div class="t" style="left:995.0px;top:1352.5px;font-size:16.0px;transform:scaleX(0.77);color:#45c6d6;font-weight:normal;">3.</div>
<div class="c" style="left:1016.8px;top:1353.0px;width:10.4px;height:13.5px;border:2.4px solid #4cc4d0;background:#dcf6f8;"></div>
<div class="t" style="left:1032.0px;top:1352.5px;font-size:16.0px;transform:scaleX(0.77);color:#2e2e2e;font-weight:normal;-webkit-text-stroke:0.15px #2e2e2e;">Mark 11, John 12</div>
<div class="t" style="left:995.0px;top:1374.8px;font-size:16.0px;transform:scaleX(0.77);color:#45c6d6;font-weight:normal;">4.</div>
<div class="c" style="left:1016.8px;top:1375.3px;width:10.4px;height:13.5px;border:2.4px solid #4cc4d0;background:#dcf6f8;"></div>
<div class="t" style="left:1032.0px;top:1374.8px;font-size:16.0px;transform:scaleX(0.77);color:#2e2e2e;font-weight:normal;-webkit-text-stroke:0.15px #2e2e2e;">Matthew 22, Mark 12</div>
<div class="t" style="left:995.0px;top:1397.0px;font-size:16.0px;transform:scaleX(0.77);color:#45c6d6;font-weight:normal;">5.</div>
<div class="c" style="left:1016.8px;top:1397.6px;width:10.4px;height:13.5px;border:2.4px solid #4cc4d0;background:#dcf6f8;"></div>
<div class="t" style="left:1032.0px;top:1397.0px;font-size:16.0px;transform:scaleX(0.77);color:#2e2e2e;font-weight:normal;-webkit-text-stroke:0.15px #2e2e2e;">Matthew 23, Luke 20-21</div>
<div class="t" style="left:995.0px;top:1419.3px;font-size:16.0px;transform:scaleX(0.77);color:#45c6d6;font-weight:normal;">6.</div>
<div class="c" style="left:1016.8px;top:1419.8px;width:10.4px;height:13.5px;border:2.4px solid #4cc4d0;background:#dcf6f8;"></div>
<div class="t" style="left:1032.0px;top:1419.3px;font-size:16.0px;transform:scaleX(0.77);color:#2e2e2e;font-weight:normal;-webkit-text-stroke:0.15px #2e2e2e;">Mark 13</div>
<div class="t" style="left:995.0px;top:1441.6px;font-size:16.0px;transform:scaleX(0.77);color:#45c6d6;font-weight:normal;">7.</div>
<div class="c" style="left:1016.8px;top:1442.1px;width:10.4px;height:13.5px;border:2.4px solid #4cc4d0;background:#dcf6f8;"></div>
<div class="t" style="left:1032.0px;top:1441.6px;font-size:16.0px;transform:scaleX(0.77);color:#2e2e2e;font-weight:normal;-webkit-text-stroke:0.15px #2e2e2e;">Matthew 24</div>
<div class="t" style="left:995.0px;top:1463.8px;font-size:16.0px;transform:scaleX(0.77);color:#45c6d6;font-weight:normal;">8.</div>
<div class="c" style="left:1016.8px;top:1464.4px;width:10.4px;height:13.5px;border:2.4px solid #4cc4d0;background:#dcf6f8;"></div>
<div class="t" style="left:1032.0px;top:1463.8px;font-size:16.0px;transform:scaleX(0.77);color:#2e2e2e;font-weight:normal;-webkit-text-stroke:0.15px #2e2e2e;">Matthew 25</div>
<div class="t" style="left:995.0px;top:1486.1px;font-size:16.0px;transform:scaleX(0.77);color:#45c6d6;font-weight:normal;">9.</div>
<div class="c" style="left:1016.8px;top:1486.7px;width:10.4px;height:13.5px;border:2.4px solid #4cc4d0;background:#dcf6f8;"></div>
<div class="t" style="left:1032.0px;top:1486.1px;font-size:16.0px;transform:scaleX(0.77);color:#2e2e2e;font-weight:normal;-webkit-text-stroke:0.15px #2e2e2e;">Matthew 26, Mark 14</div>
<div class="t" style="left:995.0px;top:1508.4px;font-size:16.0px;transform:scaleX(0.77);color:#45c6d6;font-weight:normal;">10.</div>
<div class="c" style="left:1016.8px;top:1508.9px;width:10.4px;height:13.5px;border:2.4px solid #4cc4d0;background:#dcf6f8;"></div>
<div class="t" style="left:1032.0px;top:1508.4px;font-size:16.0px;transform:scaleX(0.77);color:#2e2e2e;font-weight:normal;-webkit-text-stroke:0.15px #2e2e2e;">Luke 22, John 13</div>
<div class="t" style="left:995.0px;top:1533.0px;font-size:16.0px;transform:scaleX(0.77);color:#45c6d6;font-weight:normal;">11.</div>
<div class="c" style="left:1016.8px;top:1533.5px;width:10.4px;height:13.5px;border:2.4px solid #4cc4d0;background:#dcf6f8;"></div>
<div class="t" style="left:1032.0px;top:1533.0px;font-size:16.0px;transform:scaleX(0.77);color:#2e2e2e;font-weight:normal;-webkit-text-stroke:0.15px #2e2e2e;">John 14-17</div>
<div class="t" style="left:995.0px;top:1555.2px;font-size:16.0px;transform:scaleX(0.77);color:#45c6d6;font-weight:normal;">12.</div>
<div class="c" style="left:1016.8px;top:1555.8px;width:10.4px;height:13.5px;border:2.4px solid #4cc4d0;background:#dcf6f8;"></div>
<div class="t" style="left:1032.0px;top:1555.2px;font-size:16.0px;transform:scaleX(0.77);color:#2e2e2e;font-weight:normal;-webkit-text-stroke:0.15px #2e2e2e;">Matthew 27, Mark 15</div>
<div class="t" style="left:995.0px;top:1577.5px;font-size:16.0px;transform:scaleX(0.77);color:#45c6d6;font-weight:normal;">13.</div>
<div class="c" style="left:1016.8px;top:1578.0px;width:10.4px;height:13.5px;border:2.4px solid #4cc4d0;background:#dcf6f8;"></div>
<div class="t" style="left:1032.0px;top:1577.5px;font-size:16.0px;transform:scaleX(0.77);color:#2e2e2e;font-weight:normal;-webkit-text-stroke:0.15px #2e2e2e;">Luke 23, John 18-19</div>
<div class="t" style="left:995.0px;top:1599.8px;font-size:16.0px;transform:scaleX(0.77);color:#45c6d6;font-weight:normal;">14.</div>
<div class="c" style="left:1016.8px;top:1600.3px;width:10.4px;height:13.5px;border:2.4px solid #4cc4d0;background:#dcf6f8;"></div>
<div class="t" style="left:1032.0px;top:1599.8px;font-size:16.0px;transform:scaleX(0.77);color:#2e2e2e;font-weight:normal;-webkit-text-stroke:0.15px #2e2e2e;">Matthew 28, Mark 16</div>
<div class="t" style="left:995.0px;top:1622.0px;font-size:16.0px;transform:scaleX(0.77);color:#45c6d6;font-weight:normal;">15.</div>
<div class="c" style="left:1016.8px;top:1622.6px;width:10.4px;height:13.5px;border:2.4px solid #4cc4d0;background:#dcf6f8;"></div>
<div class="t" style="left:1032.0px;top:1622.0px;font-size:16.0px;transform:scaleX(0.77);color:#2e2e2e;font-weight:normal;-webkit-text-stroke:0.15px #2e2e2e;">Luke 24, John 20-21</div>
<div class="t" style="left:995.0px;top:1644.3px;font-size:16.0px;transform:scaleX(0.77);color:#45c6d6;font-weight:normal;">16.</div>
<div class="c" style="left:1016.8px;top:1644.8px;width:10.4px;height:13.5px;border:2.4px solid #4cc4d0;background:#dcf6f8;"></div>
<div class="t" style="left:1032.0px;top:1644.3px;font-size:16.0px;transform:scaleX(0.77);color:#2e2e2e;font-weight:normal;-webkit-text-stroke:0.15px #2e2e2e;">Acts 1-3</div>
<div class="t" style="left:995.0px;top:1666.6px;font-size:16.0px;transform:scaleX(0.77);color:#45c6d6;font-weight:normal;">17.</div>
<div class="c" style="left:1016.8px;top:1667.1px;width:10.4px;height:13.5px;border:2.4px solid #4cc4d0;background:#dcf6f8;"></div>
<div class="t" style="left:1032.0px;top:1666.6px;font-size:16.0px;transform:scaleX(0.77);color:#2e2e2e;font-weight:normal;-webkit-text-stroke:0.15px #2e2e2e;">Acts 4-6</div>
<div class="t" style="left:995.0px;top:1688.8px;font-size:16.0px;transform:scaleX(0.77);color:#45c6d6;font-weight:normal;">18.</div>
<div class="c" style="left:1016.8px;top:1689.4px;width:10.4px;height:13.5px;border:2.4px solid #4cc4d0;background:#dcf6f8;"></div>
<div class="t" style="left:1032.0px;top:1688.8px;font-size:16.0px;transform:scaleX(0.77);color:#2e2e2e;font-weight:normal;-webkit-text-stroke:0.15px #2e2e2e;">Acts 7-8</div>
<div class="t" style="left:995.0px;top:1711.1px;font-size:16.0px;transform:scaleX(0.77);color:#45c6d6;font-weight:normal;">19.</div>
<div class="c" style="left:1016.8px;top:1711.7px;width:10.4px;height:13.5px;border:2.4px solid #4cc4d0;background:#dcf6f8;"></div>
<div class="t" style="left:1032.0px;top:1711.1px;font-size:16.0px;transform:scaleX(0.77);color:#2e2e2e;font-weight:normal;-webkit-text-stroke:0.15px #2e2e2e;">Acts 9-10</div>
<div class="t" style="left:995.0px;top:1733.4px;font-size:16.0px;transform:scaleX(0.77);color:#45c6d6;font-weight:normal;">20.</div>
<div class="c" style="left:1016.8px;top:1733.9px;width:10.4px;height:13.5px;border:2.4px solid #4cc4d0;background:#dcf6f8;"></div>
<div class="t" style="left:1032.0px;top:1733.4px;font-size:16.0px;transform:scaleX(0.77);color:#2e2e2e;font-weight:normal;-webkit-text-stroke:0.15px #2e2e2e;">Acts 11-12</div>
<div class="t" style="left:995.0px;top:1758.0px;font-size:16.0px;transform:scaleX(0.77);color:#45c6d6;font-weight:normal;">21.</div>
<div class="c" style="left:1016.8px;top:1758.5px;width:10.4px;height:13.5px;border:2.4px solid #4cc4d0;background:#dcf6f8;"></div>
<div class="t" style="left:1032.0px;top:1758.0px;font-size:16.0px;transform:scaleX(0.77);color:#2e2e2e;font-weight:normal;-webkit-text-stroke:0.15px #2e2e2e;">Acts 13-14</div>
<div class="t" style="left:995.0px;top:1780.2px;font-size:16.0px;transform:scaleX(0.77);color:#45c6d6;font-weight:normal;">22.</div>
<div class="c" style="left:1016.8px;top:1780.8px;width:10.4px;height:13.5px;border:2.4px solid #4cc4d0;background:#dcf6f8;"></div>
<div class="t" style="left:1032.0px;top:1780.2px;font-size:16.0px;transform:scaleX(0.77);color:#2e2e2e;font-weight:normal;-webkit-text-stroke:0.15px #2e2e2e;">James 1-5</div>
<div class="t" style="left:995.0px;top:1802.5px;font-size:16.0px;transform:scaleX(0.77);color:#45c6d6;font-weight:normal;">23.</div>
<div class="c" style="left:1016.8px;top:1803.0px;width:10.4px;height:13.5px;border:2.4px solid #4cc4d0;background:#dcf6f8;"></div>
<div class="t" style="left:1032.0px;top:1802.5px;font-size:16.0px;transform:scaleX(0.77);color:#2e2e2e;font-weight:normal;-webkit-text-stroke:0.15px #2e2e2e;">Acts 15-16</div>
<div class="t" style="left:995.0px;top:1824.8px;font-size:16.0px;transform:scaleX(0.77);color:#45c6d6;font-weight:normal;">24.</div>
<div class="c" style="left:1016.8px;top:1825.3px;width:10.4px;height:13.5px;border:2.4px solid #4cc4d0;background:#dcf6f8;"></div>
<div class="t" style="left:1032.0px;top:1824.8px;font-size:16.0px;transform:scaleX(0.77);color:#2e2e2e;font-weight:normal;-webkit-text-stroke:0.15px #2e2e2e;">Galatians 1-3</div>
<div class="t" style="left:995.0px;top:1847.0px;font-size:16.0px;transform:scaleX(0.77);color:#45c6d6;font-weight:normal;">25.</div>
<div class="c" style="left:1016.8px;top:1847.6px;width:10.4px;height:13.5px;border:2.4px solid #4cc4d0;background:#dcf6f8;"></div>
<div class="t" style="left:1032.0px;top:1847.0px;font-size:16.0px;transform:scaleX(0.77);color:#2e2e2e;font-weight:normal;-webkit-text-stroke:0.15px #2e2e2e;">Galatians 4-6</div>
<div class="t" style="left:995.0px;top:1869.3px;font-size:16.0px;transform:scaleX(0.77);color:#45c6d6;font-weight:normal;">26.</div>
<div class="c" style="left:1016.8px;top:1869.8px;width:10.4px;height:13.5px;border:2.4px solid #4cc4d0;background:#dcf6f8;"></div>
<div class="t" style="left:1032.0px;top:1869.3px;font-size:16.0px;transform:scaleX(0.77);color:#2e2e2e;font-weight:normal;-webkit-text-stroke:0.15px #2e2e2e;">Acts 17-18:18</div>
<div class="t" style="left:995.0px;top:1891.6px;font-size:16.0px;transform:scaleX(0.77);color:#45c6d6;font-weight:normal;">27.</div>
<div class="c" style="left:1016.8px;top:1892.1px;width:10.4px;height:13.5px;border:2.4px solid #4cc4d0;background:#dcf6f8;"></div>
<div class="t" style="left:1032.0px;top:1891.6px;font-size:16.0px;transform:scaleX(0.77);color:#2e2e2e;font-weight:normal;-webkit-text-stroke:0.15px #2e2e2e;">1 Thess 1-5, 2 Thess 1-3</div>
<div class="t" style="left:995.0px;top:1913.8px;font-size:16.0px;transform:scaleX(0.77);color:#45c6d6;font-weight:normal;">28.</div>
<div class="c" style="left:1016.8px;top:1914.4px;width:10.4px;height:13.5px;border:2.4px solid #4cc4d0;background:#dcf6f8;"></div>
<div class="t" style="left:1032.0px;top:1913.8px;font-size:16.0px;transform:scaleX(0.77);color:#2e2e2e;font-weight:normal;-webkit-text-stroke:0.15px #2e2e2e;">Acts 18:19-19:41</div>
<div class="t" style="left:995.0px;top:1936.1px;font-size:16.0px;transform:scaleX(0.77);color:#45c6d6;font-weight:normal;">29.</div>
<div class="c" style="left:1016.8px;top:1936.7px;width:10.4px;height:13.5px;border:2.4px solid #4cc4d0;background:#dcf6f8;"></div>
<div class="t" style="left:1032.0px;top:1936.1px;font-size:16.0px;transform:scaleX(0.77);color:#2e2e2e;font-weight:normal;-webkit-text-stroke:0.15px #2e2e2e;">1 Corinthians 1-4</div>
<div class="t" style="left:995.0px;top:1958.4px;font-size:16.0px;transform:scaleX(0.77);color:#45c6d6;font-weight:normal;">30.</div>
<div class="c" style="left:1016.8px;top:1958.9px;width:10.4px;height:13.5px;border:2.4px solid #4cc4d0;background:#dcf6f8;"></div>
<div class="t" style="left:1032.0px;top:1958.4px;font-size:16.0px;transform:scaleX(0.77);color:#2e2e2e;font-weight:normal;-webkit-text-stroke:0.15px #2e2e2e;">1 Corinthians 5-8</div>
<div class="t" style="left:1228.9px;top:1259.6px;font-size:18.0px;transform:scaleX(0.672);color:#1e1e1e;font-weight:bold;">December</div>
<div class="t" style="left:1228.2px;top:1308.0px;font-size:16.0px;transform:scaleX(0.77);color:#2e2e2e;font-weight:normal;">1.</div>
<div class="c" style="left:1250.0px;top:1308.5px;width:10.4px;height:13.5px;border:2.4px solid #606060;background:#ececec;"></div>
<div class="t" style="left:1266.0px;top:1308.0px;font-size:16.0px;transform:scaleX(0.77);color:#2e2e2e;font-weight:normal;-webkit-text-stroke:0.15px #2e2e2e;">1 Corinthians 9-11</div>
<div class="t" style="left:1228.2px;top:1330.2px;font-size:16.0px;transform:scaleX(0.77);color:#2e2e2e;font-weight:normal;">2.</div>
<div class="c" style="left:1250.0px;top:1330.8px;width:10.4px;height:13.5px;border:2.4px solid #606060;background:#ececec;"></div>
<div class="t" style="left:1266.0px;top:1330.2px;font-size:16.0px;transform:scaleX(0.77);color:#2e2e2e;font-weight:normal;-webkit-text-stroke:0.15px #2e2e2e;">1 Corinthians 12-14</div>
<div class="t" style="left:1228.2px;top:1352.5px;font-size:16.0px;transform:scaleX(0.77);color:#2e2e2e;font-weight:normal;">3.</div>
<div class="c" style="left:1250.0px;top:1353.0px;width:10.4px;height:13.5px;border:2.4px solid #606060;background:#ececec;"></div>
<div class="t" style="left:1266.0px;top:1352.5px;font-size:16.0px;transform:scaleX(0.77);color:#2e2e2e;font-weight:normal;-webkit-text-stroke:0.15px #2e2e2e;">1 Corinthians 15-16</div>
<div class="t" style="left:1228.2px;top:1374.8px;font-size:16.0px;transform:scaleX(0.77);color:#2e2e2e;font-weight:normal;">4.</div>
<div class="c" style="left:1250.0px;top:1375.3px;width:10.4px;height:13.5px;border:2.4px solid #606060;background:#ececec;"></div>
<div class="t" style="left:1266.0px;top:1374.8px;font-size:16.0px;transform:scaleX(0.77);color:#2e2e2e;font-weight:normal;-webkit-text-stroke:0.15px #2e2e2e;">2 Corinthians 1-4</div>
<div class="t" style="left:1228.2px;top:1397.0px;font-size:16.0px;transform:scaleX(0.77);color:#2e2e2e;font-weight:normal;">5.</div>
<div class="c" style="left:1250.0px;top:1397.6px;width:10.4px;height:13.5px;border:2.4px solid #606060;background:#ececec;"></div>
<div class="t" style="left:1266.0px;top:1397.0px;font-size:16.0px;transform:scaleX(0.77);color:#2e2e2e;font-weight:normal;-webkit-text-stroke:0.15px #2e2e2e;">2 Corinthians 5-9</div>
<div class="t" style="left:1228.2px;top:1419.3px;font-size:16.0px;transform:scaleX(0.77);color:#2e2e2e;font-weight:normal;">6.</div>
<div class="c" style="left:1250.0px;top:1419.8px;width:10.4px;height:13.5px;border:2.4px solid #606060;background:#ececec;"></div>
<div class="t" style="left:1266.0px;top:1419.3px;font-size:16.0px;transform:scaleX(0.77);color:#2e2e2e;font-weight:normal;-webkit-text-stroke:0.15px #2e2e2e;">2 Corinthians 10-13</div>
<div class="t" style="left:1228.2px;top:1441.6px;font-size:16.0px;transform:scaleX(0.77);color:#2e2e2e;font-weight:normal;">7.</div>
<div class="c" style="left:1250.0px;top:1442.1px;width:10.4px;height:13.5px;border:2.4px solid #606060;background:#ececec;"></div>
<div class="t" style="left:1266.0px;top:1441.6px;font-size:16.0px;transform:scaleX(0.77);color:#2e2e2e;font-weight:normal;-webkit-text-stroke:0.15px #2e2e2e;">Acts 20:1-3, Romans 1-3</div>
<div class="t" style="left:1228.2px;top:1463.8px;font-size:16.0px;transform:scaleX(0.77);color:#2e2e2e;font-weight:normal;">8.</div>
<div class="c" style="left:1250.0px;top:1464.4px;width:10.4px;height:13.5px;border:2.4px solid #606060;background:#ececec;"></div>
<div class="t" style="left:1266.0px;top:1463.8px;font-size:16.0px;transform:scaleX(0.77);color:#2e2e2e;font-weight:normal;-webkit-text-stroke:0.15px #2e2e2e;">Romans 4-7</div>
<div class="t" style="left:1228.2px;top:1486.1px;font-size:16.0px;transform:scaleX(0.77);color:#2e2e2e;font-weight:normal;">9.</div>
<div class="c" style="left:1250.0px;top:1486.7px;width:10.4px;height:13.5px;border:2.4px solid #606060;background:#ececec;"></div>
<div class="t" style="left:1266.0px;top:1486.1px;font-size:16.0px;transform:scaleX(0.77);color:#2e2e2e;font-weight:normal;-webkit-text-stroke:0.15px #2e2e2e;">Romans 8-10</div>
<div class="t" style="left:1228.2px;top:1508.4px;font-size:16.0px;transform:scaleX(0.77);color:#2e2e2e;font-weight:normal;">10.</div>
<div class="c" style="left:1250.0px;top:1508.9px;width:10.4px;height:13.5px;border:2.4px solid #606060;background:#ececec;"></div>
<div class="t" style="left:1266.0px;top:1508.4px;font-size:16.0px;transform:scaleX(0.77);color:#2e2e2e;font-weight:normal;-webkit-text-stroke:0.15px #2e2e2e;">Romans 11-13</div>
<div class="t" style="left:1228.2px;top:1533.0px;font-size:16.0px;transform:scaleX(0.77);color:#2e2e2e;font-weight:normal;">11.</div>
<div class="c" style="left:1250.0px;top:1533.5px;width:10.4px;height:13.5px;border:2.4px solid #606060;background:#ececec;"></div>
<div class="t" style="left:1266.0px;top:1533.0px;font-size:16.0px;transform:scaleX(0.77);color:#2e2e2e;font-weight:normal;-webkit-text-stroke:0.15px #2e2e2e;">Romans 14-16</div>
<div class="t" style="left:1228.2px;top:1555.2px;font-size:16.0px;transform:scaleX(0.77);color:#2e2e2e;font-weight:normal;">12.</div>
<div class="c" style="left:1250.0px;top:1555.8px;width:10.4px;height:13.5px;border:2.4px solid #606060;background:#ececec;"></div>
<div class="t" style="left:1266.0px;top:1555.2px;font-size:16.0px;transform:scaleX(0.77);color:#2e2e2e;font-weight:normal;-webkit-text-stroke:0.15px #2e2e2e;">Acts 20:4-23:35</div>
<div class="t" style="left:1228.2px;top:1577.5px;font-size:16.0px;transform:scaleX(0.77);color:#2e2e2e;font-weight:normal;">13.</div>
<div class="c" style="left:1250.0px;top:1578.0px;width:10.4px;height:13.5px;border:2.4px solid #606060;background:#ececec;"></div>
<div class="t" style="left:1266.0px;top:1577.5px;font-size:16.0px;transform:scaleX(0.77);color:#2e2e2e;font-weight:normal;-webkit-text-stroke:0.15px #2e2e2e;">Acts 24-26</div>
<div class="t" style="left:1228.2px;top:1599.8px;font-size:16.0px;transform:scaleX(0.77);color:#2e2e2e;font-weight:normal;">14.</div>
<div class="c" style="left:1250.0px;top:1600.3px;width:10.4px;height:13.5px;border:2.4px solid #606060;background:#ececec;"></div>
<div class="t" style="left:1266.0px;top:1599.8px;font-size:16.0px;transform:scaleX(0.77);color:#2e2e2e;font-weight:normal;-webkit-text-stroke:0.15px #2e2e2e;">Acts 27-28</div>
<div class="t" style="left:1228.2px;top:1622.0px;font-size:16.0px;transform:scaleX(0.77);color:#2e2e2e;font-weight:normal;">15.</div>
<div class="c" style="left:1250.0px;top:1622.6px;width:10.4px;height:13.5px;border:2.4px solid #606060;background:#ececec;"></div>
<div class="t" style="left:1266.0px;top:1622.0px;font-size:16.0px;transform:scaleX(0.77);color:#2e2e2e;font-weight:normal;-webkit-text-stroke:0.15px #2e2e2e;">Col 1-4, Philemon 1</div>
<div class="t" style="left:1228.2px;top:1644.3px;font-size:16.0px;transform:scaleX(0.77);color:#2e2e2e;font-weight:normal;">16.</div>
<div class="c" style="left:1250.0px;top:1644.8px;width:10.4px;height:13.5px;border:2.4px solid #606060;background:#ececec;"></div>
<div class="t" style="left:1266.0px;top:1644.3px;font-size:16.0px;transform:scaleX(0.77);color:#2e2e2e;font-weight:normal;-webkit-text-stroke:0.15px #2e2e2e;">Ephesians 1-6</div>
<div class="t" style="left:1228.2px;top:1666.6px;font-size:16.0px;transform:scaleX(0.77);color:#2e2e2e;font-weight:normal;">17.</div>
<div class="c" style="left:1250.0px;top:1667.1px;width:10.4px;height:13.5px;border:2.4px solid #606060;background:#ececec;"></div>
<div class="t" style="left:1266.0px;top:1666.6px;font-size:16.0px;transform:scaleX(0.77);color:#2e2e2e;font-weight:normal;-webkit-text-stroke:0.15px #2e2e2e;">Philemon 1-4</div>
<div class="t" style="left:1228.2px;top:1688.8px;font-size:16.0px;transform:scaleX(0.77);color:#2e2e2e;font-weight:normal;">18.</div>
<div class="c" style="left:1250.0px;top:1689.4px;width:10.4px;height:13.5px;border:2.4px solid #606060;background:#ececec;"></div>
<div class="t" style="left:1266.0px;top:1688.8px;font-size:16.0px;transform:scaleX(0.77);color:#2e2e2e;font-weight:normal;-webkit-text-stroke:0.15px #2e2e2e;">1 Timothy 1-6</div>
<div class="t" style="left:1228.2px;top:1711.1px;font-size:16.0px;transform:scaleX(0.77);color:#2e2e2e;font-weight:normal;">19.</div>
<div class="c" style="left:1250.0px;top:1711.7px;width:10.4px;height:13.5px;border:2.4px solid #606060;background:#ececec;"></div>
<div class="t" style="left:1266.0px;top:1711.1px;font-size:16.0px;transform:scaleX(0.77);color:#2e2e2e;font-weight:normal;-webkit-text-stroke:0.15px #2e2e2e;">Titus 1-3</div>
<div class="t" style="left:1228.2px;top:1733.4px;font-size:16.0px;transform:scaleX(0.77);color:#2e2e2e;font-weight:normal;">20.</div>
<div class="c" style="left:1250.0px;top:1733.9px;width:10.4px;height:13.5px;border:2.4px solid #606060;background:#ececec;"></div>
<div class="t" style="left:1266.0px;top:1733.4px;font-size:16.0px;transform:scaleX(0.77);color:#2e2e2e;font-weight:normal;-webkit-text-stroke:0.15px #2e2e2e;">1 Peter 1-5</div>
<div class="t" style="left:1228.2px;top:1758.0px;font-size:16.0px;transform:scaleX(0.77);color:#2e2e2e;font-weight:normal;">21.</div>
<div class="c" style="left:1250.0px;top:1758.5px;width:10.4px;height:13.5px;border:2.4px solid #606060;background:#ececec;"></div>
<div class="t" style="left:1266.0px;top:1758.0px;font-size:16.0px;transform:scaleX(0.77);color:#2e2e2e;font-weight:normal;-webkit-text-stroke:0.15px #2e2e2e;">Hebrews 1-6</div>
<div class="t" style="left:1228.2px;top:1780.2px;font-size:16.0px;transform:scaleX(0.77);color:#2e2e2e;font-weight:normal;">22.</div>
<div class="c" style="left:1250.0px;top:1780.8px;width:10.4px;height:13.5px;border:2.4px solid #606060;background:#ececec;"></div>
<div class="t" style="left:1266.0px;top:1780.2px;font-size:16.0px;transform:scaleX(0.77);color:#2e2e2e;font-weight:normal;-webkit-text-stroke:0.15px #2e2e2e;">Hebrews 7-10</div>
<div class="t" style="left:1228.2px;top:1802.5px;font-size:16.0px;transform:scaleX(0.77);color:#2e2e2e;font-weight:normal;">23.</div>
<div class="c" style="left:1250.0px;top:1803.0px;width:10.4px;height:13.5px;border:2.4px solid #606060;background:#ececec;"></div>
<div class="t" style="left:1266.0px;top:1802.5px;font-size:16.0px;transform:scaleX(0.77);color:#2e2e2e;font-weight:normal;-webkit-text-stroke:0.15px #2e2e2e;">Hebrews 11-13</div>
<div class="t" style="left:1228.2px;top:1824.8px;font-size:16.0px;transform:scaleX(0.77);color:#2e2e2e;font-weight:normal;">24.</div>
<div class="c" style="left:1250.0px;top:1825.3px;width:10.4px;height:13.5px;border:2.4px solid #606060;background:#ececec;"></div>
<div class="t" style="left:1266.0px;top:1824.8px;font-size:16.0px;transform:scaleX(0.77);color:#2e2e2e;font-weight:normal;-webkit-text-stroke:0.15px #2e2e2e;">2 Timothy 1-4</div>
<div class="t" style="left:1228.2px;top:1847.0px;font-size:16.0px;transform:scaleX(0.77);color:#2e2e2e;font-weight:normal;">25.</div>
<div class="c" style="left:1250.0px;top:1847.6px;width:10.4px;height:13.5px;border:2.4px solid #606060;background:#ececec;"></div>
<div class="t" style="left:1266.0px;top:1847.0px;font-size:16.0px;transform:scaleX(0.77);color:#2e2e2e;font-weight:normal;-webkit-text-stroke:0.15px #2e2e2e;">2 Peter 1-3, Jude 1</div>
<div class="t" style="left:1228.2px;top:1869.3px;font-size:16.0px;transform:scaleX(0.77);color:#2e2e2e;font-weight:normal;">26.</div>
<div class="c" style="left:1250.0px;top:1869.8px;width:10.4px;height:13.5px;border:2.4px solid #606060;background:#ececec;"></div>
<div class="t" style="left:1266.0px;top:1869.3px;font-size:16.0px;transform:scaleX(0.77);color:#2e2e2e;font-weight:normal;-webkit-text-stroke:0.15px #2e2e2e;">1 John 1-5</div>
<div class="t" style="left:1228.2px;top:1891.6px;font-size:16.0px;transform:scaleX(0.77);color:#2e2e2e;font-weight:normal;">27.</div>
<div class="c" style="left:1250.0px;top:1892.1px;width:10.4px;height:13.5px;border:2.4px solid #606060;background:#ececec;"></div>
<div class="t" style="left:1266.0px;top:1891.6px;font-size:16.0px;transform:scaleX(0.77);color:#2e2e2e;font-weight:normal;-webkit-text-stroke:0.15px #2e2e2e;">2 John 1, 3 John 1</div>
<div class="t" style="left:1228.2px;top:1913.8px;font-size:16.0px;transform:scaleX(0.77);color:#2e2e2e;font-weight:normal;">28.</div>
<div class="c" style="left:1250.0px;top:1914.4px;width:10.4px;height:13.5px;border:2.4px solid #606060;background:#ececec;"></div>
<div class="t" style="left:1266.0px;top:1913.8px;font-size:16.0px;transform:scaleX(0.77);color:#2e2e2e;font-weight:normal;-webkit-text-stroke:0.15px #2e2e2e;">Revelation 1-5</div>
<div class="t" style="left:1228.2px;top:1936.1px;font-size:16.0px;transform:scaleX(0.77);color:#2e2e2e;font-weight:normal;">29.</div>
<div class="c" style="left:1250.0px;top:1936.7px;width:10.4px;height:13.5px;border:2.4px solid #606060;background:#ececec;"></div>
<div class="t" style="left:1266.0px;top:1936.1px;font-size:16.0px;transform:scaleX(0.77);color:#2e2e2e;font-weight:normal;-webkit-text-stroke:0.15px #2e2e2e;">Revelation 6-11</div>
<div class="t" style="left:1228.2px;top:1958.4px;font-size:16.0px;transform:scaleX(0.77);color:#2e2e2e;font-weight:normal;">30.</div>
<div class="c" style="left:1250.0px;top:1958.9px;width:10.4px;height:13.5px;border:2.4px solid #606060;background:#ececec;"></div>
<div class="t" style="left:1266.0px;top:1958.4px;font-size:16.0px;transform:scaleX(0.77);color:#2e2e2e;font-weight:normal;-webkit-text-stroke:0.15px #2e2e2e;">Revelation 12-18</div>
<div class="t" style="left:1228.2px;top:1983.0px;font-size:16.0px;transform:scaleX(0.77);color:#2e2e2e;font-weight:normal;">31.</div>
<div class="c" style="left:1250.0px;top:1983.5px;width:10.4px;height:13.5px;border:2.4px solid #606060;background:#ececec;"></div>
<div class="t" style="left:1266.0px;top:1983.0px;font-size:16.0px;transform:scaleX(0.77);color:#2e2e2e;font-weight:normal;-webkit-text-stroke:0.15px #2e2e2e;">Revelation 19-22</div>
</div></body></html>
